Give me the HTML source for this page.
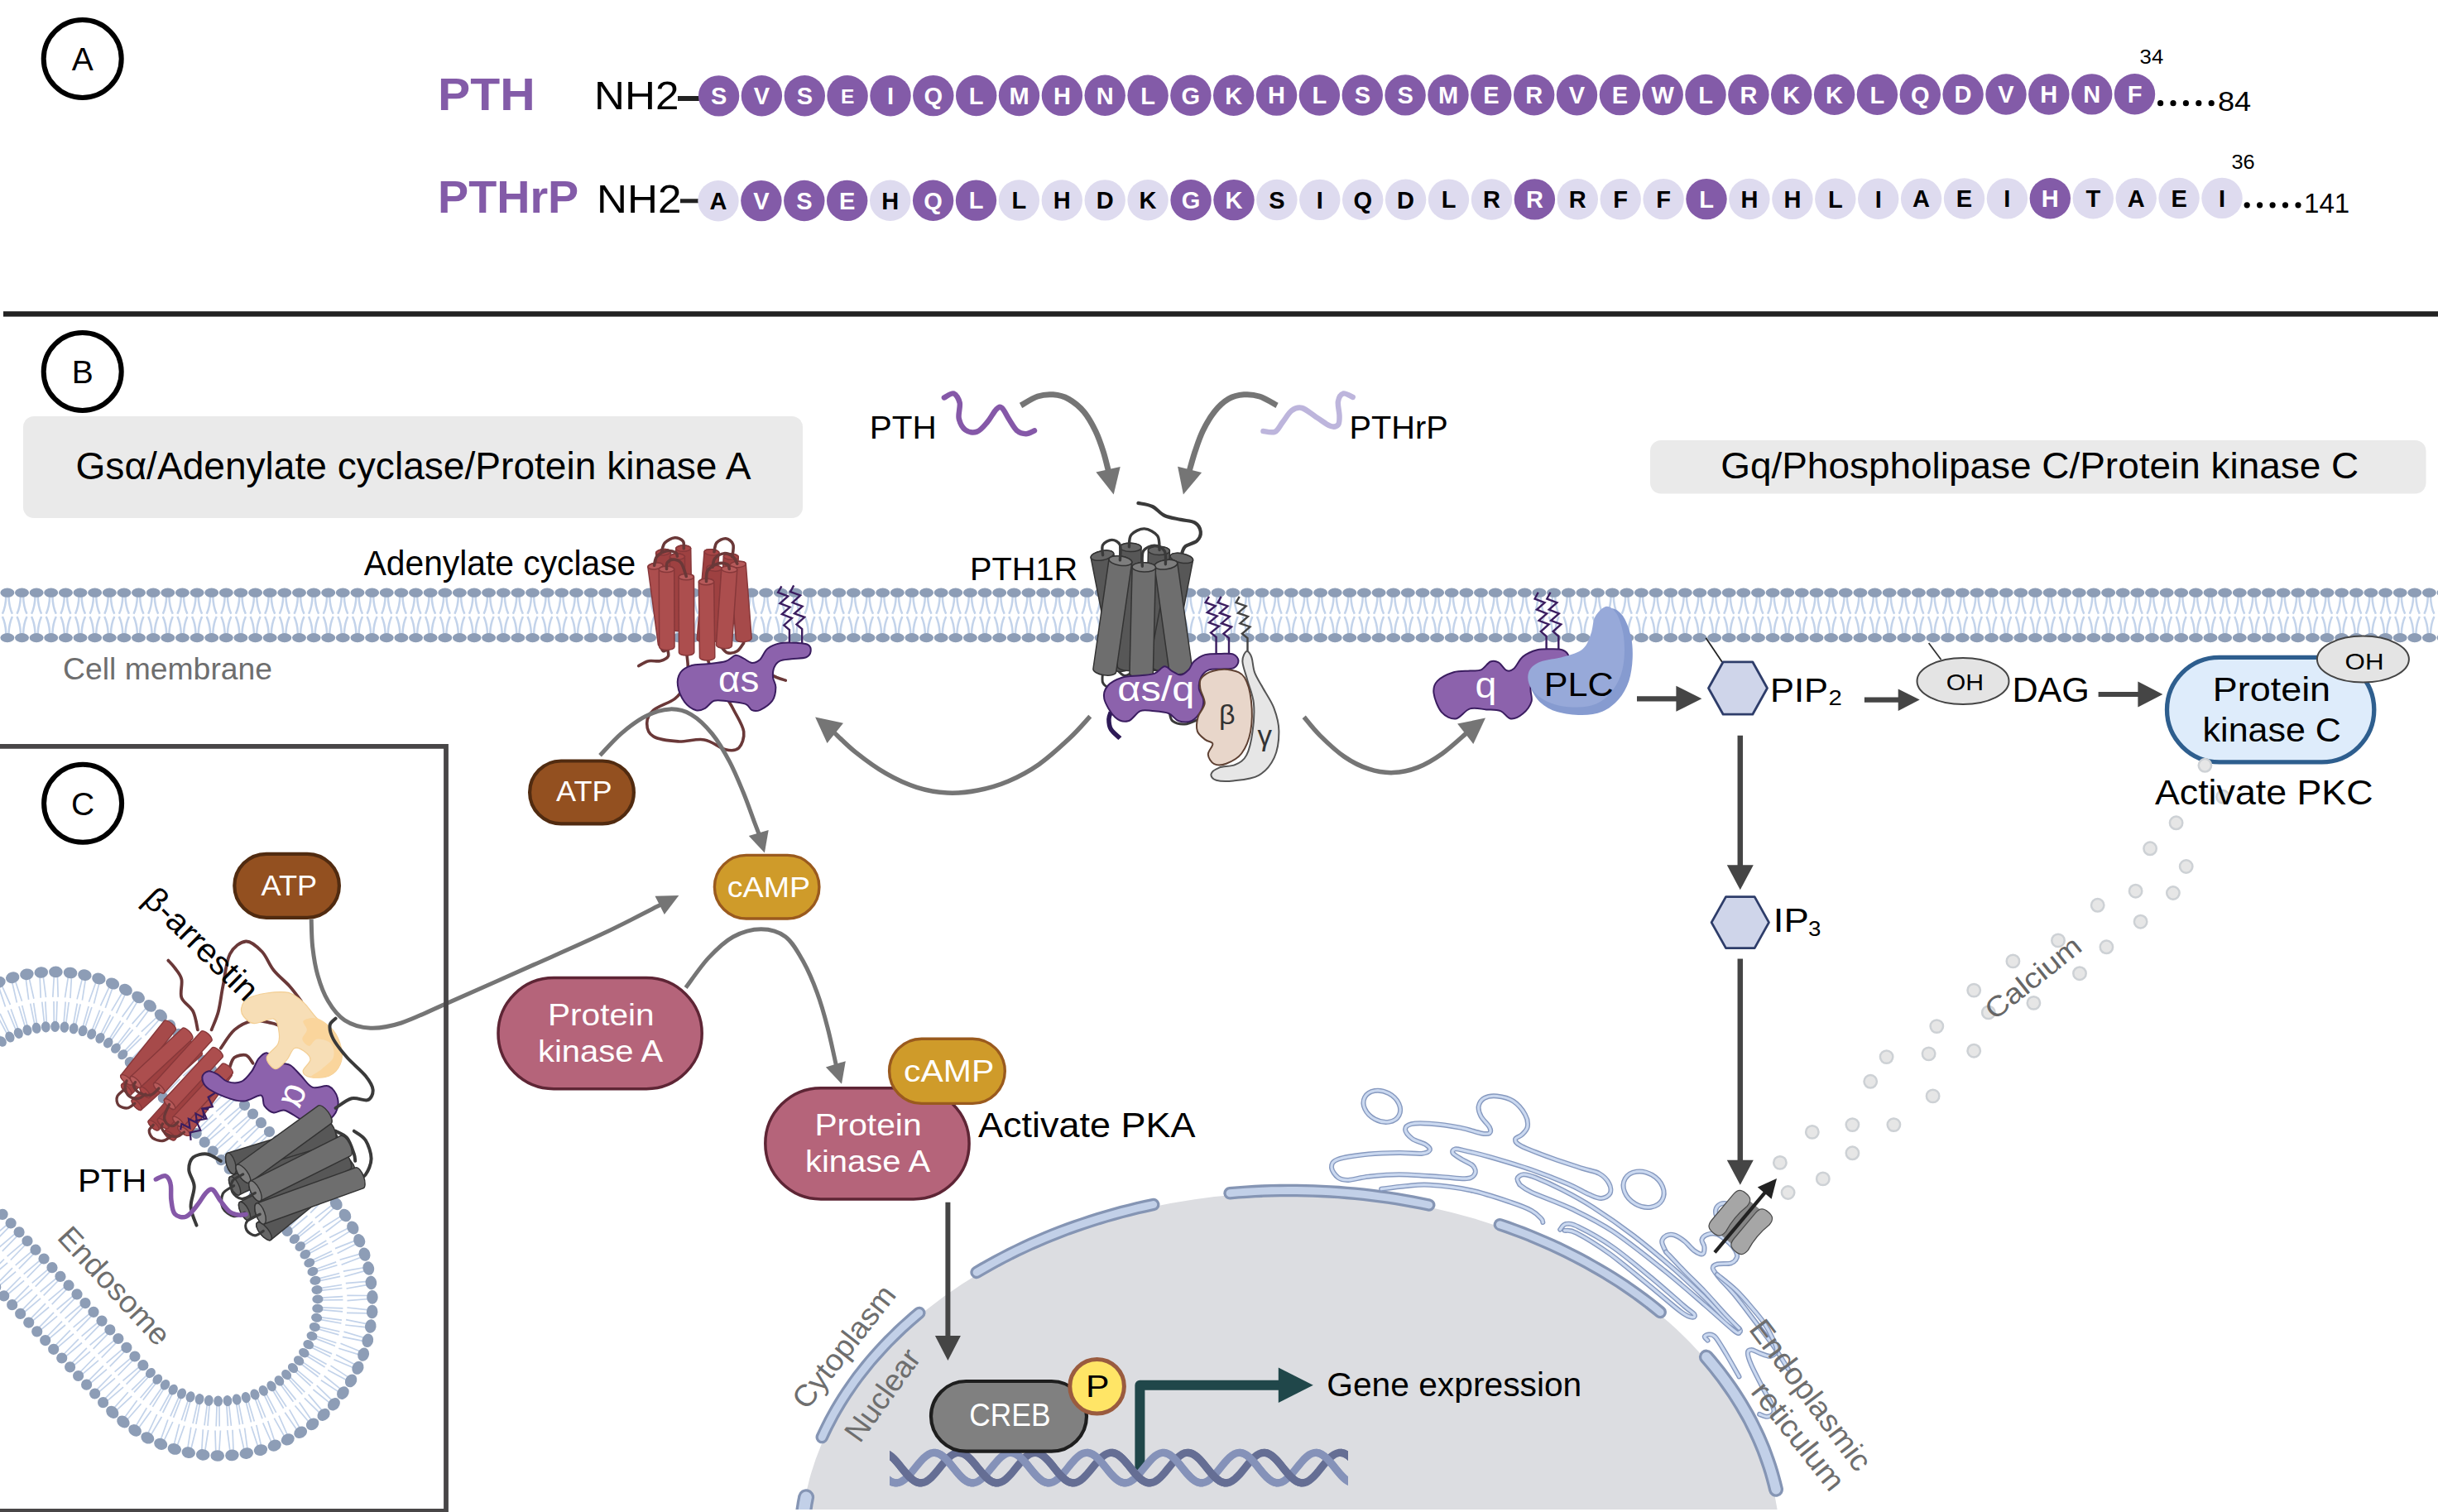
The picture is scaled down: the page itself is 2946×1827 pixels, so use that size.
<!DOCTYPE html>
<html><head><meta charset="utf-8"><title>PTH and PTHrP signalling</title>
<style>
html,body{margin:0;padding:0;background:#fff;}
body{width:2946px;height:1827px;overflow:hidden;}
svg{display:block;font-family:"Liberation Sans",sans-serif;}
</style></head><body>
<svg width="2946" height="1827" viewBox="0 0 2946 1827">
<defs>
<clipPath id="clipb"><rect x="0" y="0" width="2946" height="1823.9"/></clipPath>
<clipPath id="dnac"><rect x="1075" y="1700" width="554" height="120"/></clipPath>
<clipPath id="clipc"><rect x="0" y="902" width="539" height="923"/></clipPath>
</defs>
<circle cx="99.7" cy="71" r="47" fill="#fff" stroke="#000" stroke-width="6"/>
<text x="99.7" y="85" font-size="39" text-anchor="middle">A</text>
<text x="529" y="133.3" font-size="55.6" textLength="117.6" lengthAdjust="spacingAndGlyphs" fill="#835BA8" font-weight="bold">PTH</text>
<text x="529" y="257" font-size="55.6" textLength="170.2" lengthAdjust="spacingAndGlyphs" fill="#835BA8" font-weight="bold">PTHrP</text>
<text x="718" y="132" font-size="48" textLength="102.4" lengthAdjust="spacingAndGlyphs">NH2</text>
<text x="721" y="257" font-size="48" textLength="102.4" lengthAdjust="spacingAndGlyphs">NH2</text>
<rect x="819" y="116" width="27" height="6" fill="#222"/>
<rect x="822" y="240.3" width="22" height="5" fill="#222"/>
<g font-weight="bold" text-anchor="middle" font-size="29"><circle cx="868.6" cy="115.9" r="24.7" fill="#835BA8"/><circle cx="920.4" cy="115.8" r="24.7" fill="#835BA8"/><circle cx="972.3" cy="115.8" r="24.7" fill="#835BA8"/><circle cx="1024.1" cy="115.7" r="24.7" fill="#835BA8"/><circle cx="1076" cy="115.7" r="24.7" fill="#835BA8"/><circle cx="1127.8" cy="115.6" r="24.7" fill="#835BA8"/><circle cx="1179.7" cy="115.5" r="24.7" fill="#835BA8"/><circle cx="1231.5" cy="115.5" r="24.7" fill="#835BA8"/><circle cx="1283.4" cy="115.4" r="24.7" fill="#835BA8"/><circle cx="1335.2" cy="115.3" r="24.7" fill="#835BA8"/><circle cx="1387.1" cy="115.3" r="24.7" fill="#835BA8"/><circle cx="1438.9" cy="115.2" r="24.7" fill="#835BA8"/><circle cx="1490.7" cy="115.2" r="24.7" fill="#835BA8"/><circle cx="1542.6" cy="115.1" r="24.7" fill="#835BA8"/><circle cx="1594.4" cy="115" r="24.7" fill="#835BA8"/><circle cx="1646.3" cy="115" r="24.7" fill="#835BA8"/><circle cx="1698.1" cy="114.9" r="24.7" fill="#835BA8"/><circle cx="1750" cy="114.8" r="24.7" fill="#835BA8"/><circle cx="1801.8" cy="114.8" r="24.7" fill="#835BA8"/><circle cx="1853.7" cy="114.7" r="24.7" fill="#835BA8"/><circle cx="1905.5" cy="114.7" r="24.7" fill="#835BA8"/><circle cx="1957.4" cy="114.6" r="24.7" fill="#835BA8"/><circle cx="2009.2" cy="114.5" r="24.7" fill="#835BA8"/><circle cx="2061" cy="114.5" r="24.7" fill="#835BA8"/><circle cx="2112.9" cy="114.4" r="24.7" fill="#835BA8"/><circle cx="2164.7" cy="114.3" r="24.7" fill="#835BA8"/><circle cx="2216.6" cy="114.3" r="24.7" fill="#835BA8"/><circle cx="2268.4" cy="114.2" r="24.7" fill="#835BA8"/><circle cx="2320.3" cy="114.2" r="24.7" fill="#835BA8"/><circle cx="2372.1" cy="114.1" r="24.7" fill="#835BA8"/><circle cx="2424" cy="114" r="24.7" fill="#835BA8"/><circle cx="2475.8" cy="114" r="24.7" fill="#835BA8"/><circle cx="2527.7" cy="113.9" r="24.7" fill="#835BA8"/><circle cx="2579.5" cy="113.8" r="24.7" fill="#835BA8"/><text x="868.6" y="126.2" fill="#fff">S</text><text x="920.4" y="126.1" fill="#fff">V</text><text x="972.3" y="126.1" fill="#fff">S</text><text x="1024.1" y="125.1" fill="#fff" font-size="24.5">E</text><text x="1076" y="126" fill="#fff">I</text><text x="1127.8" y="125.9" fill="#fff">Q</text><text x="1179.7" y="125.8" fill="#fff">L</text><text x="1231.5" y="125.8" fill="#fff">M</text><text x="1283.4" y="125.7" fill="#fff">H</text><text x="1335.2" y="125.6" fill="#fff">N</text><text x="1387.1" y="125.6" fill="#fff">L</text><text x="1438.9" y="125.5" fill="#fff">G</text><text x="1490.7" y="125.5" fill="#fff">K</text><text x="1542.6" y="125.4" fill="#fff">H</text><text x="1594.4" y="125.3" fill="#fff">L</text><text x="1646.3" y="125.3" fill="#fff">S</text><text x="1698.1" y="125.2" fill="#fff">S</text><text x="1750" y="125.1" fill="#fff">M</text><text x="1801.8" y="125.1" fill="#fff">E</text><text x="1853.7" y="125" fill="#fff">R</text><text x="1905.5" y="125" fill="#fff">V</text><text x="1957.4" y="124.9" fill="#fff">E</text><text x="2009.2" y="124.8" fill="#fff">W</text><text x="2061" y="124.8" fill="#fff">L</text><text x="2112.9" y="124.7" fill="#fff">R</text><text x="2164.7" y="124.6" fill="#fff">K</text><text x="2216.6" y="124.6" fill="#fff">K</text><text x="2268.4" y="124.5" fill="#fff">L</text><text x="2320.3" y="124.5" fill="#fff">Q</text><text x="2372.1" y="124.4" fill="#fff">D</text><text x="2424" y="124.3" fill="#fff">V</text><text x="2475.8" y="124.3" fill="#fff">H</text><text x="2527.7" y="124.2" fill="#fff">N</text><text x="2579.5" y="124.1" fill="#fff">F</text><circle cx="868" cy="242.7" r="24.7" fill="#DEDBEF"/><circle cx="1075.7" cy="242.3" r="24.7" fill="#DEDBEF"/><circle cx="1231.4" cy="242" r="24.7" fill="#DEDBEF"/><circle cx="1283.3" cy="242" r="24.7" fill="#DEDBEF"/><circle cx="1335.2" cy="241.9" r="24.7" fill="#DEDBEF"/><circle cx="1387.1" cy="241.8" r="24.7" fill="#DEDBEF"/><circle cx="1542.9" cy="241.5" r="24.7" fill="#DEDBEF"/><circle cx="1594.8" cy="241.4" r="24.7" fill="#DEDBEF"/><circle cx="1646.7" cy="241.3" r="24.7" fill="#DEDBEF"/><circle cx="1698.6" cy="241.2" r="24.7" fill="#DEDBEF"/><circle cx="1750.5" cy="241.1" r="24.7" fill="#DEDBEF"/><circle cx="1802.5" cy="241" r="24.7" fill="#DEDBEF"/><circle cx="1906.3" cy="240.8" r="24.7" fill="#DEDBEF"/><circle cx="1958.2" cy="240.7" r="24.7" fill="#DEDBEF"/><circle cx="2010.1" cy="240.6" r="24.7" fill="#DEDBEF"/><circle cx="2113.9" cy="240.5" r="24.7" fill="#DEDBEF"/><circle cx="2165.9" cy="240.4" r="24.7" fill="#DEDBEF"/><circle cx="2217.8" cy="240.3" r="24.7" fill="#DEDBEF"/><circle cx="2269.7" cy="240.2" r="24.7" fill="#DEDBEF"/><circle cx="2321.6" cy="240.1" r="24.7" fill="#DEDBEF"/><circle cx="2373.5" cy="240" r="24.7" fill="#DEDBEF"/><circle cx="2425.4" cy="239.9" r="24.7" fill="#DEDBEF"/><circle cx="2529.3" cy="239.7" r="24.7" fill="#DEDBEF"/><circle cx="2581.2" cy="239.6" r="24.7" fill="#DEDBEF"/><circle cx="2633.1" cy="239.5" r="24.7" fill="#DEDBEF"/><circle cx="2685" cy="239.4" r="24.7" fill="#DEDBEF"/><circle cx="919.9" cy="242.6" r="24.7" fill="#835BA8"/><circle cx="971.8" cy="242.5" r="24.7" fill="#835BA8"/><circle cx="1023.7" cy="242.4" r="24.7" fill="#835BA8"/><circle cx="1127.6" cy="242.2" r="24.7" fill="#835BA8"/><circle cx="1179.5" cy="242.1" r="24.7" fill="#835BA8"/><circle cx="1439.1" cy="241.7" r="24.7" fill="#835BA8"/><circle cx="1491" cy="241.6" r="24.7" fill="#835BA8"/><circle cx="1854.4" cy="240.9" r="24.7" fill="#835BA8"/><circle cx="2062" cy="240.6" r="24.7" fill="#835BA8"/><circle cx="2477.3" cy="239.8" r="24.7" fill="#835BA8"/><text x="868" y="253" fill="#000">A</text><text x="919.9" y="252.9" fill="#fff">V</text><text x="971.8" y="252.8" fill="#fff">S</text><text x="1023.7" y="252.7" fill="#fff">E</text><text x="1075.7" y="252.6" fill="#000">H</text><text x="1127.6" y="252.5" fill="#fff">Q</text><text x="1179.5" y="252.4" fill="#fff">L</text><text x="1231.4" y="252.3" fill="#000">L</text><text x="1283.3" y="252.3" fill="#000">H</text><text x="1335.2" y="252.2" fill="#000">D</text><text x="1387.1" y="252.1" fill="#000">K</text><text x="1439.1" y="252" fill="#fff">G</text><text x="1491" y="251.9" fill="#fff">K</text><text x="1542.9" y="251.8" fill="#000">S</text><text x="1594.8" y="251.7" fill="#000">I</text><text x="1646.7" y="251.6" fill="#000">Q</text><text x="1698.6" y="251.5" fill="#000">D</text><text x="1750.5" y="251.4" fill="#000">L</text><text x="1802.5" y="251.3" fill="#000">R</text><text x="1854.4" y="251.2" fill="#fff">R</text><text x="1906.3" y="251.1" fill="#000">R</text><text x="1958.2" y="251" fill="#000">F</text><text x="2010.1" y="250.9" fill="#000">F</text><text x="2062" y="250.9" fill="#fff">L</text><text x="2113.9" y="250.8" fill="#000">H</text><text x="2165.9" y="250.7" fill="#000">H</text><text x="2217.8" y="250.6" fill="#000">L</text><text x="2269.7" y="250.5" fill="#000">I</text><text x="2321.6" y="250.4" fill="#000">A</text><text x="2373.5" y="250.3" fill="#000">E</text><text x="2425.4" y="250.2" fill="#000">I</text><text x="2477.3" y="250.1" fill="#fff">H</text><text x="2529.3" y="250" fill="#000">T</text><text x="2581.2" y="249.9" fill="#000">A</text><text x="2633.1" y="249.8" fill="#000">E</text><text x="2685" y="249.7" fill="#000">I</text></g>
<text x="2585.6" y="76.8" font-size="24" textLength="28.6" lengthAdjust="spacingAndGlyphs">34</text>
<text x="2696.4" y="203.9" font-size="24" textLength="28.2" lengthAdjust="spacingAndGlyphs">36</text>
<circle cx="2610.6" cy="124.7" r="3.6"/>
<circle cx="2715.2" cy="247.8" r="3.6"/>
<circle cx="2626" cy="124.7" r="3.6"/>
<circle cx="2730.6" cy="247.8" r="3.6"/>
<circle cx="2641.4" cy="124.7" r="3.6"/>
<circle cx="2746.1" cy="247.8" r="3.6"/>
<circle cx="2656.8" cy="124.7" r="3.6"/>
<circle cx="2761.5" cy="247.8" r="3.6"/>
<circle cx="2672.2" cy="124.7" r="3.6"/>
<circle cx="2777" cy="247.8" r="3.6"/>
<text x="2680" y="134.2" font-size="33" textLength="40.2" lengthAdjust="spacingAndGlyphs">84</text>
<text x="2784" y="257.2" font-size="33" textLength="55.3" lengthAdjust="spacingAndGlyphs">141</text>
<rect x="4" y="376.2" width="2942" height="6.4" fill="#222"/>
<circle cx="99.7" cy="449" r="47" fill="#fff" stroke="#000" stroke-width="6"/>
<text x="99.7" y="463" font-size="39" text-anchor="middle">B</text>
<rect x="28" y="503" width="942" height="123" rx="13" fill="#EAEAEA"/>
<text x="91.5" y="579" font-size="46" textLength="816" lengthAdjust="spacingAndGlyphs">Gsα/Adenylate cyclase/Protein kinase A</text>
<rect x="1994" y="532" width="937.5" height="64.5" rx="13" fill="#EAEAEA"/>
<text x="2079.2" y="577.7" font-size="44" textLength="771" lengthAdjust="spacingAndGlyphs">Gq/Phospholipase C/Protein kinase C</text>
<path d="M7.3,720.7c-0.2,7.5 -1.4,14.5 -4.4,21.1M10.5,720.7c0.2,7.5 1.4,14.5 4.4,21.1M7.3,766.1c-0.2,-7.5 -1.4,-14.5 -4.4,-21.1M10.5,766.1c0.2,-7.5 1.4,-14.5 4.4,-21.1M24.9,720.7c-0.2,7.5 -1.4,14.5 -4.4,21.1M28.1,720.7c0.2,7.5 1.4,14.5 4.4,21.1M24.9,766.1c-0.2,-7.5 -1.4,-14.5 -4.4,-21.1M28.1,766.1c0.2,-7.5 1.4,-14.5 4.4,-21.1M42.5,720.7c-0.2,7.5 -1.4,14.5 -4.4,21.1M45.7,720.7c0.2,7.5 1.4,14.5 4.4,21.1M42.5,766.1c-0.2,-7.5 -1.4,-14.5 -4.4,-21.1M45.7,766.1c0.2,-7.5 1.4,-14.5 4.4,-21.1M60.1,720.7c-0.2,7.5 -1.4,14.5 -4.4,21.1M63.4,720.7c0.2,7.5 1.4,14.5 4.4,21.1M60.1,766.1c-0.2,-7.5 -1.4,-14.5 -4.4,-21.1M63.4,766.1c0.2,-7.5 1.4,-14.5 4.4,-21.1M77.8,720.7c-0.2,7.5 -1.4,14.5 -4.4,21.1M81,720.7c0.2,7.5 1.4,14.5 4.4,21.1M77.8,766.1c-0.2,-7.5 -1.4,-14.5 -4.4,-21.1M81,766.1c0.2,-7.5 1.4,-14.5 4.4,-21.1M95.4,720.7c-0.2,7.5 -1.4,14.5 -4.4,21.1M98.6,720.7c0.2,7.5 1.4,14.5 4.4,21.1M95.4,766.1c-0.2,-7.5 -1.4,-14.5 -4.4,-21.1M98.6,766.1c0.2,-7.5 1.4,-14.5 4.4,-21.1M113,720.7c-0.2,7.5 -1.4,14.5 -4.4,21.1M116.2,720.7c0.2,7.5 1.4,14.5 4.4,21.1M113,766.1c-0.2,-7.5 -1.4,-14.5 -4.4,-21.1M116.2,766.1c0.2,-7.5 1.4,-14.5 4.4,-21.1M130.7,720.7c-0.2,7.5 -1.4,14.5 -4.4,21.1M133.9,720.7c0.2,7.5 1.4,14.5 4.4,21.1M130.7,766.1c-0.2,-7.5 -1.4,-14.5 -4.4,-21.1M133.9,766.1c0.2,-7.5 1.4,-14.5 4.4,-21.1M148.3,720.7c-0.2,7.5 -1.4,14.5 -4.4,21.1M151.5,720.7c0.2,7.5 1.4,14.5 4.4,21.1M148.3,766.1c-0.2,-7.5 -1.4,-14.5 -4.4,-21.1M151.5,766.1c0.2,-7.5 1.4,-14.5 4.4,-21.1M165.9,720.7c-0.2,7.5 -1.4,14.5 -4.4,21.1M169.1,720.7c0.2,7.5 1.4,14.5 4.4,21.1M165.9,766.1c-0.2,-7.5 -1.4,-14.5 -4.4,-21.1M169.1,766.1c0.2,-7.5 1.4,-14.5 4.4,-21.1M183.6,720.7c-0.2,7.5 -1.4,14.5 -4.4,21.1M186.8,720.7c0.2,7.5 1.4,14.5 4.4,21.1M183.6,766.1c-0.2,-7.5 -1.4,-14.5 -4.4,-21.1M186.8,766.1c0.2,-7.5 1.4,-14.5 4.4,-21.1M201.2,720.7c-0.2,7.5 -1.4,14.5 -4.4,21.1M204.4,720.7c0.2,7.5 1.4,14.5 4.4,21.1M201.2,766.1c-0.2,-7.5 -1.4,-14.5 -4.4,-21.1M204.4,766.1c0.2,-7.5 1.4,-14.5 4.4,-21.1M218.8,720.7c-0.2,7.5 -1.4,14.5 -4.4,21.1M222,720.7c0.2,7.5 1.4,14.5 4.4,21.1M218.8,766.1c-0.2,-7.5 -1.4,-14.5 -4.4,-21.1M222,766.1c0.2,-7.5 1.4,-14.5 4.4,-21.1M236.5,720.7c-0.2,7.5 -1.4,14.5 -4.4,21.1M239.7,720.7c0.2,7.5 1.4,14.5 4.4,21.1M236.5,766.1c-0.2,-7.5 -1.4,-14.5 -4.4,-21.1M239.7,766.1c0.2,-7.5 1.4,-14.5 4.4,-21.1M254.1,720.7c-0.2,7.5 -1.4,14.5 -4.4,21.1M257.3,720.7c0.2,7.5 1.4,14.5 4.4,21.1M254.1,766.1c-0.2,-7.5 -1.4,-14.5 -4.4,-21.1M257.3,766.1c0.2,-7.5 1.4,-14.5 4.4,-21.1M271.7,720.7c-0.2,7.5 -1.4,14.5 -4.4,21.1M274.9,720.7c0.2,7.5 1.4,14.5 4.4,21.1M271.7,766.1c-0.2,-7.5 -1.4,-14.5 -4.4,-21.1M274.9,766.1c0.2,-7.5 1.4,-14.5 4.4,-21.1M289.3,720.7c-0.2,7.5 -1.4,14.5 -4.4,21.1M292.5,720.7c0.2,7.5 1.4,14.5 4.4,21.1M289.3,766.1c-0.2,-7.5 -1.4,-14.5 -4.4,-21.1M292.5,766.1c0.2,-7.5 1.4,-14.5 4.4,-21.1M307,720.7c-0.2,7.5 -1.4,14.5 -4.4,21.1M310.2,720.7c0.2,7.5 1.4,14.5 4.4,21.1M307,766.1c-0.2,-7.5 -1.4,-14.5 -4.4,-21.1M310.2,766.1c0.2,-7.5 1.4,-14.5 4.4,-21.1M324.6,720.7c-0.2,7.5 -1.4,14.5 -4.4,21.1M327.8,720.7c0.2,7.5 1.4,14.5 4.4,21.1M324.6,766.1c-0.2,-7.5 -1.4,-14.5 -4.4,-21.1M327.8,766.1c0.2,-7.5 1.4,-14.5 4.4,-21.1M342.2,720.7c-0.2,7.5 -1.4,14.5 -4.4,21.1M345.4,720.7c0.2,7.5 1.4,14.5 4.4,21.1M342.2,766.1c-0.2,-7.5 -1.4,-14.5 -4.4,-21.1M345.4,766.1c0.2,-7.5 1.4,-14.5 4.4,-21.1M359.9,720.7c-0.2,7.5 -1.4,14.5 -4.4,21.1M363.1,720.7c0.2,7.5 1.4,14.5 4.4,21.1M359.9,766.1c-0.2,-7.5 -1.4,-14.5 -4.4,-21.1M363.1,766.1c0.2,-7.5 1.4,-14.5 4.4,-21.1M377.5,720.7c-0.2,7.5 -1.4,14.5 -4.4,21.1M380.7,720.7c0.2,7.5 1.4,14.5 4.4,21.1M377.5,766.1c-0.2,-7.5 -1.4,-14.5 -4.4,-21.1M380.7,766.1c0.2,-7.5 1.4,-14.5 4.4,-21.1M395.1,720.7c-0.2,7.5 -1.4,14.5 -4.4,21.1M398.3,720.7c0.2,7.5 1.4,14.5 4.4,21.1M395.1,766.1c-0.2,-7.5 -1.4,-14.5 -4.4,-21.1M398.3,766.1c0.2,-7.5 1.4,-14.5 4.4,-21.1M412.7,720.7c-0.2,7.5 -1.4,14.5 -4.4,21.1M415.9,720.7c0.2,7.5 1.4,14.5 4.4,21.1M412.7,766.1c-0.2,-7.5 -1.4,-14.5 -4.4,-21.1M415.9,766.1c0.2,-7.5 1.4,-14.5 4.4,-21.1M430.4,720.7c-0.2,7.5 -1.4,14.5 -4.4,21.1M433.6,720.7c0.2,7.5 1.4,14.5 4.4,21.1M430.4,766.1c-0.2,-7.5 -1.4,-14.5 -4.4,-21.1M433.6,766.1c0.2,-7.5 1.4,-14.5 4.4,-21.1M448,720.7c-0.2,7.5 -1.4,14.5 -4.4,21.1M451.2,720.7c0.2,7.5 1.4,14.5 4.4,21.1M448,766.1c-0.2,-7.5 -1.4,-14.5 -4.4,-21.1M451.2,766.1c0.2,-7.5 1.4,-14.5 4.4,-21.1M465.6,720.7c-0.2,7.5 -1.4,14.5 -4.4,21.1M468.8,720.7c0.2,7.5 1.4,14.5 4.4,21.1M465.6,766.1c-0.2,-7.5 -1.4,-14.5 -4.4,-21.1M468.8,766.1c0.2,-7.5 1.4,-14.5 4.4,-21.1M483.3,720.7c-0.2,7.5 -1.4,14.5 -4.4,21.1M486.5,720.7c0.2,7.5 1.4,14.5 4.4,21.1M483.3,766.1c-0.2,-7.5 -1.4,-14.5 -4.4,-21.1M486.5,766.1c0.2,-7.5 1.4,-14.5 4.4,-21.1M500.9,720.7c-0.2,7.5 -1.4,14.5 -4.4,21.1M504.1,720.7c0.2,7.5 1.4,14.5 4.4,21.1M500.9,766.1c-0.2,-7.5 -1.4,-14.5 -4.4,-21.1M504.1,766.1c0.2,-7.5 1.4,-14.5 4.4,-21.1M518.5,720.7c-0.2,7.5 -1.4,14.5 -4.4,21.1M521.7,720.7c0.2,7.5 1.4,14.5 4.4,21.1M518.5,766.1c-0.2,-7.5 -1.4,-14.5 -4.4,-21.1M521.7,766.1c0.2,-7.5 1.4,-14.5 4.4,-21.1M536.2,720.7c-0.2,7.5 -1.4,14.5 -4.4,21.1M539.4,720.7c0.2,7.5 1.4,14.5 4.4,21.1M536.2,766.1c-0.2,-7.5 -1.4,-14.5 -4.4,-21.1M539.4,766.1c0.2,-7.5 1.4,-14.5 4.4,-21.1M553.8,720.7c-0.2,7.5 -1.4,14.5 -4.4,21.1M557,720.7c0.2,7.5 1.4,14.5 4.4,21.1M553.8,766.1c-0.2,-7.5 -1.4,-14.5 -4.4,-21.1M557,766.1c0.2,-7.5 1.4,-14.5 4.4,-21.1M571.4,720.7c-0.2,7.5 -1.4,14.5 -4.4,21.1M574.6,720.7c0.2,7.5 1.4,14.5 4.4,21.1M571.4,766.1c-0.2,-7.5 -1.4,-14.5 -4.4,-21.1M574.6,766.1c0.2,-7.5 1.4,-14.5 4.4,-21.1M589,720.7c-0.2,7.5 -1.4,14.5 -4.4,21.1M592.2,720.7c0.2,7.5 1.4,14.5 4.4,21.1M589,766.1c-0.2,-7.5 -1.4,-14.5 -4.4,-21.1M592.2,766.1c0.2,-7.5 1.4,-14.5 4.4,-21.1M606.7,720.7c-0.2,7.5 -1.4,14.5 -4.4,21.1M609.9,720.7c0.2,7.5 1.4,14.5 4.4,21.1M606.7,766.1c-0.2,-7.5 -1.4,-14.5 -4.4,-21.1M609.9,766.1c0.2,-7.5 1.4,-14.5 4.4,-21.1M624.3,720.7c-0.2,7.5 -1.4,14.5 -4.4,21.1M627.5,720.7c0.2,7.5 1.4,14.5 4.4,21.1M624.3,766.1c-0.2,-7.5 -1.4,-14.5 -4.4,-21.1M627.5,766.1c0.2,-7.5 1.4,-14.5 4.4,-21.1M641.9,720.7c-0.2,7.5 -1.4,14.5 -4.4,21.1M645.1,720.7c0.2,7.5 1.4,14.5 4.4,21.1M641.9,766.1c-0.2,-7.5 -1.4,-14.5 -4.4,-21.1M645.1,766.1c0.2,-7.5 1.4,-14.5 4.4,-21.1M659.6,720.7c-0.2,7.5 -1.4,14.5 -4.4,21.1M662.8,720.7c0.2,7.5 1.4,14.5 4.4,21.1M659.6,766.1c-0.2,-7.5 -1.4,-14.5 -4.4,-21.1M662.8,766.1c0.2,-7.5 1.4,-14.5 4.4,-21.1M677.2,720.7c-0.2,7.5 -1.4,14.5 -4.4,21.1M680.4,720.7c0.2,7.5 1.4,14.5 4.4,21.1M677.2,766.1c-0.2,-7.5 -1.4,-14.5 -4.4,-21.1M680.4,766.1c0.2,-7.5 1.4,-14.5 4.4,-21.1M694.8,720.7c-0.2,7.5 -1.4,14.5 -4.4,21.1M698,720.7c0.2,7.5 1.4,14.5 4.4,21.1M694.8,766.1c-0.2,-7.5 -1.4,-14.5 -4.4,-21.1M698,766.1c0.2,-7.5 1.4,-14.5 4.4,-21.1M712.5,720.7c-0.2,7.5 -1.4,14.5 -4.4,21.1M715.7,720.7c0.2,7.5 1.4,14.5 4.4,21.1M712.5,766.1c-0.2,-7.5 -1.4,-14.5 -4.4,-21.1M715.7,766.1c0.2,-7.5 1.4,-14.5 4.4,-21.1M730.1,720.7c-0.2,7.5 -1.4,14.5 -4.4,21.1M733.3,720.7c0.2,7.5 1.4,14.5 4.4,21.1M730.1,766.1c-0.2,-7.5 -1.4,-14.5 -4.4,-21.1M733.3,766.1c0.2,-7.5 1.4,-14.5 4.4,-21.1M747.7,720.7c-0.2,7.5 -1.4,14.5 -4.4,21.1M750.9,720.7c0.2,7.5 1.4,14.5 4.4,21.1M747.7,766.1c-0.2,-7.5 -1.4,-14.5 -4.4,-21.1M750.9,766.1c0.2,-7.5 1.4,-14.5 4.4,-21.1M765.3,720.7c-0.2,7.5 -1.4,14.5 -4.4,21.1M768.5,720.7c0.2,7.5 1.4,14.5 4.4,21.1M765.3,766.1c-0.2,-7.5 -1.4,-14.5 -4.4,-21.1M768.5,766.1c0.2,-7.5 1.4,-14.5 4.4,-21.1M783,720.7c-0.2,7.5 -1.4,14.5 -4.4,21.1M786.2,720.7c0.2,7.5 1.4,14.5 4.4,21.1M783,766.1c-0.2,-7.5 -1.4,-14.5 -4.4,-21.1M786.2,766.1c0.2,-7.5 1.4,-14.5 4.4,-21.1M800.6,720.7c-0.2,7.5 -1.4,14.5 -4.4,21.1M803.8,720.7c0.2,7.5 1.4,14.5 4.4,21.1M800.6,766.1c-0.2,-7.5 -1.4,-14.5 -4.4,-21.1M803.8,766.1c0.2,-7.5 1.4,-14.5 4.4,-21.1M818.2,720.7c-0.2,7.5 -1.4,14.5 -4.4,21.1M821.4,720.7c0.2,7.5 1.4,14.5 4.4,21.1M818.2,766.1c-0.2,-7.5 -1.4,-14.5 -4.4,-21.1M821.4,766.1c0.2,-7.5 1.4,-14.5 4.4,-21.1M835.9,720.7c-0.2,7.5 -1.4,14.5 -4.4,21.1M839.1,720.7c0.2,7.5 1.4,14.5 4.4,21.1M835.9,766.1c-0.2,-7.5 -1.4,-14.5 -4.4,-21.1M839.1,766.1c0.2,-7.5 1.4,-14.5 4.4,-21.1M853.5,720.7c-0.2,7.5 -1.4,14.5 -4.4,21.1M856.7,720.7c0.2,7.5 1.4,14.5 4.4,21.1M853.5,766.1c-0.2,-7.5 -1.4,-14.5 -4.4,-21.1M856.7,766.1c0.2,-7.5 1.4,-14.5 4.4,-21.1M871.1,720.7c-0.2,7.5 -1.4,14.5 -4.4,21.1M874.3,720.7c0.2,7.5 1.4,14.5 4.4,21.1M871.1,766.1c-0.2,-7.5 -1.4,-14.5 -4.4,-21.1M874.3,766.1c0.2,-7.5 1.4,-14.5 4.4,-21.1M888.8,720.7c-0.2,7.5 -1.4,14.5 -4.4,21.1M892,720.7c0.2,7.5 1.4,14.5 4.4,21.1M888.8,766.1c-0.2,-7.5 -1.4,-14.5 -4.4,-21.1M892,766.1c0.2,-7.5 1.4,-14.5 4.4,-21.1M906.4,720.7c-0.2,7.5 -1.4,14.5 -4.4,21.1M909.6,720.7c0.2,7.5 1.4,14.5 4.4,21.1M906.4,766.1c-0.2,-7.5 -1.4,-14.5 -4.4,-21.1M909.6,766.1c0.2,-7.5 1.4,-14.5 4.4,-21.1M924,720.7c-0.2,7.5 -1.4,14.5 -4.4,21.1M927.2,720.7c0.2,7.5 1.4,14.5 4.4,21.1M924,766.1c-0.2,-7.5 -1.4,-14.5 -4.4,-21.1M927.2,766.1c0.2,-7.5 1.4,-14.5 4.4,-21.1M941.6,720.7c-0.2,7.5 -1.4,14.5 -4.4,21.1M944.9,720.7c0.2,7.5 1.4,14.5 4.4,21.1M941.6,766.1c-0.2,-7.5 -1.4,-14.5 -4.4,-21.1M944.9,766.1c0.2,-7.5 1.4,-14.5 4.4,-21.1M959.3,720.7c-0.2,7.5 -1.4,14.5 -4.4,21.1M962.5,720.7c0.2,7.5 1.4,14.5 4.4,21.1M959.3,766.1c-0.2,-7.5 -1.4,-14.5 -4.4,-21.1M962.5,766.1c0.2,-7.5 1.4,-14.5 4.4,-21.1M976.9,720.7c-0.2,7.5 -1.4,14.5 -4.4,21.1M980.1,720.7c0.2,7.5 1.4,14.5 4.4,21.1M976.9,766.1c-0.2,-7.5 -1.4,-14.5 -4.4,-21.1M980.1,766.1c0.2,-7.5 1.4,-14.5 4.4,-21.1M994.5,720.7c-0.2,7.5 -1.4,14.5 -4.4,21.1M997.7,720.7c0.2,7.5 1.4,14.5 4.4,21.1M994.5,766.1c-0.2,-7.5 -1.4,-14.5 -4.4,-21.1M997.7,766.1c0.2,-7.5 1.4,-14.5 4.4,-21.1M1012.2,720.7c-0.2,7.5 -1.4,14.5 -4.4,21.1M1015.4,720.7c0.2,7.5 1.4,14.5 4.4,21.1M1012.2,766.1c-0.2,-7.5 -1.4,-14.5 -4.4,-21.1M1015.4,766.1c0.2,-7.5 1.4,-14.5 4.4,-21.1M1029.8,720.7c-0.2,7.5 -1.4,14.5 -4.4,21.1M1033,720.7c0.2,7.5 1.4,14.5 4.4,21.1M1029.8,766.1c-0.2,-7.5 -1.4,-14.5 -4.4,-21.1M1033,766.1c0.2,-7.5 1.4,-14.5 4.4,-21.1M1047.4,720.7c-0.2,7.5 -1.4,14.5 -4.4,21.1M1050.6,720.7c0.2,7.5 1.4,14.5 4.4,21.1M1047.4,766.1c-0.2,-7.5 -1.4,-14.5 -4.4,-21.1M1050.6,766.1c0.2,-7.5 1.4,-14.5 4.4,-21.1M1065.1,720.7c-0.2,7.5 -1.4,14.5 -4.4,21.1M1068.3,720.7c0.2,7.5 1.4,14.5 4.4,21.1M1065.1,766.1c-0.2,-7.5 -1.4,-14.5 -4.4,-21.1M1068.3,766.1c0.2,-7.5 1.4,-14.5 4.4,-21.1M1082.7,720.7c-0.2,7.5 -1.4,14.5 -4.4,21.1M1085.9,720.7c0.2,7.5 1.4,14.5 4.4,21.1M1082.7,766.1c-0.2,-7.5 -1.4,-14.5 -4.4,-21.1M1085.9,766.1c0.2,-7.5 1.4,-14.5 4.4,-21.1M1100.3,720.7c-0.2,7.5 -1.4,14.5 -4.4,21.1M1103.5,720.7c0.2,7.5 1.4,14.5 4.4,21.1M1100.3,766.1c-0.2,-7.5 -1.4,-14.5 -4.4,-21.1M1103.5,766.1c0.2,-7.5 1.4,-14.5 4.4,-21.1M1117.9,720.7c-0.2,7.5 -1.4,14.5 -4.4,21.1M1121.1,720.7c0.2,7.5 1.4,14.5 4.4,21.1M1117.9,766.1c-0.2,-7.5 -1.4,-14.5 -4.4,-21.1M1121.1,766.1c0.2,-7.5 1.4,-14.5 4.4,-21.1M1135.6,720.7c-0.2,7.5 -1.4,14.5 -4.4,21.1M1138.8,720.7c0.2,7.5 1.4,14.5 4.4,21.1M1135.6,766.1c-0.2,-7.5 -1.4,-14.5 -4.4,-21.1M1138.8,766.1c0.2,-7.5 1.4,-14.5 4.4,-21.1M1153.2,720.7c-0.2,7.5 -1.4,14.5 -4.4,21.1M1156.4,720.7c0.2,7.5 1.4,14.5 4.4,21.1M1153.2,766.1c-0.2,-7.5 -1.4,-14.5 -4.4,-21.1M1156.4,766.1c0.2,-7.5 1.4,-14.5 4.4,-21.1M1170.8,720.7c-0.2,7.5 -1.4,14.5 -4.4,21.1M1174,720.7c0.2,7.5 1.4,14.5 4.4,21.1M1170.8,766.1c-0.2,-7.5 -1.4,-14.5 -4.4,-21.1M1174,766.1c0.2,-7.5 1.4,-14.5 4.4,-21.1M1188.5,720.7c-0.2,7.5 -1.4,14.5 -4.4,21.1M1191.7,720.7c0.2,7.5 1.4,14.5 4.4,21.1M1188.5,766.1c-0.2,-7.5 -1.4,-14.5 -4.4,-21.1M1191.7,766.1c0.2,-7.5 1.4,-14.5 4.4,-21.1M1206.1,720.7c-0.2,7.5 -1.4,14.5 -4.4,21.1M1209.3,720.7c0.2,7.5 1.4,14.5 4.4,21.1M1206.1,766.1c-0.2,-7.5 -1.4,-14.5 -4.4,-21.1M1209.3,766.1c0.2,-7.5 1.4,-14.5 4.4,-21.1M1223.7,720.7c-0.2,7.5 -1.4,14.5 -4.4,21.1M1226.9,720.7c0.2,7.5 1.4,14.5 4.4,21.1M1223.7,766.1c-0.2,-7.5 -1.4,-14.5 -4.4,-21.1M1226.9,766.1c0.2,-7.5 1.4,-14.5 4.4,-21.1M1241.4,720.7c-0.2,7.5 -1.4,14.5 -4.4,21.1M1244.6,720.7c0.2,7.5 1.4,14.5 4.4,21.1M1241.4,766.1c-0.2,-7.5 -1.4,-14.5 -4.4,-21.1M1244.6,766.1c0.2,-7.5 1.4,-14.5 4.4,-21.1M1259,720.7c-0.2,7.5 -1.4,14.5 -4.4,21.1M1262.2,720.7c0.2,7.5 1.4,14.5 4.4,21.1M1259,766.1c-0.2,-7.5 -1.4,-14.5 -4.4,-21.1M1262.2,766.1c0.2,-7.5 1.4,-14.5 4.4,-21.1M1276.6,720.7c-0.2,7.5 -1.4,14.5 -4.4,21.1M1279.8,720.7c0.2,7.5 1.4,14.5 4.4,21.1M1276.6,766.1c-0.2,-7.5 -1.4,-14.5 -4.4,-21.1M1279.8,766.1c0.2,-7.5 1.4,-14.5 4.4,-21.1M1294.2,720.7c-0.2,7.5 -1.4,14.5 -4.4,21.1M1297.4,720.7c0.2,7.5 1.4,14.5 4.4,21.1M1294.2,766.1c-0.2,-7.5 -1.4,-14.5 -4.4,-21.1M1297.4,766.1c0.2,-7.5 1.4,-14.5 4.4,-21.1M1311.9,720.7c-0.2,7.5 -1.4,14.5 -4.4,21.1M1315.1,720.7c0.2,7.5 1.4,14.5 4.4,21.1M1311.9,766.1c-0.2,-7.5 -1.4,-14.5 -4.4,-21.1M1315.1,766.1c0.2,-7.5 1.4,-14.5 4.4,-21.1M1329.5,720.7c-0.2,7.5 -1.4,14.5 -4.4,21.1M1332.7,720.7c0.2,7.5 1.4,14.5 4.4,21.1M1329.5,766.1c-0.2,-7.5 -1.4,-14.5 -4.4,-21.1M1332.7,766.1c0.2,-7.5 1.4,-14.5 4.4,-21.1M1347.1,720.7c-0.2,7.5 -1.4,14.5 -4.4,21.1M1350.3,720.7c0.2,7.5 1.4,14.5 4.4,21.1M1347.1,766.1c-0.2,-7.5 -1.4,-14.5 -4.4,-21.1M1350.3,766.1c0.2,-7.5 1.4,-14.5 4.4,-21.1M1364.8,720.7c-0.2,7.5 -1.4,14.5 -4.4,21.1M1368,720.7c0.2,7.5 1.4,14.5 4.4,21.1M1364.8,766.1c-0.2,-7.5 -1.4,-14.5 -4.4,-21.1M1368,766.1c0.2,-7.5 1.4,-14.5 4.4,-21.1M1382.4,720.7c-0.2,7.5 -1.4,14.5 -4.4,21.1M1385.6,720.7c0.2,7.5 1.4,14.5 4.4,21.1M1382.4,766.1c-0.2,-7.5 -1.4,-14.5 -4.4,-21.1M1385.6,766.1c0.2,-7.5 1.4,-14.5 4.4,-21.1M1400,720.7c-0.2,7.5 -1.4,14.5 -4.4,21.1M1403.2,720.7c0.2,7.5 1.4,14.5 4.4,21.1M1400,766.1c-0.2,-7.5 -1.4,-14.5 -4.4,-21.1M1403.2,766.1c0.2,-7.5 1.4,-14.5 4.4,-21.1M1417.7,720.7c-0.2,7.5 -1.4,14.5 -4.4,21.1M1420.9,720.7c0.2,7.5 1.4,14.5 4.4,21.1M1417.7,766.1c-0.2,-7.5 -1.4,-14.5 -4.4,-21.1M1420.9,766.1c0.2,-7.5 1.4,-14.5 4.4,-21.1M1435.3,720.7c-0.2,7.5 -1.4,14.5 -4.4,21.1M1438.5,720.7c0.2,7.5 1.4,14.5 4.4,21.1M1435.3,766.1c-0.2,-7.5 -1.4,-14.5 -4.4,-21.1M1438.5,766.1c0.2,-7.5 1.4,-14.5 4.4,-21.1M1452.9,720.7c-0.2,7.5 -1.4,14.5 -4.4,21.1M1456.1,720.7c0.2,7.5 1.4,14.5 4.4,21.1M1452.9,766.1c-0.2,-7.5 -1.4,-14.5 -4.4,-21.1M1456.1,766.1c0.2,-7.5 1.4,-14.5 4.4,-21.1M1470.5,720.7c-0.2,7.5 -1.4,14.5 -4.4,21.1M1473.7,720.7c0.2,7.5 1.4,14.5 4.4,21.1M1470.5,766.1c-0.2,-7.5 -1.4,-14.5 -4.4,-21.1M1473.7,766.1c0.2,-7.5 1.4,-14.5 4.4,-21.1M1488.2,720.7c-0.2,7.5 -1.4,14.5 -4.4,21.1M1491.4,720.7c0.2,7.5 1.4,14.5 4.4,21.1M1488.2,766.1c-0.2,-7.5 -1.4,-14.5 -4.4,-21.1M1491.4,766.1c0.2,-7.5 1.4,-14.5 4.4,-21.1M1505.8,720.7c-0.2,7.5 -1.4,14.5 -4.4,21.1M1509,720.7c0.2,7.5 1.4,14.5 4.4,21.1M1505.8,766.1c-0.2,-7.5 -1.4,-14.5 -4.4,-21.1M1509,766.1c0.2,-7.5 1.4,-14.5 4.4,-21.1M1523.4,720.7c-0.2,7.5 -1.4,14.5 -4.4,21.1M1526.6,720.7c0.2,7.5 1.4,14.5 4.4,21.1M1523.4,766.1c-0.2,-7.5 -1.4,-14.5 -4.4,-21.1M1526.6,766.1c0.2,-7.5 1.4,-14.5 4.4,-21.1M1541.1,720.7c-0.2,7.5 -1.4,14.5 -4.4,21.1M1544.3,720.7c0.2,7.5 1.4,14.5 4.4,21.1M1541.1,766.1c-0.2,-7.5 -1.4,-14.5 -4.4,-21.1M1544.3,766.1c0.2,-7.5 1.4,-14.5 4.4,-21.1M1558.7,720.7c-0.2,7.5 -1.4,14.5 -4.4,21.1M1561.9,720.7c0.2,7.5 1.4,14.5 4.4,21.1M1558.7,766.1c-0.2,-7.5 -1.4,-14.5 -4.4,-21.1M1561.9,766.1c0.2,-7.5 1.4,-14.5 4.4,-21.1M1576.3,720.7c-0.2,7.5 -1.4,14.5 -4.4,21.1M1579.5,720.7c0.2,7.5 1.4,14.5 4.4,21.1M1576.3,766.1c-0.2,-7.5 -1.4,-14.5 -4.4,-21.1M1579.5,766.1c0.2,-7.5 1.4,-14.5 4.4,-21.1M1594,720.7c-0.2,7.5 -1.4,14.5 -4.4,21.1M1597.2,720.7c0.2,7.5 1.4,14.5 4.4,21.1M1594,766.1c-0.2,-7.5 -1.4,-14.5 -4.4,-21.1M1597.2,766.1c0.2,-7.5 1.4,-14.5 4.4,-21.1M1611.6,720.7c-0.2,7.5 -1.4,14.5 -4.4,21.1M1614.8,720.7c0.2,7.5 1.4,14.5 4.4,21.1M1611.6,766.1c-0.2,-7.5 -1.4,-14.5 -4.4,-21.1M1614.8,766.1c0.2,-7.5 1.4,-14.5 4.4,-21.1M1629.2,720.7c-0.2,7.5 -1.4,14.5 -4.4,21.1M1632.4,720.7c0.2,7.5 1.4,14.5 4.4,21.1M1629.2,766.1c-0.2,-7.5 -1.4,-14.5 -4.4,-21.1M1632.4,766.1c0.2,-7.5 1.4,-14.5 4.4,-21.1M1646.8,720.7c-0.2,7.5 -1.4,14.5 -4.4,21.1M1650,720.7c0.2,7.5 1.4,14.5 4.4,21.1M1646.8,766.1c-0.2,-7.5 -1.4,-14.5 -4.4,-21.1M1650,766.1c0.2,-7.5 1.4,-14.5 4.4,-21.1M1664.5,720.7c-0.2,7.5 -1.4,14.5 -4.4,21.1M1667.7,720.7c0.2,7.5 1.4,14.5 4.4,21.1M1664.5,766.1c-0.2,-7.5 -1.4,-14.5 -4.4,-21.1M1667.7,766.1c0.2,-7.5 1.4,-14.5 4.4,-21.1M1682.1,720.7c-0.2,7.5 -1.4,14.5 -4.4,21.1M1685.3,720.7c0.2,7.5 1.4,14.5 4.4,21.1M1682.1,766.1c-0.2,-7.5 -1.4,-14.5 -4.4,-21.1M1685.3,766.1c0.2,-7.5 1.4,-14.5 4.4,-21.1M1699.7,720.7c-0.2,7.5 -1.4,14.5 -4.4,21.1M1702.9,720.7c0.2,7.5 1.4,14.5 4.4,21.1M1699.7,766.1c-0.2,-7.5 -1.4,-14.5 -4.4,-21.1M1702.9,766.1c0.2,-7.5 1.4,-14.5 4.4,-21.1M1717.4,720.7c-0.2,7.5 -1.4,14.5 -4.4,21.1M1720.6,720.7c0.2,7.5 1.4,14.5 4.4,21.1M1717.4,766.1c-0.2,-7.5 -1.4,-14.5 -4.4,-21.1M1720.6,766.1c0.2,-7.5 1.4,-14.5 4.4,-21.1M1735,720.7c-0.2,7.5 -1.4,14.5 -4.4,21.1M1738.2,720.7c0.2,7.5 1.4,14.5 4.4,21.1M1735,766.1c-0.2,-7.5 -1.4,-14.5 -4.4,-21.1M1738.2,766.1c0.2,-7.5 1.4,-14.5 4.4,-21.1M1752.6,720.7c-0.2,7.5 -1.4,14.5 -4.4,21.1M1755.8,720.7c0.2,7.5 1.4,14.5 4.4,21.1M1752.6,766.1c-0.2,-7.5 -1.4,-14.5 -4.4,-21.1M1755.8,766.1c0.2,-7.5 1.4,-14.5 4.4,-21.1M1770.3,720.7c-0.2,7.5 -1.4,14.5 -4.4,21.1M1773.5,720.7c0.2,7.5 1.4,14.5 4.4,21.1M1770.3,766.1c-0.2,-7.5 -1.4,-14.5 -4.4,-21.1M1773.5,766.1c0.2,-7.5 1.4,-14.5 4.4,-21.1M1787.9,720.7c-0.2,7.5 -1.4,14.5 -4.4,21.1M1791.1,720.7c0.2,7.5 1.4,14.5 4.4,21.1M1787.9,766.1c-0.2,-7.5 -1.4,-14.5 -4.4,-21.1M1791.1,766.1c0.2,-7.5 1.4,-14.5 4.4,-21.1M1805.5,720.7c-0.2,7.5 -1.4,14.5 -4.4,21.1M1808.7,720.7c0.2,7.5 1.4,14.5 4.4,21.1M1805.5,766.1c-0.2,-7.5 -1.4,-14.5 -4.4,-21.1M1808.7,766.1c0.2,-7.5 1.4,-14.5 4.4,-21.1M1823.1,720.7c-0.2,7.5 -1.4,14.5 -4.4,21.1M1826.3,720.7c0.2,7.5 1.4,14.5 4.4,21.1M1823.1,766.1c-0.2,-7.5 -1.4,-14.5 -4.4,-21.1M1826.3,766.1c0.2,-7.5 1.4,-14.5 4.4,-21.1M1840.8,720.7c-0.2,7.5 -1.4,14.5 -4.4,21.1M1844,720.7c0.2,7.5 1.4,14.5 4.4,21.1M1840.8,766.1c-0.2,-7.5 -1.4,-14.5 -4.4,-21.1M1844,766.1c0.2,-7.5 1.4,-14.5 4.4,-21.1M1858.4,720.7c-0.2,7.5 -1.4,14.5 -4.4,21.1M1861.6,720.7c0.2,7.5 1.4,14.5 4.4,21.1M1858.4,766.1c-0.2,-7.5 -1.4,-14.5 -4.4,-21.1M1861.6,766.1c0.2,-7.5 1.4,-14.5 4.4,-21.1M1876,720.7c-0.2,7.5 -1.4,14.5 -4.4,21.1M1879.2,720.7c0.2,7.5 1.4,14.5 4.4,21.1M1876,766.1c-0.2,-7.5 -1.4,-14.5 -4.4,-21.1M1879.2,766.1c0.2,-7.5 1.4,-14.5 4.4,-21.1M1893.7,720.7c-0.2,7.5 -1.4,14.5 -4.4,21.1M1896.9,720.7c0.2,7.5 1.4,14.5 4.4,21.1M1893.7,766.1c-0.2,-7.5 -1.4,-14.5 -4.4,-21.1M1896.9,766.1c0.2,-7.5 1.4,-14.5 4.4,-21.1M1911.3,720.7c-0.2,7.5 -1.4,14.5 -4.4,21.1M1914.5,720.7c0.2,7.5 1.4,14.5 4.4,21.1M1911.3,766.1c-0.2,-7.5 -1.4,-14.5 -4.4,-21.1M1914.5,766.1c0.2,-7.5 1.4,-14.5 4.4,-21.1M1928.9,720.7c-0.2,7.5 -1.4,14.5 -4.4,21.1M1932.1,720.7c0.2,7.5 1.4,14.5 4.4,21.1M1928.9,766.1c-0.2,-7.5 -1.4,-14.5 -4.4,-21.1M1932.1,766.1c0.2,-7.5 1.4,-14.5 4.4,-21.1M1946.6,720.7c-0.2,7.5 -1.4,14.5 -4.4,21.1M1949.8,720.7c0.2,7.5 1.4,14.5 4.4,21.1M1946.6,766.1c-0.2,-7.5 -1.4,-14.5 -4.4,-21.1M1949.8,766.1c0.2,-7.5 1.4,-14.5 4.4,-21.1M1964.2,720.7c-0.2,7.5 -1.4,14.5 -4.4,21.1M1967.4,720.7c0.2,7.5 1.4,14.5 4.4,21.1M1964.2,766.1c-0.2,-7.5 -1.4,-14.5 -4.4,-21.1M1967.4,766.1c0.2,-7.5 1.4,-14.5 4.4,-21.1M1981.8,720.7c-0.2,7.5 -1.4,14.5 -4.4,21.1M1985,720.7c0.2,7.5 1.4,14.5 4.4,21.1M1981.8,766.1c-0.2,-7.5 -1.4,-14.5 -4.4,-21.1M1985,766.1c0.2,-7.5 1.4,-14.5 4.4,-21.1M1999.4,720.7c-0.2,7.5 -1.4,14.5 -4.4,21.1M2002.6,720.7c0.2,7.5 1.4,14.5 4.4,21.1M1999.4,766.1c-0.2,-7.5 -1.4,-14.5 -4.4,-21.1M2002.6,766.1c0.2,-7.5 1.4,-14.5 4.4,-21.1M2017.1,720.7c-0.2,7.5 -1.4,14.5 -4.4,21.1M2020.3,720.7c0.2,7.5 1.4,14.5 4.4,21.1M2017.1,766.1c-0.2,-7.5 -1.4,-14.5 -4.4,-21.1M2020.3,766.1c0.2,-7.5 1.4,-14.5 4.4,-21.1M2034.7,720.7c-0.2,7.5 -1.4,14.5 -4.4,21.1M2037.9,720.7c0.2,7.5 1.4,14.5 4.4,21.1M2034.7,766.1c-0.2,-7.5 -1.4,-14.5 -4.4,-21.1M2037.9,766.1c0.2,-7.5 1.4,-14.5 4.4,-21.1M2052.3,720.7c-0.2,7.5 -1.4,14.5 -4.4,21.1M2055.5,720.7c0.2,7.5 1.4,14.5 4.4,21.1M2052.3,766.1c-0.2,-7.5 -1.4,-14.5 -4.4,-21.1M2055.5,766.1c0.2,-7.5 1.4,-14.5 4.4,-21.1M2070,720.7c-0.2,7.5 -1.4,14.5 -4.4,21.1M2073.2,720.7c0.2,7.5 1.4,14.5 4.4,21.1M2070,766.1c-0.2,-7.5 -1.4,-14.5 -4.4,-21.1M2073.2,766.1c0.2,-7.5 1.4,-14.5 4.4,-21.1M2087.6,720.7c-0.2,7.5 -1.4,14.5 -4.4,21.1M2090.8,720.7c0.2,7.5 1.4,14.5 4.4,21.1M2087.6,766.1c-0.2,-7.5 -1.4,-14.5 -4.4,-21.1M2090.8,766.1c0.2,-7.5 1.4,-14.5 4.4,-21.1M2105.2,720.7c-0.2,7.5 -1.4,14.5 -4.4,21.1M2108.4,720.7c0.2,7.5 1.4,14.5 4.4,21.1M2105.2,766.1c-0.2,-7.5 -1.4,-14.5 -4.4,-21.1M2108.4,766.1c0.2,-7.5 1.4,-14.5 4.4,-21.1M2122.9,720.7c-0.2,7.5 -1.4,14.5 -4.4,21.1M2126.1,720.7c0.2,7.5 1.4,14.5 4.4,21.1M2122.9,766.1c-0.2,-7.5 -1.4,-14.5 -4.4,-21.1M2126.1,766.1c0.2,-7.5 1.4,-14.5 4.4,-21.1M2140.5,720.7c-0.2,7.5 -1.4,14.5 -4.4,21.1M2143.7,720.7c0.2,7.5 1.4,14.5 4.4,21.1M2140.5,766.1c-0.2,-7.5 -1.4,-14.5 -4.4,-21.1M2143.7,766.1c0.2,-7.5 1.4,-14.5 4.4,-21.1M2158.1,720.7c-0.2,7.5 -1.4,14.5 -4.4,21.1M2161.3,720.7c0.2,7.5 1.4,14.5 4.4,21.1M2158.1,766.1c-0.2,-7.5 -1.4,-14.5 -4.4,-21.1M2161.3,766.1c0.2,-7.5 1.4,-14.5 4.4,-21.1M2175.8,720.7c-0.2,7.5 -1.4,14.5 -4.4,21.1M2178.9,720.7c0.2,7.5 1.4,14.5 4.4,21.1M2175.8,766.1c-0.2,-7.5 -1.4,-14.5 -4.4,-21.1M2178.9,766.1c0.2,-7.5 1.4,-14.5 4.4,-21.1M2193.4,720.7c-0.2,7.5 -1.4,14.5 -4.4,21.1M2196.6,720.7c0.2,7.5 1.4,14.5 4.4,21.1M2193.4,766.1c-0.2,-7.5 -1.4,-14.5 -4.4,-21.1M2196.6,766.1c0.2,-7.5 1.4,-14.5 4.4,-21.1M2211,720.7c-0.2,7.5 -1.4,14.5 -4.4,21.1M2214.2,720.7c0.2,7.5 1.4,14.5 4.4,21.1M2211,766.1c-0.2,-7.5 -1.4,-14.5 -4.4,-21.1M2214.2,766.1c0.2,-7.5 1.4,-14.5 4.4,-21.1M2228.6,720.7c-0.2,7.5 -1.4,14.5 -4.4,21.1M2231.8,720.7c0.2,7.5 1.4,14.5 4.4,21.1M2228.6,766.1c-0.2,-7.5 -1.4,-14.5 -4.4,-21.1M2231.8,766.1c0.2,-7.5 1.4,-14.5 4.4,-21.1M2246.3,720.7c-0.2,7.5 -1.4,14.5 -4.4,21.1M2249.5,720.7c0.2,7.5 1.4,14.5 4.4,21.1M2246.3,766.1c-0.2,-7.5 -1.4,-14.5 -4.4,-21.1M2249.5,766.1c0.2,-7.5 1.4,-14.5 4.4,-21.1M2263.9,720.7c-0.2,7.5 -1.4,14.5 -4.4,21.1M2267.1,720.7c0.2,7.5 1.4,14.5 4.4,21.1M2263.9,766.1c-0.2,-7.5 -1.4,-14.5 -4.4,-21.1M2267.1,766.1c0.2,-7.5 1.4,-14.5 4.4,-21.1M2281.5,720.7c-0.2,7.5 -1.4,14.5 -4.4,21.1M2284.7,720.7c0.2,7.5 1.4,14.5 4.4,21.1M2281.5,766.1c-0.2,-7.5 -1.4,-14.5 -4.4,-21.1M2284.7,766.1c0.2,-7.5 1.4,-14.5 4.4,-21.1M2299.2,720.7c-0.2,7.5 -1.4,14.5 -4.4,21.1M2302.4,720.7c0.2,7.5 1.4,14.5 4.4,21.1M2299.2,766.1c-0.2,-7.5 -1.4,-14.5 -4.4,-21.1M2302.4,766.1c0.2,-7.5 1.4,-14.5 4.4,-21.1M2316.8,720.7c-0.2,7.5 -1.4,14.5 -4.4,21.1M2320,720.7c0.2,7.5 1.4,14.5 4.4,21.1M2316.8,766.1c-0.2,-7.5 -1.4,-14.5 -4.4,-21.1M2320,766.1c0.2,-7.5 1.4,-14.5 4.4,-21.1M2334.4,720.7c-0.2,7.5 -1.4,14.5 -4.4,21.1M2337.6,720.7c0.2,7.5 1.4,14.5 4.4,21.1M2334.4,766.1c-0.2,-7.5 -1.4,-14.5 -4.4,-21.1M2337.6,766.1c0.2,-7.5 1.4,-14.5 4.4,-21.1M2352.1,720.7c-0.2,7.5 -1.4,14.5 -4.4,21.1M2355.2,720.7c0.2,7.5 1.4,14.5 4.4,21.1M2352.1,766.1c-0.2,-7.5 -1.4,-14.5 -4.4,-21.1M2355.2,766.1c0.2,-7.5 1.4,-14.5 4.4,-21.1M2369.7,720.7c-0.2,7.5 -1.4,14.5 -4.4,21.1M2372.9,720.7c0.2,7.5 1.4,14.5 4.4,21.1M2369.7,766.1c-0.2,-7.5 -1.4,-14.5 -4.4,-21.1M2372.9,766.1c0.2,-7.5 1.4,-14.5 4.4,-21.1M2387.3,720.7c-0.2,7.5 -1.4,14.5 -4.4,21.1M2390.5,720.7c0.2,7.5 1.4,14.5 4.4,21.1M2387.3,766.1c-0.2,-7.5 -1.4,-14.5 -4.4,-21.1M2390.5,766.1c0.2,-7.5 1.4,-14.5 4.4,-21.1M2404.9,720.7c-0.2,7.5 -1.4,14.5 -4.4,21.1M2408.1,720.7c0.2,7.5 1.4,14.5 4.4,21.1M2404.9,766.1c-0.2,-7.5 -1.4,-14.5 -4.4,-21.1M2408.1,766.1c0.2,-7.5 1.4,-14.5 4.4,-21.1M2422.6,720.7c-0.2,7.5 -1.4,14.5 -4.4,21.1M2425.8,720.7c0.2,7.5 1.4,14.5 4.4,21.1M2422.6,766.1c-0.2,-7.5 -1.4,-14.5 -4.4,-21.1M2425.8,766.1c0.2,-7.5 1.4,-14.5 4.4,-21.1M2440.2,720.7c-0.2,7.5 -1.4,14.5 -4.4,21.1M2443.4,720.7c0.2,7.5 1.4,14.5 4.4,21.1M2440.2,766.1c-0.2,-7.5 -1.4,-14.5 -4.4,-21.1M2443.4,766.1c0.2,-7.5 1.4,-14.5 4.4,-21.1M2457.8,720.7c-0.2,7.5 -1.4,14.5 -4.4,21.1M2461,720.7c0.2,7.5 1.4,14.5 4.4,21.1M2457.8,766.1c-0.2,-7.5 -1.4,-14.5 -4.4,-21.1M2461,766.1c0.2,-7.5 1.4,-14.5 4.4,-21.1M2475.5,720.7c-0.2,7.5 -1.4,14.5 -4.4,21.1M2478.7,720.7c0.2,7.5 1.4,14.5 4.4,21.1M2475.5,766.1c-0.2,-7.5 -1.4,-14.5 -4.4,-21.1M2478.7,766.1c0.2,-7.5 1.4,-14.5 4.4,-21.1M2493.1,720.7c-0.2,7.5 -1.4,14.5 -4.4,21.1M2496.3,720.7c0.2,7.5 1.4,14.5 4.4,21.1M2493.1,766.1c-0.2,-7.5 -1.4,-14.5 -4.4,-21.1M2496.3,766.1c0.2,-7.5 1.4,-14.5 4.4,-21.1M2510.7,720.7c-0.2,7.5 -1.4,14.5 -4.4,21.1M2513.9,720.7c0.2,7.5 1.4,14.5 4.4,21.1M2510.7,766.1c-0.2,-7.5 -1.4,-14.5 -4.4,-21.1M2513.9,766.1c0.2,-7.5 1.4,-14.5 4.4,-21.1M2528.3,720.7c-0.2,7.5 -1.4,14.5 -4.4,21.1M2531.5,720.7c0.2,7.5 1.4,14.5 4.4,21.1M2528.3,766.1c-0.2,-7.5 -1.4,-14.5 -4.4,-21.1M2531.5,766.1c0.2,-7.5 1.4,-14.5 4.4,-21.1M2546,720.7c-0.2,7.5 -1.4,14.5 -4.4,21.1M2549.2,720.7c0.2,7.5 1.4,14.5 4.4,21.1M2546,766.1c-0.2,-7.5 -1.4,-14.5 -4.4,-21.1M2549.2,766.1c0.2,-7.5 1.4,-14.5 4.4,-21.1M2563.6,720.7c-0.2,7.5 -1.4,14.5 -4.4,21.1M2566.8,720.7c0.2,7.5 1.4,14.5 4.4,21.1M2563.6,766.1c-0.2,-7.5 -1.4,-14.5 -4.4,-21.1M2566.8,766.1c0.2,-7.5 1.4,-14.5 4.4,-21.1M2581.2,720.7c-0.2,7.5 -1.4,14.5 -4.4,21.1M2584.4,720.7c0.2,7.5 1.4,14.5 4.4,21.1M2581.2,766.1c-0.2,-7.5 -1.4,-14.5 -4.4,-21.1M2584.4,766.1c0.2,-7.5 1.4,-14.5 4.4,-21.1M2598.9,720.7c-0.2,7.5 -1.4,14.5 -4.4,21.1M2602.1,720.7c0.2,7.5 1.4,14.5 4.4,21.1M2598.9,766.1c-0.2,-7.5 -1.4,-14.5 -4.4,-21.1M2602.1,766.1c0.2,-7.5 1.4,-14.5 4.4,-21.1M2616.5,720.7c-0.2,7.5 -1.4,14.5 -4.4,21.1M2619.7,720.7c0.2,7.5 1.4,14.5 4.4,21.1M2616.5,766.1c-0.2,-7.5 -1.4,-14.5 -4.4,-21.1M2619.7,766.1c0.2,-7.5 1.4,-14.5 4.4,-21.1M2634.1,720.7c-0.2,7.5 -1.4,14.5 -4.4,21.1M2637.3,720.7c0.2,7.5 1.4,14.5 4.4,21.1M2634.1,766.1c-0.2,-7.5 -1.4,-14.5 -4.4,-21.1M2637.3,766.1c0.2,-7.5 1.4,-14.5 4.4,-21.1M2651.8,720.7c-0.2,7.5 -1.4,14.5 -4.4,21.1M2655,720.7c0.2,7.5 1.4,14.5 4.4,21.1M2651.8,766.1c-0.2,-7.5 -1.4,-14.5 -4.4,-21.1M2655,766.1c0.2,-7.5 1.4,-14.5 4.4,-21.1M2669.4,720.7c-0.2,7.5 -1.4,14.5 -4.4,21.1M2672.6,720.7c0.2,7.5 1.4,14.5 4.4,21.1M2669.4,766.1c-0.2,-7.5 -1.4,-14.5 -4.4,-21.1M2672.6,766.1c0.2,-7.5 1.4,-14.5 4.4,-21.1M2687,720.7c-0.2,7.5 -1.4,14.5 -4.4,21.1M2690.2,720.7c0.2,7.5 1.4,14.5 4.4,21.1M2687,766.1c-0.2,-7.5 -1.4,-14.5 -4.4,-21.1M2690.2,766.1c0.2,-7.5 1.4,-14.5 4.4,-21.1M2704.7,720.7c-0.2,7.5 -1.4,14.5 -4.4,21.1M2707.8,720.7c0.2,7.5 1.4,14.5 4.4,21.1M2704.7,766.1c-0.2,-7.5 -1.4,-14.5 -4.4,-21.1M2707.8,766.1c0.2,-7.5 1.4,-14.5 4.4,-21.1M2722.3,720.7c-0.2,7.5 -1.4,14.5 -4.4,21.1M2725.5,720.7c0.2,7.5 1.4,14.5 4.4,21.1M2722.3,766.1c-0.2,-7.5 -1.4,-14.5 -4.4,-21.1M2725.5,766.1c0.2,-7.5 1.4,-14.5 4.4,-21.1M2739.9,720.7c-0.2,7.5 -1.4,14.5 -4.4,21.1M2743.1,720.7c0.2,7.5 1.4,14.5 4.4,21.1M2739.9,766.1c-0.2,-7.5 -1.4,-14.5 -4.4,-21.1M2743.1,766.1c0.2,-7.5 1.4,-14.5 4.4,-21.1M2757.5,720.7c-0.2,7.5 -1.4,14.5 -4.4,21.1M2760.7,720.7c0.2,7.5 1.4,14.5 4.4,21.1M2757.5,766.1c-0.2,-7.5 -1.4,-14.5 -4.4,-21.1M2760.7,766.1c0.2,-7.5 1.4,-14.5 4.4,-21.1M2775.2,720.7c-0.2,7.5 -1.4,14.5 -4.4,21.1M2778.4,720.7c0.2,7.5 1.4,14.5 4.4,21.1M2775.2,766.1c-0.2,-7.5 -1.4,-14.5 -4.4,-21.1M2778.4,766.1c0.2,-7.5 1.4,-14.5 4.4,-21.1M2792.8,720.7c-0.2,7.5 -1.4,14.5 -4.4,21.1M2796,720.7c0.2,7.5 1.4,14.5 4.4,21.1M2792.8,766.1c-0.2,-7.5 -1.4,-14.5 -4.4,-21.1M2796,766.1c0.2,-7.5 1.4,-14.5 4.4,-21.1M2810.4,720.7c-0.2,7.5 -1.4,14.5 -4.4,21.1M2813.6,720.7c0.2,7.5 1.4,14.5 4.4,21.1M2810.4,766.1c-0.2,-7.5 -1.4,-14.5 -4.4,-21.1M2813.6,766.1c0.2,-7.5 1.4,-14.5 4.4,-21.1M2828.1,720.7c-0.2,7.5 -1.4,14.5 -4.4,21.1M2831.3,720.7c0.2,7.5 1.4,14.5 4.4,21.1M2828.1,766.1c-0.2,-7.5 -1.4,-14.5 -4.4,-21.1M2831.3,766.1c0.2,-7.5 1.4,-14.5 4.4,-21.1M2845.7,720.7c-0.2,7.5 -1.4,14.5 -4.4,21.1M2848.9,720.7c0.2,7.5 1.4,14.5 4.4,21.1M2845.7,766.1c-0.2,-7.5 -1.4,-14.5 -4.4,-21.1M2848.9,766.1c0.2,-7.5 1.4,-14.5 4.4,-21.1M2863.3,720.7c-0.2,7.5 -1.4,14.5 -4.4,21.1M2866.5,720.7c0.2,7.5 1.4,14.5 4.4,21.1M2863.3,766.1c-0.2,-7.5 -1.4,-14.5 -4.4,-21.1M2866.5,766.1c0.2,-7.5 1.4,-14.5 4.4,-21.1M2881,720.7c-0.2,7.5 -1.4,14.5 -4.4,21.1M2884.2,720.7c0.2,7.5 1.4,14.5 4.4,21.1M2881,766.1c-0.2,-7.5 -1.4,-14.5 -4.4,-21.1M2884.2,766.1c0.2,-7.5 1.4,-14.5 4.4,-21.1M2898.6,720.7c-0.2,7.5 -1.4,14.5 -4.4,21.1M2901.8,720.7c0.2,7.5 1.4,14.5 4.4,21.1M2898.6,766.1c-0.2,-7.5 -1.4,-14.5 -4.4,-21.1M2901.8,766.1c0.2,-7.5 1.4,-14.5 4.4,-21.1M2916.2,720.7c-0.2,7.5 -1.4,14.5 -4.4,21.1M2919.4,720.7c0.2,7.5 1.4,14.5 4.4,21.1M2916.2,766.1c-0.2,-7.5 -1.4,-14.5 -4.4,-21.1M2919.4,766.1c0.2,-7.5 1.4,-14.5 4.4,-21.1M2933.8,720.7c-0.2,7.5 -1.4,14.5 -4.4,21.1M2937,720.7c0.2,7.5 1.4,14.5 4.4,21.1M2933.8,766.1c-0.2,-7.5 -1.4,-14.5 -4.4,-21.1M2937,766.1c0.2,-7.5 1.4,-14.5 4.4,-21.1M2951.5,720.7c-0.2,7.5 -1.4,14.5 -4.4,21.1M2954.7,720.7c0.2,7.5 1.4,14.5 4.4,21.1M2951.5,766.1c-0.2,-7.5 -1.4,-14.5 -4.4,-21.1M2954.7,766.1c0.2,-7.5 1.4,-14.5 4.4,-21.1M2969.1,720.7c-0.2,7.5 -1.4,14.5 -4.4,21.1M2972.3,720.7c0.2,7.5 1.4,14.5 4.4,21.1M2969.1,766.1c-0.2,-7.5 -1.4,-14.5 -4.4,-21.1M2972.3,766.1c0.2,-7.5 1.4,-14.5 4.4,-21.1" fill="none" stroke="#C3D3EA" stroke-width="2.5"/>
<path d="M0.4,716.2a8.5,5.6 0 1 0 17,0a8.5,5.6 0 1 0 -17,0M0.4,770.6a8.5,5.6 0 1 0 17,0a8.5,5.6 0 1 0 -17,0M18,716.2a8.5,5.6 0 1 0 17,0a8.5,5.6 0 1 0 -17,0M18,770.6a8.5,5.6 0 1 0 17,0a8.5,5.6 0 1 0 -17,0M35.6,716.2a8.5,5.6 0 1 0 17,0a8.5,5.6 0 1 0 -17,0M35.6,770.6a8.5,5.6 0 1 0 17,0a8.5,5.6 0 1 0 -17,0M53.2,716.2a8.5,5.6 0 1 0 17,0a8.5,5.6 0 1 0 -17,0M53.2,770.6a8.5,5.6 0 1 0 17,0a8.5,5.6 0 1 0 -17,0M70.9,716.2a8.5,5.6 0 1 0 17,0a8.5,5.6 0 1 0 -17,0M70.9,770.6a8.5,5.6 0 1 0 17,0a8.5,5.6 0 1 0 -17,0M88.5,716.2a8.5,5.6 0 1 0 17,0a8.5,5.6 0 1 0 -17,0M88.5,770.6a8.5,5.6 0 1 0 17,0a8.5,5.6 0 1 0 -17,0M106.1,716.2a8.5,5.6 0 1 0 17,0a8.5,5.6 0 1 0 -17,0M106.1,770.6a8.5,5.6 0 1 0 17,0a8.5,5.6 0 1 0 -17,0M123.8,716.2a8.5,5.6 0 1 0 17,0a8.5,5.6 0 1 0 -17,0M123.8,770.6a8.5,5.6 0 1 0 17,0a8.5,5.6 0 1 0 -17,0M141.4,716.2a8.5,5.6 0 1 0 17,0a8.5,5.6 0 1 0 -17,0M141.4,770.6a8.5,5.6 0 1 0 17,0a8.5,5.6 0 1 0 -17,0M159,716.2a8.5,5.6 0 1 0 17,0a8.5,5.6 0 1 0 -17,0M159,770.6a8.5,5.6 0 1 0 17,0a8.5,5.6 0 1 0 -17,0M176.7,716.2a8.5,5.6 0 1 0 17,0a8.5,5.6 0 1 0 -17,0M176.7,770.6a8.5,5.6 0 1 0 17,0a8.5,5.6 0 1 0 -17,0M194.3,716.2a8.5,5.6 0 1 0 17,0a8.5,5.6 0 1 0 -17,0M194.3,770.6a8.5,5.6 0 1 0 17,0a8.5,5.6 0 1 0 -17,0M211.9,716.2a8.5,5.6 0 1 0 17,0a8.5,5.6 0 1 0 -17,0M211.9,770.6a8.5,5.6 0 1 0 17,0a8.5,5.6 0 1 0 -17,0M229.6,716.2a8.5,5.6 0 1 0 17,0a8.5,5.6 0 1 0 -17,0M229.6,770.6a8.5,5.6 0 1 0 17,0a8.5,5.6 0 1 0 -17,0M247.2,716.2a8.5,5.6 0 1 0 17,0a8.5,5.6 0 1 0 -17,0M247.2,770.6a8.5,5.6 0 1 0 17,0a8.5,5.6 0 1 0 -17,0M264.8,716.2a8.5,5.6 0 1 0 17,0a8.5,5.6 0 1 0 -17,0M264.8,770.6a8.5,5.6 0 1 0 17,0a8.5,5.6 0 1 0 -17,0M282.4,716.2a8.5,5.6 0 1 0 17,0a8.5,5.6 0 1 0 -17,0M282.4,770.6a8.5,5.6 0 1 0 17,0a8.5,5.6 0 1 0 -17,0M300.1,716.2a8.5,5.6 0 1 0 17,0a8.5,5.6 0 1 0 -17,0M300.1,770.6a8.5,5.6 0 1 0 17,0a8.5,5.6 0 1 0 -17,0M317.7,716.2a8.5,5.6 0 1 0 17,0a8.5,5.6 0 1 0 -17,0M317.7,770.6a8.5,5.6 0 1 0 17,0a8.5,5.6 0 1 0 -17,0M335.3,716.2a8.5,5.6 0 1 0 17,0a8.5,5.6 0 1 0 -17,0M335.3,770.6a8.5,5.6 0 1 0 17,0a8.5,5.6 0 1 0 -17,0M353,716.2a8.5,5.6 0 1 0 17,0a8.5,5.6 0 1 0 -17,0M353,770.6a8.5,5.6 0 1 0 17,0a8.5,5.6 0 1 0 -17,0M370.6,716.2a8.5,5.6 0 1 0 17,0a8.5,5.6 0 1 0 -17,0M370.6,770.6a8.5,5.6 0 1 0 17,0a8.5,5.6 0 1 0 -17,0M388.2,716.2a8.5,5.6 0 1 0 17,0a8.5,5.6 0 1 0 -17,0M388.2,770.6a8.5,5.6 0 1 0 17,0a8.5,5.6 0 1 0 -17,0M405.8,716.2a8.5,5.6 0 1 0 17,0a8.5,5.6 0 1 0 -17,0M405.8,770.6a8.5,5.6 0 1 0 17,0a8.5,5.6 0 1 0 -17,0M423.5,716.2a8.5,5.6 0 1 0 17,0a8.5,5.6 0 1 0 -17,0M423.5,770.6a8.5,5.6 0 1 0 17,0a8.5,5.6 0 1 0 -17,0M441.1,716.2a8.5,5.6 0 1 0 17,0a8.5,5.6 0 1 0 -17,0M441.1,770.6a8.5,5.6 0 1 0 17,0a8.5,5.6 0 1 0 -17,0M458.7,716.2a8.5,5.6 0 1 0 17,0a8.5,5.6 0 1 0 -17,0M458.7,770.6a8.5,5.6 0 1 0 17,0a8.5,5.6 0 1 0 -17,0M476.4,716.2a8.5,5.6 0 1 0 17,0a8.5,5.6 0 1 0 -17,0M476.4,770.6a8.5,5.6 0 1 0 17,0a8.5,5.6 0 1 0 -17,0M494,716.2a8.5,5.6 0 1 0 17,0a8.5,5.6 0 1 0 -17,0M494,770.6a8.5,5.6 0 1 0 17,0a8.5,5.6 0 1 0 -17,0M511.6,716.2a8.5,5.6 0 1 0 17,0a8.5,5.6 0 1 0 -17,0M511.6,770.6a8.5,5.6 0 1 0 17,0a8.5,5.6 0 1 0 -17,0M529.3,716.2a8.5,5.6 0 1 0 17,0a8.5,5.6 0 1 0 -17,0M529.3,770.6a8.5,5.6 0 1 0 17,0a8.5,5.6 0 1 0 -17,0M546.9,716.2a8.5,5.6 0 1 0 17,0a8.5,5.6 0 1 0 -17,0M546.9,770.6a8.5,5.6 0 1 0 17,0a8.5,5.6 0 1 0 -17,0M564.5,716.2a8.5,5.6 0 1 0 17,0a8.5,5.6 0 1 0 -17,0M564.5,770.6a8.5,5.6 0 1 0 17,0a8.5,5.6 0 1 0 -17,0M582.1,716.2a8.5,5.6 0 1 0 17,0a8.5,5.6 0 1 0 -17,0M582.1,770.6a8.5,5.6 0 1 0 17,0a8.5,5.6 0 1 0 -17,0M599.8,716.2a8.5,5.6 0 1 0 17,0a8.5,5.6 0 1 0 -17,0M599.8,770.6a8.5,5.6 0 1 0 17,0a8.5,5.6 0 1 0 -17,0M617.4,716.2a8.5,5.6 0 1 0 17,0a8.5,5.6 0 1 0 -17,0M617.4,770.6a8.5,5.6 0 1 0 17,0a8.5,5.6 0 1 0 -17,0M635,716.2a8.5,5.6 0 1 0 17,0a8.5,5.6 0 1 0 -17,0M635,770.6a8.5,5.6 0 1 0 17,0a8.5,5.6 0 1 0 -17,0M652.7,716.2a8.5,5.6 0 1 0 17,0a8.5,5.6 0 1 0 -17,0M652.7,770.6a8.5,5.6 0 1 0 17,0a8.5,5.6 0 1 0 -17,0M670.3,716.2a8.5,5.6 0 1 0 17,0a8.5,5.6 0 1 0 -17,0M670.3,770.6a8.5,5.6 0 1 0 17,0a8.5,5.6 0 1 0 -17,0M687.9,716.2a8.5,5.6 0 1 0 17,0a8.5,5.6 0 1 0 -17,0M687.9,770.6a8.5,5.6 0 1 0 17,0a8.5,5.6 0 1 0 -17,0M705.6,716.2a8.5,5.6 0 1 0 17,0a8.5,5.6 0 1 0 -17,0M705.6,770.6a8.5,5.6 0 1 0 17,0a8.5,5.6 0 1 0 -17,0M723.2,716.2a8.5,5.6 0 1 0 17,0a8.5,5.6 0 1 0 -17,0M723.2,770.6a8.5,5.6 0 1 0 17,0a8.5,5.6 0 1 0 -17,0M740.8,716.2a8.5,5.6 0 1 0 17,0a8.5,5.6 0 1 0 -17,0M740.8,770.6a8.5,5.6 0 1 0 17,0a8.5,5.6 0 1 0 -17,0M758.4,716.2a8.5,5.6 0 1 0 17,0a8.5,5.6 0 1 0 -17,0M758.4,770.6a8.5,5.6 0 1 0 17,0a8.5,5.6 0 1 0 -17,0M776.1,716.2a8.5,5.6 0 1 0 17,0a8.5,5.6 0 1 0 -17,0M776.1,770.6a8.5,5.6 0 1 0 17,0a8.5,5.6 0 1 0 -17,0M793.7,716.2a8.5,5.6 0 1 0 17,0a8.5,5.6 0 1 0 -17,0M793.7,770.6a8.5,5.6 0 1 0 17,0a8.5,5.6 0 1 0 -17,0M811.3,716.2a8.5,5.6 0 1 0 17,0a8.5,5.6 0 1 0 -17,0M811.3,770.6a8.5,5.6 0 1 0 17,0a8.5,5.6 0 1 0 -17,0M829,716.2a8.5,5.6 0 1 0 17,0a8.5,5.6 0 1 0 -17,0M829,770.6a8.5,5.6 0 1 0 17,0a8.5,5.6 0 1 0 -17,0M846.6,716.2a8.5,5.6 0 1 0 17,0a8.5,5.6 0 1 0 -17,0M846.6,770.6a8.5,5.6 0 1 0 17,0a8.5,5.6 0 1 0 -17,0M864.2,716.2a8.5,5.6 0 1 0 17,0a8.5,5.6 0 1 0 -17,0M864.2,770.6a8.5,5.6 0 1 0 17,0a8.5,5.6 0 1 0 -17,0M881.9,716.2a8.5,5.6 0 1 0 17,0a8.5,5.6 0 1 0 -17,0M881.9,770.6a8.5,5.6 0 1 0 17,0a8.5,5.6 0 1 0 -17,0M899.5,716.2a8.5,5.6 0 1 0 17,0a8.5,5.6 0 1 0 -17,0M899.5,770.6a8.5,5.6 0 1 0 17,0a8.5,5.6 0 1 0 -17,0M917.1,716.2a8.5,5.6 0 1 0 17,0a8.5,5.6 0 1 0 -17,0M917.1,770.6a8.5,5.6 0 1 0 17,0a8.5,5.6 0 1 0 -17,0M934.8,716.2a8.5,5.6 0 1 0 17,0a8.5,5.6 0 1 0 -17,0M934.8,770.6a8.5,5.6 0 1 0 17,0a8.5,5.6 0 1 0 -17,0M952.4,716.2a8.5,5.6 0 1 0 17,0a8.5,5.6 0 1 0 -17,0M952.4,770.6a8.5,5.6 0 1 0 17,0a8.5,5.6 0 1 0 -17,0M970,716.2a8.5,5.6 0 1 0 17,0a8.5,5.6 0 1 0 -17,0M970,770.6a8.5,5.6 0 1 0 17,0a8.5,5.6 0 1 0 -17,0M987.6,716.2a8.5,5.6 0 1 0 17,0a8.5,5.6 0 1 0 -17,0M987.6,770.6a8.5,5.6 0 1 0 17,0a8.5,5.6 0 1 0 -17,0M1005.3,716.2a8.5,5.6 0 1 0 17,0a8.5,5.6 0 1 0 -17,0M1005.3,770.6a8.5,5.6 0 1 0 17,0a8.5,5.6 0 1 0 -17,0M1022.9,716.2a8.5,5.6 0 1 0 17,0a8.5,5.6 0 1 0 -17,0M1022.9,770.6a8.5,5.6 0 1 0 17,0a8.5,5.6 0 1 0 -17,0M1040.5,716.2a8.5,5.6 0 1 0 17,0a8.5,5.6 0 1 0 -17,0M1040.5,770.6a8.5,5.6 0 1 0 17,0a8.5,5.6 0 1 0 -17,0M1058.2,716.2a8.5,5.6 0 1 0 17,0a8.5,5.6 0 1 0 -17,0M1058.2,770.6a8.5,5.6 0 1 0 17,0a8.5,5.6 0 1 0 -17,0M1075.8,716.2a8.5,5.6 0 1 0 17,0a8.5,5.6 0 1 0 -17,0M1075.8,770.6a8.5,5.6 0 1 0 17,0a8.5,5.6 0 1 0 -17,0M1093.4,716.2a8.5,5.6 0 1 0 17,0a8.5,5.6 0 1 0 -17,0M1093.4,770.6a8.5,5.6 0 1 0 17,0a8.5,5.6 0 1 0 -17,0M1111,716.2a8.5,5.6 0 1 0 17,0a8.5,5.6 0 1 0 -17,0M1111,770.6a8.5,5.6 0 1 0 17,0a8.5,5.6 0 1 0 -17,0M1128.7,716.2a8.5,5.6 0 1 0 17,0a8.5,5.6 0 1 0 -17,0M1128.7,770.6a8.5,5.6 0 1 0 17,0a8.5,5.6 0 1 0 -17,0M1146.3,716.2a8.5,5.6 0 1 0 17,0a8.5,5.6 0 1 0 -17,0M1146.3,770.6a8.5,5.6 0 1 0 17,0a8.5,5.6 0 1 0 -17,0M1163.9,716.2a8.5,5.6 0 1 0 17,0a8.5,5.6 0 1 0 -17,0M1163.9,770.6a8.5,5.6 0 1 0 17,0a8.5,5.6 0 1 0 -17,0M1181.6,716.2a8.5,5.6 0 1 0 17,0a8.5,5.6 0 1 0 -17,0M1181.6,770.6a8.5,5.6 0 1 0 17,0a8.5,5.6 0 1 0 -17,0M1199.2,716.2a8.5,5.6 0 1 0 17,0a8.5,5.6 0 1 0 -17,0M1199.2,770.6a8.5,5.6 0 1 0 17,0a8.5,5.6 0 1 0 -17,0M1216.8,716.2a8.5,5.6 0 1 0 17,0a8.5,5.6 0 1 0 -17,0M1216.8,770.6a8.5,5.6 0 1 0 17,0a8.5,5.6 0 1 0 -17,0M1234.5,716.2a8.5,5.6 0 1 0 17,0a8.5,5.6 0 1 0 -17,0M1234.5,770.6a8.5,5.6 0 1 0 17,0a8.5,5.6 0 1 0 -17,0M1252.1,716.2a8.5,5.6 0 1 0 17,0a8.5,5.6 0 1 0 -17,0M1252.1,770.6a8.5,5.6 0 1 0 17,0a8.5,5.6 0 1 0 -17,0M1269.7,716.2a8.5,5.6 0 1 0 17,0a8.5,5.6 0 1 0 -17,0M1269.7,770.6a8.5,5.6 0 1 0 17,0a8.5,5.6 0 1 0 -17,0M1287.3,716.2a8.5,5.6 0 1 0 17,0a8.5,5.6 0 1 0 -17,0M1287.3,770.6a8.5,5.6 0 1 0 17,0a8.5,5.6 0 1 0 -17,0M1305,716.2a8.5,5.6 0 1 0 17,0a8.5,5.6 0 1 0 -17,0M1305,770.6a8.5,5.6 0 1 0 17,0a8.5,5.6 0 1 0 -17,0M1322.6,716.2a8.5,5.6 0 1 0 17,0a8.5,5.6 0 1 0 -17,0M1322.6,770.6a8.5,5.6 0 1 0 17,0a8.5,5.6 0 1 0 -17,0M1340.2,716.2a8.5,5.6 0 1 0 17,0a8.5,5.6 0 1 0 -17,0M1340.2,770.6a8.5,5.6 0 1 0 17,0a8.5,5.6 0 1 0 -17,0M1357.9,716.2a8.5,5.6 0 1 0 17,0a8.5,5.6 0 1 0 -17,0M1357.9,770.6a8.5,5.6 0 1 0 17,0a8.5,5.6 0 1 0 -17,0M1375.5,716.2a8.5,5.6 0 1 0 17,0a8.5,5.6 0 1 0 -17,0M1375.5,770.6a8.5,5.6 0 1 0 17,0a8.5,5.6 0 1 0 -17,0M1393.1,716.2a8.5,5.6 0 1 0 17,0a8.5,5.6 0 1 0 -17,0M1393.1,770.6a8.5,5.6 0 1 0 17,0a8.5,5.6 0 1 0 -17,0M1410.8,716.2a8.5,5.6 0 1 0 17,0a8.5,5.6 0 1 0 -17,0M1410.8,770.6a8.5,5.6 0 1 0 17,0a8.5,5.6 0 1 0 -17,0M1428.4,716.2a8.5,5.6 0 1 0 17,0a8.5,5.6 0 1 0 -17,0M1428.4,770.6a8.5,5.6 0 1 0 17,0a8.5,5.6 0 1 0 -17,0M1446,716.2a8.5,5.6 0 1 0 17,0a8.5,5.6 0 1 0 -17,0M1446,770.6a8.5,5.6 0 1 0 17,0a8.5,5.6 0 1 0 -17,0M1463.6,716.2a8.5,5.6 0 1 0 17,0a8.5,5.6 0 1 0 -17,0M1463.6,770.6a8.5,5.6 0 1 0 17,0a8.5,5.6 0 1 0 -17,0M1481.3,716.2a8.5,5.6 0 1 0 17,0a8.5,5.6 0 1 0 -17,0M1481.3,770.6a8.5,5.6 0 1 0 17,0a8.5,5.6 0 1 0 -17,0M1498.9,716.2a8.5,5.6 0 1 0 17,0a8.5,5.6 0 1 0 -17,0M1498.9,770.6a8.5,5.6 0 1 0 17,0a8.5,5.6 0 1 0 -17,0M1516.5,716.2a8.5,5.6 0 1 0 17,0a8.5,5.6 0 1 0 -17,0M1516.5,770.6a8.5,5.6 0 1 0 17,0a8.5,5.6 0 1 0 -17,0M1534.2,716.2a8.5,5.6 0 1 0 17,0a8.5,5.6 0 1 0 -17,0M1534.2,770.6a8.5,5.6 0 1 0 17,0a8.5,5.6 0 1 0 -17,0M1551.8,716.2a8.5,5.6 0 1 0 17,0a8.5,5.6 0 1 0 -17,0M1551.8,770.6a8.5,5.6 0 1 0 17,0a8.5,5.6 0 1 0 -17,0M1569.4,716.2a8.5,5.6 0 1 0 17,0a8.5,5.6 0 1 0 -17,0M1569.4,770.6a8.5,5.6 0 1 0 17,0a8.5,5.6 0 1 0 -17,0M1587.1,716.2a8.5,5.6 0 1 0 17,0a8.5,5.6 0 1 0 -17,0M1587.1,770.6a8.5,5.6 0 1 0 17,0a8.5,5.6 0 1 0 -17,0M1604.7,716.2a8.5,5.6 0 1 0 17,0a8.5,5.6 0 1 0 -17,0M1604.7,770.6a8.5,5.6 0 1 0 17,0a8.5,5.6 0 1 0 -17,0M1622.3,716.2a8.5,5.6 0 1 0 17,0a8.5,5.6 0 1 0 -17,0M1622.3,770.6a8.5,5.6 0 1 0 17,0a8.5,5.6 0 1 0 -17,0M1639.9,716.2a8.5,5.6 0 1 0 17,0a8.5,5.6 0 1 0 -17,0M1639.9,770.6a8.5,5.6 0 1 0 17,0a8.5,5.6 0 1 0 -17,0M1657.6,716.2a8.5,5.6 0 1 0 17,0a8.5,5.6 0 1 0 -17,0M1657.6,770.6a8.5,5.6 0 1 0 17,0a8.5,5.6 0 1 0 -17,0M1675.2,716.2a8.5,5.6 0 1 0 17,0a8.5,5.6 0 1 0 -17,0M1675.2,770.6a8.5,5.6 0 1 0 17,0a8.5,5.6 0 1 0 -17,0M1692.8,716.2a8.5,5.6 0 1 0 17,0a8.5,5.6 0 1 0 -17,0M1692.8,770.6a8.5,5.6 0 1 0 17,0a8.5,5.6 0 1 0 -17,0M1710.5,716.2a8.5,5.6 0 1 0 17,0a8.5,5.6 0 1 0 -17,0M1710.5,770.6a8.5,5.6 0 1 0 17,0a8.5,5.6 0 1 0 -17,0M1728.1,716.2a8.5,5.6 0 1 0 17,0a8.5,5.6 0 1 0 -17,0M1728.1,770.6a8.5,5.6 0 1 0 17,0a8.5,5.6 0 1 0 -17,0M1745.7,716.2a8.5,5.6 0 1 0 17,0a8.5,5.6 0 1 0 -17,0M1745.7,770.6a8.5,5.6 0 1 0 17,0a8.5,5.6 0 1 0 -17,0M1763.4,716.2a8.5,5.6 0 1 0 17,0a8.5,5.6 0 1 0 -17,0M1763.4,770.6a8.5,5.6 0 1 0 17,0a8.5,5.6 0 1 0 -17,0M1781,716.2a8.5,5.6 0 1 0 17,0a8.5,5.6 0 1 0 -17,0M1781,770.6a8.5,5.6 0 1 0 17,0a8.5,5.6 0 1 0 -17,0M1798.6,716.2a8.5,5.6 0 1 0 17,0a8.5,5.6 0 1 0 -17,0M1798.6,770.6a8.5,5.6 0 1 0 17,0a8.5,5.6 0 1 0 -17,0M1816.2,716.2a8.5,5.6 0 1 0 17,0a8.5,5.6 0 1 0 -17,0M1816.2,770.6a8.5,5.6 0 1 0 17,0a8.5,5.6 0 1 0 -17,0M1833.9,716.2a8.5,5.6 0 1 0 17,0a8.5,5.6 0 1 0 -17,0M1833.9,770.6a8.5,5.6 0 1 0 17,0a8.5,5.6 0 1 0 -17,0M1851.5,716.2a8.5,5.6 0 1 0 17,0a8.5,5.6 0 1 0 -17,0M1851.5,770.6a8.5,5.6 0 1 0 17,0a8.5,5.6 0 1 0 -17,0M1869.1,716.2a8.5,5.6 0 1 0 17,0a8.5,5.6 0 1 0 -17,0M1869.1,770.6a8.5,5.6 0 1 0 17,0a8.5,5.6 0 1 0 -17,0M1886.8,716.2a8.5,5.6 0 1 0 17,0a8.5,5.6 0 1 0 -17,0M1886.8,770.6a8.5,5.6 0 1 0 17,0a8.5,5.6 0 1 0 -17,0M1904.4,716.2a8.5,5.6 0 1 0 17,0a8.5,5.6 0 1 0 -17,0M1904.4,770.6a8.5,5.6 0 1 0 17,0a8.5,5.6 0 1 0 -17,0M1922,716.2a8.5,5.6 0 1 0 17,0a8.5,5.6 0 1 0 -17,0M1922,770.6a8.5,5.6 0 1 0 17,0a8.5,5.6 0 1 0 -17,0M1939.7,716.2a8.5,5.6 0 1 0 17,0a8.5,5.6 0 1 0 -17,0M1939.7,770.6a8.5,5.6 0 1 0 17,0a8.5,5.6 0 1 0 -17,0M1957.3,716.2a8.5,5.6 0 1 0 17,0a8.5,5.6 0 1 0 -17,0M1957.3,770.6a8.5,5.6 0 1 0 17,0a8.5,5.6 0 1 0 -17,0M1974.9,716.2a8.5,5.6 0 1 0 17,0a8.5,5.6 0 1 0 -17,0M1974.9,770.6a8.5,5.6 0 1 0 17,0a8.5,5.6 0 1 0 -17,0M1992.5,716.2a8.5,5.6 0 1 0 17,0a8.5,5.6 0 1 0 -17,0M1992.5,770.6a8.5,5.6 0 1 0 17,0a8.5,5.6 0 1 0 -17,0M2010.2,716.2a8.5,5.6 0 1 0 17,0a8.5,5.6 0 1 0 -17,0M2010.2,770.6a8.5,5.6 0 1 0 17,0a8.5,5.6 0 1 0 -17,0M2027.8,716.2a8.5,5.6 0 1 0 17,0a8.5,5.6 0 1 0 -17,0M2027.8,770.6a8.5,5.6 0 1 0 17,0a8.5,5.6 0 1 0 -17,0M2045.4,716.2a8.5,5.6 0 1 0 17,0a8.5,5.6 0 1 0 -17,0M2045.4,770.6a8.5,5.6 0 1 0 17,0a8.5,5.6 0 1 0 -17,0M2063.1,716.2a8.5,5.6 0 1 0 17,0a8.5,5.6 0 1 0 -17,0M2063.1,770.6a8.5,5.6 0 1 0 17,0a8.5,5.6 0 1 0 -17,0M2080.7,716.2a8.5,5.6 0 1 0 17,0a8.5,5.6 0 1 0 -17,0M2080.7,770.6a8.5,5.6 0 1 0 17,0a8.5,5.6 0 1 0 -17,0M2098.3,716.2a8.5,5.6 0 1 0 17,0a8.5,5.6 0 1 0 -17,0M2098.3,770.6a8.5,5.6 0 1 0 17,0a8.5,5.6 0 1 0 -17,0M2116,716.2a8.5,5.6 0 1 0 17,0a8.5,5.6 0 1 0 -17,0M2116,770.6a8.5,5.6 0 1 0 17,0a8.5,5.6 0 1 0 -17,0M2133.6,716.2a8.5,5.6 0 1 0 17,0a8.5,5.6 0 1 0 -17,0M2133.6,770.6a8.5,5.6 0 1 0 17,0a8.5,5.6 0 1 0 -17,0M2151.2,716.2a8.5,5.6 0 1 0 17,0a8.5,5.6 0 1 0 -17,0M2151.2,770.6a8.5,5.6 0 1 0 17,0a8.5,5.6 0 1 0 -17,0M2168.8,716.2a8.5,5.6 0 1 0 17,0a8.5,5.6 0 1 0 -17,0M2168.8,770.6a8.5,5.6 0 1 0 17,0a8.5,5.6 0 1 0 -17,0M2186.5,716.2a8.5,5.6 0 1 0 17,0a8.5,5.6 0 1 0 -17,0M2186.5,770.6a8.5,5.6 0 1 0 17,0a8.5,5.6 0 1 0 -17,0M2204.1,716.2a8.5,5.6 0 1 0 17,0a8.5,5.6 0 1 0 -17,0M2204.1,770.6a8.5,5.6 0 1 0 17,0a8.5,5.6 0 1 0 -17,0M2221.7,716.2a8.5,5.6 0 1 0 17,0a8.5,5.6 0 1 0 -17,0M2221.7,770.6a8.5,5.6 0 1 0 17,0a8.5,5.6 0 1 0 -17,0M2239.4,716.2a8.5,5.6 0 1 0 17,0a8.5,5.6 0 1 0 -17,0M2239.4,770.6a8.5,5.6 0 1 0 17,0a8.5,5.6 0 1 0 -17,0M2257,716.2a8.5,5.6 0 1 0 17,0a8.5,5.6 0 1 0 -17,0M2257,770.6a8.5,5.6 0 1 0 17,0a8.5,5.6 0 1 0 -17,0M2274.6,716.2a8.5,5.6 0 1 0 17,0a8.5,5.6 0 1 0 -17,0M2274.6,770.6a8.5,5.6 0 1 0 17,0a8.5,5.6 0 1 0 -17,0M2292.3,716.2a8.5,5.6 0 1 0 17,0a8.5,5.6 0 1 0 -17,0M2292.3,770.6a8.5,5.6 0 1 0 17,0a8.5,5.6 0 1 0 -17,0M2309.9,716.2a8.5,5.6 0 1 0 17,0a8.5,5.6 0 1 0 -17,0M2309.9,770.6a8.5,5.6 0 1 0 17,0a8.5,5.6 0 1 0 -17,0M2327.5,716.2a8.5,5.6 0 1 0 17,0a8.5,5.6 0 1 0 -17,0M2327.5,770.6a8.5,5.6 0 1 0 17,0a8.5,5.6 0 1 0 -17,0M2345.2,716.2a8.5,5.6 0 1 0 17,0a8.5,5.6 0 1 0 -17,0M2345.2,770.6a8.5,5.6 0 1 0 17,0a8.5,5.6 0 1 0 -17,0M2362.8,716.2a8.5,5.6 0 1 0 17,0a8.5,5.6 0 1 0 -17,0M2362.8,770.6a8.5,5.6 0 1 0 17,0a8.5,5.6 0 1 0 -17,0M2380.4,716.2a8.5,5.6 0 1 0 17,0a8.5,5.6 0 1 0 -17,0M2380.4,770.6a8.5,5.6 0 1 0 17,0a8.5,5.6 0 1 0 -17,0M2398,716.2a8.5,5.6 0 1 0 17,0a8.5,5.6 0 1 0 -17,0M2398,770.6a8.5,5.6 0 1 0 17,0a8.5,5.6 0 1 0 -17,0M2415.7,716.2a8.5,5.6 0 1 0 17,0a8.5,5.6 0 1 0 -17,0M2415.7,770.6a8.5,5.6 0 1 0 17,0a8.5,5.6 0 1 0 -17,0M2433.3,716.2a8.5,5.6 0 1 0 17,0a8.5,5.6 0 1 0 -17,0M2433.3,770.6a8.5,5.6 0 1 0 17,0a8.5,5.6 0 1 0 -17,0M2450.9,716.2a8.5,5.6 0 1 0 17,0a8.5,5.6 0 1 0 -17,0M2450.9,770.6a8.5,5.6 0 1 0 17,0a8.5,5.6 0 1 0 -17,0M2468.6,716.2a8.5,5.6 0 1 0 17,0a8.5,5.6 0 1 0 -17,0M2468.6,770.6a8.5,5.6 0 1 0 17,0a8.5,5.6 0 1 0 -17,0M2486.2,716.2a8.5,5.6 0 1 0 17,0a8.5,5.6 0 1 0 -17,0M2486.2,770.6a8.5,5.6 0 1 0 17,0a8.5,5.6 0 1 0 -17,0M2503.8,716.2a8.5,5.6 0 1 0 17,0a8.5,5.6 0 1 0 -17,0M2503.8,770.6a8.5,5.6 0 1 0 17,0a8.5,5.6 0 1 0 -17,0M2521.4,716.2a8.5,5.6 0 1 0 17,0a8.5,5.6 0 1 0 -17,0M2521.4,770.6a8.5,5.6 0 1 0 17,0a8.5,5.6 0 1 0 -17,0M2539.1,716.2a8.5,5.6 0 1 0 17,0a8.5,5.6 0 1 0 -17,0M2539.1,770.6a8.5,5.6 0 1 0 17,0a8.5,5.6 0 1 0 -17,0M2556.7,716.2a8.5,5.6 0 1 0 17,0a8.5,5.6 0 1 0 -17,0M2556.7,770.6a8.5,5.6 0 1 0 17,0a8.5,5.6 0 1 0 -17,0M2574.3,716.2a8.5,5.6 0 1 0 17,0a8.5,5.6 0 1 0 -17,0M2574.3,770.6a8.5,5.6 0 1 0 17,0a8.5,5.6 0 1 0 -17,0M2592,716.2a8.5,5.6 0 1 0 17,0a8.5,5.6 0 1 0 -17,0M2592,770.6a8.5,5.6 0 1 0 17,0a8.5,5.6 0 1 0 -17,0M2609.6,716.2a8.5,5.6 0 1 0 17,0a8.5,5.6 0 1 0 -17,0M2609.6,770.6a8.5,5.6 0 1 0 17,0a8.5,5.6 0 1 0 -17,0M2627.2,716.2a8.5,5.6 0 1 0 17,0a8.5,5.6 0 1 0 -17,0M2627.2,770.6a8.5,5.6 0 1 0 17,0a8.5,5.6 0 1 0 -17,0M2644.9,716.2a8.5,5.6 0 1 0 17,0a8.5,5.6 0 1 0 -17,0M2644.9,770.6a8.5,5.6 0 1 0 17,0a8.5,5.6 0 1 0 -17,0M2662.5,716.2a8.5,5.6 0 1 0 17,0a8.5,5.6 0 1 0 -17,0M2662.5,770.6a8.5,5.6 0 1 0 17,0a8.5,5.6 0 1 0 -17,0M2680.1,716.2a8.5,5.6 0 1 0 17,0a8.5,5.6 0 1 0 -17,0M2680.1,770.6a8.5,5.6 0 1 0 17,0a8.5,5.6 0 1 0 -17,0M2697.8,716.2a8.5,5.6 0 1 0 17,0a8.5,5.6 0 1 0 -17,0M2697.8,770.6a8.5,5.6 0 1 0 17,0a8.5,5.6 0 1 0 -17,0M2715.4,716.2a8.5,5.6 0 1 0 17,0a8.5,5.6 0 1 0 -17,0M2715.4,770.6a8.5,5.6 0 1 0 17,0a8.5,5.6 0 1 0 -17,0M2733,716.2a8.5,5.6 0 1 0 17,0a8.5,5.6 0 1 0 -17,0M2733,770.6a8.5,5.6 0 1 0 17,0a8.5,5.6 0 1 0 -17,0M2750.6,716.2a8.5,5.6 0 1 0 17,0a8.5,5.6 0 1 0 -17,0M2750.6,770.6a8.5,5.6 0 1 0 17,0a8.5,5.6 0 1 0 -17,0M2768.3,716.2a8.5,5.6 0 1 0 17,0a8.5,5.6 0 1 0 -17,0M2768.3,770.6a8.5,5.6 0 1 0 17,0a8.5,5.6 0 1 0 -17,0M2785.9,716.2a8.5,5.6 0 1 0 17,0a8.5,5.6 0 1 0 -17,0M2785.9,770.6a8.5,5.6 0 1 0 17,0a8.5,5.6 0 1 0 -17,0M2803.5,716.2a8.5,5.6 0 1 0 17,0a8.5,5.6 0 1 0 -17,0M2803.5,770.6a8.5,5.6 0 1 0 17,0a8.5,5.6 0 1 0 -17,0M2821.2,716.2a8.5,5.6 0 1 0 17,0a8.5,5.6 0 1 0 -17,0M2821.2,770.6a8.5,5.6 0 1 0 17,0a8.5,5.6 0 1 0 -17,0M2838.8,716.2a8.5,5.6 0 1 0 17,0a8.5,5.6 0 1 0 -17,0M2838.8,770.6a8.5,5.6 0 1 0 17,0a8.5,5.6 0 1 0 -17,0M2856.4,716.2a8.5,5.6 0 1 0 17,0a8.5,5.6 0 1 0 -17,0M2856.4,770.6a8.5,5.6 0 1 0 17,0a8.5,5.6 0 1 0 -17,0M2874.1,716.2a8.5,5.6 0 1 0 17,0a8.5,5.6 0 1 0 -17,0M2874.1,770.6a8.5,5.6 0 1 0 17,0a8.5,5.6 0 1 0 -17,0M2891.7,716.2a8.5,5.6 0 1 0 17,0a8.5,5.6 0 1 0 -17,0M2891.7,770.6a8.5,5.6 0 1 0 17,0a8.5,5.6 0 1 0 -17,0M2909.3,716.2a8.5,5.6 0 1 0 17,0a8.5,5.6 0 1 0 -17,0M2909.3,770.6a8.5,5.6 0 1 0 17,0a8.5,5.6 0 1 0 -17,0M2926.9,716.2a8.5,5.6 0 1 0 17,0a8.5,5.6 0 1 0 -17,0M2926.9,770.6a8.5,5.6 0 1 0 17,0a8.5,5.6 0 1 0 -17,0M2944.6,716.2a8.5,5.6 0 1 0 17,0a8.5,5.6 0 1 0 -17,0M2944.6,770.6a8.5,5.6 0 1 0 17,0a8.5,5.6 0 1 0 -17,0M2962.2,716.2a8.5,5.6 0 1 0 17,0a8.5,5.6 0 1 0 -17,0M2962.2,770.6a8.5,5.6 0 1 0 17,0a8.5,5.6 0 1 0 -17,0" fill="#8D9DB6"/>
<text x="76" y="821" font-size="37" textLength="253.1" lengthAdjust="spacingAndGlyphs" fill="#6E6E6E">Cell membrane</text>
<text x="1050.7" y="530.4" font-size="39.5" textLength="81.1" lengthAdjust="spacingAndGlyphs">PTH</text>
<text x="1630.5" y="530.4" font-size="39.5" textLength="119.2" lengthAdjust="spacingAndGlyphs">PTHrP</text>
<text x="1172" y="701.2" font-size="39.5" textLength="130.2" lengthAdjust="spacingAndGlyphs">PTH1R</text>
<path d="M1140.9,480.5C1142.9,479.7 1149.4,474.5 1152.5,475.5C1155.6,476.6 1158.6,481.8 1159.7,486.8C1160.7,491.7 1157.6,500 1158.7,505.5C1159.9,510.9 1162.9,516.8 1166.5,519.5C1170.1,522.2 1176.1,523.2 1180.5,521.7C1185,520.1 1189.1,514.7 1193,510.1C1196.9,505.6 1201,497.4 1203.9,494.6C1206.9,491.7 1208.2,490.9 1210.8,493C1213.4,495.1 1216.5,502.4 1219.5,507C1222.5,511.6 1225.5,517.6 1228.9,520.4C1232.2,523.3 1236.2,524.2 1239.8,524.2C1243.3,524.2 1248.3,521 1250,520.4" fill="none" stroke="#8558A8" stroke-width="6.5" stroke-linecap="round"/>
<path d="M1634.7,479.9C1632.8,479.2 1626.1,474.7 1623.2,475.5C1620.2,476.4 1617.7,480.7 1616.9,485.2C1616.2,489.7 1618.5,497.7 1618.5,502.3C1618.5,507 1618.8,511.2 1616.9,513.3C1615.1,515.3 1612,516.4 1607.6,514.8C1603.2,513.3 1596.2,507.5 1590.4,503.9C1584.7,500.3 1578.2,494.3 1573.3,493C1568.4,491.7 1564.7,493.3 1560.8,496.1C1556.9,499 1553.3,505.9 1549.9,510.1C1546.5,514.4 1544.5,519.9 1540.6,521.7C1536.7,523.5 1528.9,521.2 1526.5,521" fill="none" stroke="#BDB5DC" stroke-width="6.5" stroke-linecap="round"/>
<path d="M1233.5,489.9C1236.9,488.1 1247.3,481.1 1253.8,479C1260.3,476.8 1266.3,476.3 1272.5,476.8C1278.7,477.3 1285,478.6 1291.2,482.1C1297.4,485.6 1304.4,491.2 1309.9,497.7C1315.4,504.2 1320,513 1323.9,521C1327.8,529.1 1330.7,537.8 1333.3,546C1335.9,554.2 1338.6,566.2 1339.7,570.2" fill="none" stroke="#757575" stroke-width="7"/>
<polygon points="1345.7,597.4 1324.4,570.4 1353.7,563.9" fill="#757575"/>
<path d="M1543.1,489.9C1539.5,488.1 1528.5,481.1 1521.9,479C1515.2,476.8 1509.4,476.3 1503.2,476.8C1496.9,477.3 1490.4,478.6 1484.5,482.1C1478.5,485.6 1472.5,491.2 1467.3,497.7C1462.1,504.2 1457.2,513 1453.3,521C1449.4,529.1 1446.7,537.8 1443.9,546C1441.2,554.2 1438,566.3 1436.8,570.4" fill="none" stroke="#757575" stroke-width="7"/>
<polygon points="1429.9,597.4 1423.1,563.7 1452.1,571.1" fill="#757575"/>
<path d="M1317.3,865.7C1313.1,870.1 1302.6,882.6 1292.2,892.3C1281.9,901.9 1267.6,915 1255.3,923.7C1243,932.3 1230.7,938.7 1218.4,944C1206.1,949.2 1193.8,952.7 1181.5,955C1169.2,957.4 1156.9,958.6 1144.6,958C1132.3,957.4 1120,955.2 1107.7,951.3C1095.4,947.5 1083,941.8 1070.7,934.7C1058.4,927.7 1044.5,917.4 1033.8,908.9C1023.2,900.4 1011.3,888.1 1006.8,884" fill="none" stroke="#757575" stroke-width="5.5"/>
<polygon points="985.1,866.4 1019,873.8 999.5,898" fill="#757575"/>
<path d="M1575.7,866.4C1578.9,870.1 1586.8,880.6 1594.9,888.6C1603,896.6 1614.6,907.7 1624.5,914.4C1634.3,921.2 1644.1,926 1654,929.2C1663.8,932.4 1673.7,933.9 1683.5,933.6C1693.4,933.3 1703.2,931.2 1713,927.4C1722.9,923.5 1732.6,917.8 1742.6,910.7C1752.6,903.7 1768,889.2 1773.1,884.9" fill="none" stroke="#757575" stroke-width="5.5"/>
<polygon points="1795,867.6 1780.3,898.9 1761.1,874.6" fill="#757575"/>
<text x="439.7" y="695" font-size="42" textLength="328.5" lengthAdjust="spacingAndGlyphs">Adenylate cyclase</text>
<path d="M805.5,780.8C805.8,782.8 808.8,789.7 807.5,792.7C806.1,795.7 801.5,797.7 797.5,798.7C793.6,799.6 787.9,797.7 783.7,798.7C779.4,799.6 773.7,803.6 771.7,804.6" fill="none" stroke="#6A3838" stroke-width="3.6" stroke-linecap="round"/>
<path d="M829.7,788.7C829.9,792 831.7,802 831.3,808.6C830.9,815.2 829.9,822.5 827.3,828.4C824.7,834.4 821.7,839.3 815.4,844.3C809.1,849.2 795.2,853.2 789.6,858.2C784,863.1 781.7,868.8 781.7,874C781.7,879.3 783.3,886.3 789.6,889.9C795.9,893.6 809.1,895.2 819.4,895.9C829.6,896.5 841.5,892.2 851.1,893.9C860.7,895.5 870,904.1 876.9,905.8C883.8,907.4 889.1,907.4 892.8,903.8C896.4,900.2 899.7,891.6 898.7,884C897.7,876.4 890.1,864.8 886.8,858.2C883.5,851.6 880.2,846.6 878.9,844.3" fill="none" stroke="#6A3838" stroke-width="3.6" stroke-linecap="round"/>
<path d="M854.7,794.7C855.1,796 856.3,800.3 857.1,802.6C857.8,804.9 858.7,807.6 859,808.6" fill="none" stroke="#6A3838" stroke-width="3.6" stroke-linecap="round"/>
<path d="M871,780.8C872.3,782.1 875.6,787.7 878.9,788.7C882.2,789.7 887.5,788.7 890.8,786.7C894.1,784.8 897.4,778.5 898.7,776.8" fill="none" stroke="#6A3838" stroke-width="3.6" stroke-linecap="round"/>
<path d="M797.5,778.8C798.2,780.1 799.7,786.1 801.5,786.7C803.3,787.4 807.3,783.4 808.5,782.8" fill="none" stroke="#6A3838" stroke-width="3.6" stroke-linecap="round"/>
<path d="M930.5,814.5C931.8,815.2 935.3,817.2 938.4,818.5C941.6,819.7 947.5,821.5 949.3,822.1" fill="none" stroke="#6A3838" stroke-width="3.6" stroke-linecap="round"/>
<g transform="translate(801.5 667.3) rotate(-4.9)" stroke="#87383A" stroke-width="1.5"><path d="M-9,0L-9,92A9,3.6 0 0 0 9,92L9,0A9,3.6 0 0 0 -9,0Z" fill="#9E4141"/><ellipse rx="9" ry="3.6" fill="#A84646"/></g>
<g transform="translate(825.7 662.7) rotate(-0.9)" stroke="#87383A" stroke-width="1.5"><path d="M-9,0L-9,96.2A9,3.6 0 0 0 9,96.2L9,0A9,3.6 0 0 0 -9,0Z" fill="#9E4141"/><ellipse rx="9" ry="3.6" fill="#A84646"/></g>
<g transform="translate(818.4 672.7) rotate(-0.7)" stroke="#87383A" stroke-width="1.5"><path d="M-9,0L-9,86.3A9,3.6 0 0 0 9,86.3L9,0A9,3.6 0 0 0 -9,0Z" fill="#9E4141"/><ellipse rx="9" ry="3.6" fill="#A84646"/></g>
<g transform="translate(860 667.3) rotate(4.8)" stroke="#87383A" stroke-width="1.5"><path d="M-9,0L-9,105.9A9,3.6 0 0 0 9,105.9L9,0A9,3.6 0 0 0 -9,0Z" fill="#9E4141"/><ellipse rx="9" ry="3.6" fill="#A84646"/></g>
<g transform="translate(883.3 672.7) rotate(3.3)" stroke="#87383A" stroke-width="1.5"><path d="M-9,0L-9,76.5A9,3.6 0 0 0 9,76.5L9,0A9,3.6 0 0 0 -9,0Z" fill="#9E4141"/><ellipse rx="9" ry="3.6" fill="#A84646"/></g>
<g transform="translate(863 686.5) rotate(3.9)" stroke="#87383A" stroke-width="1.5"><path d="M-9,0L-9,86.5A9,3.6 0 0 0 9,86.5L9,0A9,3.6 0 0 0 -9,0Z" fill="#9E4141"/><ellipse rx="9" ry="3.6" fill="#A84646"/></g>
<g transform="translate(891.8 682) rotate(-4.4)" stroke="#87383A" stroke-width="1.5"><path d="M-9.5,0L-9.5,90.1A9.5,3.8 0 0 0 9.5,90.1L9.5,0A9.5,3.8 0 0 0 -9.5,0Z" fill="#A64A4A"/><ellipse rx="9.5" ry="3.8" fill="#B65A5A"/></g>
<g transform="translate(792 684) rotate(-7.6)" stroke="#87383A" stroke-width="1.5"><path d="M-9.2,0L-9.2,94.7A9.2,3.7 0 0 0 9.2,94.7L9.2,0A9.2,3.7 0 0 0 -9.2,0Z" fill="#AC4E4E"/><ellipse rx="9.2" ry="3.7" fill="#B65A5A"/></g>
<g transform="translate(881.3 687.9) rotate(4)" stroke="#87383A" stroke-width="1.5"><path d="M-9.5,0L-9.5,92.1A9.5,3.8 0 0 0 9.5,92.1L9.5,0A9.5,3.8 0 0 0 -9.5,0Z" fill="#AC4E4E"/><ellipse rx="9.5" ry="3.8" fill="#B65A5A"/></g>
<g transform="translate(805.5 687.9) rotate(-0.2)" stroke="#87383A" stroke-width="1.5"><path d="M-9.2,0L-9.2,93.9A9.2,3.7 0 0 0 9.2,93.9L9.2,0A9.2,3.7 0 0 0 -9.2,0Z" fill="#AC4E4E"/><ellipse rx="9.2" ry="3.7" fill="#B65A5A"/></g>
<g transform="translate(829.3 697.1) rotate(-0.2)" stroke="#87383A" stroke-width="1.5"><path d="M-9.2,0L-9.2,91.3A9.2,3.7 0 0 0 9.2,91.3L9.2,0A9.2,3.7 0 0 0 -9.2,0Z" fill="#AC4E4E"/><ellipse rx="9.2" ry="3.7" fill="#B65A5A"/></g>
<g transform="translate(853.5 703) rotate(-0.7)" stroke="#87383A" stroke-width="1.5"><path d="M-9.2,0L-9.2,91.3A9.2,3.7 0 0 0 9.2,91.3L9.2,0A9.2,3.7 0 0 0 -9.2,0Z" fill="#AC4E4E"/><ellipse rx="9.2" ry="3.7" fill="#B65A5A"/></g>
<path d="M799.5,666.7C800.2,664.9 800.8,658.6 803.5,655.8C806.1,653 811.8,650.2 815.4,649.8C819,649.5 823.5,651.7 825.3,653.8C827.1,656 826.1,661.2 826.3,662.7" fill="none" stroke="#6A3838" stroke-width="3.6" stroke-linecap="round"/>
<path d="M790.6,683.2C791.1,681.4 791.1,675.6 793.6,672.7C796.1,669.7 801.7,666.5 805.5,665.7C809.3,664.9 814.2,666.6 816.4,667.7C818.5,668.8 818,671.3 818.4,672.1" fill="none" stroke="#6A3838" stroke-width="3.6" stroke-linecap="round"/>
<path d="M805.5,687.5C805.6,686.2 805,681.5 806.5,679.6C808,677.7 811.6,675.9 814.4,676C817.2,676.2 820.9,677.2 823.3,680.6C825.8,684 828.3,693.8 829.3,696.5" fill="none" stroke="#6A3838" stroke-width="3.6" stroke-linecap="round"/>
<path d="M863,666.7C863.5,664.9 863.7,658.4 866,655.8C868.3,653.1 873.6,650.5 876.9,650.8C880.2,651.2 884.5,654.1 885.8,657.8C887.2,661.4 885,670.2 884.8,672.7" fill="none" stroke="#6A3838" stroke-width="3.6" stroke-linecap="round"/>
<path d="M861,685.2C861.5,683.4 861.7,677.4 864,674.6C866.3,671.9 871.3,669 874.9,668.7C878.6,668.4 883.2,670.6 885.8,672.7C888.5,674.7 890,679.8 890.8,681.2" fill="none" stroke="#6A3838" stroke-width="3.6" stroke-linecap="round"/>
<path d="M853.5,702.4C853.8,700.3 852.8,693.1 855.1,689.5C857.3,686 863,682.4 867,681.2C871,679.9 876.5,680.9 878.9,682C881.3,683 880.9,686.6 881.3,687.5" fill="none" stroke="#6A3838" stroke-width="3.6" stroke-linecap="round"/>
<polyline points="944.4,708.4 940.1,715.9 952.2,720.5 942.5,729.1 954.5,733.7 944.9,742.2 956.9,746.8 947.3,755.4 953.9,761 953.9,777.8" fill="none" stroke="#3B1D60" stroke-width="2.4" stroke-linejoin="miter"/>
<polyline points="959.2,707.4 955.1,715 967.1,719.5 957.6,728.1 969.6,732.7 960,741.3 972.1,745.8 962.5,754.4 969.2,760 969.2,777.8" fill="none" stroke="#3B1D60" stroke-width="2.4" stroke-linejoin="miter"/>
<path d="M819,828.4C818.1,822.5 819.6,816.6 822.3,812.5C825.1,808.5 829.8,805.9 835.2,804.2C840.7,802.5 848.1,803.1 855.1,802.2C862,801.4 871.3,800.8 876.9,799C882.5,797.3 885.2,792.3 888.8,791.7C892.4,791.1 895.4,794.1 898.7,795.7C902,797.2 905.3,800.9 908.7,801C912,801.2 915.4,799.5 918.6,796.7C921.7,793.8 923.5,787 927.5,783.8C931.5,780.5 936.6,778.4 942.4,777.2C948.2,776.1 956.6,776.6 962.2,776.8C967.8,777.1 973.2,777.2 976.1,778.8C979,780.5 980,784.2 979.7,786.7C979.4,789.3 978,792.7 974.1,794.3C970.2,795.9 961.6,795.5 956.3,796.3C951,797 945.9,796.9 942.4,798.7C938.9,800.4 936.8,803.3 935.4,806.6C934,809.9 933.7,814.5 934,818.5C934.4,822.5 937.5,825.8 937.4,830.4C937.3,835 936.6,841.7 933.5,846.3C930.3,850.8 922.7,855.8 918.6,857.8C914.4,859.8 911.6,859.4 908.7,858.2C905.7,857 905.7,852.5 900.7,850.6C895.8,848.8 885.2,847.9 878.9,847.3C872.6,846.6 867.5,845.2 863,846.7C858.6,848.1 855.7,853.9 852.1,855.8C848.5,857.7 845.3,859.4 841.2,858.2C837.1,856.9 831,853.2 827.3,848.3C823.6,843.3 819.8,834.4 819,828.4Z" fill="#8C62AC" stroke="#3B1D60" stroke-width="2"/>
<text x="868" y="835.6" font-size="44" textLength="49.3" lengthAdjust="spacingAndGlyphs" fill="#fff">αs</text>
<path d="M1332.6,811.4C1332.6,813.6 1331.2,821.6 1332.6,824.9C1334,828.1 1338.1,831 1341.2,831C1344.2,831 1349.3,825.9 1350.9,824.9" fill="none" stroke="#3A3A3A" stroke-width="3" stroke-linecap="round"/>
<path d="M1348.5,807.7C1350.1,809.2 1355,815.5 1358.3,816.3C1361.5,817.1 1366.4,813.2 1368.1,812.6" fill="none" stroke="#3A3A3A" stroke-width="3" stroke-linecap="round"/>
<path d="M1413.3,861.6C1413.9,863.2 1413.9,869.1 1417,871.3C1420.1,873.6 1426.4,875.4 1431.7,875C1437,874.6 1446,869.9 1448.8,868.9" fill="none" stroke="#3A3A3A" stroke-width="3" stroke-linecap="round"/>
<path d="M1426.8,674.4C1427.6,672.2 1428.4,664.4 1431.7,660.9C1434.9,657.5 1443.2,656.7 1446.4,653.6C1449.5,650.6 1451.2,646.3 1450.8,642.6C1450.4,638.9 1447.9,634 1443.9,631.6C1439.9,629.1 1432.9,629.3 1426.8,627.9C1420.7,626.5 1412.9,625.7 1407.2,623C1401.5,620.4 1397.8,614.5 1392.5,612C1387.2,609.5 1378.3,608.6 1375.4,607.9" fill="none" stroke="#3A3A3A" stroke-width="4.2" stroke-linecap="round"/>
<g transform="translate(1331.9 671.2) rotate(-11.1)" stroke="#333" stroke-width="1.5"><path d="M-14,0L-14,136.6A14,5.6 0 0 0 14,136.6L14,0A14,5.6 0 0 0 -14,0Z" fill="#575757"/><ellipse rx="14" ry="5.6" fill="#666"/></g>
<g transform="translate(1366.1 661.4) rotate(1.2)" stroke="#333" stroke-width="1.5"><path d="M-13,0L-13,143.9A13,5.2 0 0 0 13,143.9L13,0A13,5.2 0 0 0 -13,0Z" fill="#575757"/><ellipse rx="13" ry="5.2" fill="#666"/></g>
<g transform="translate(1400.4 665.4) rotate(1.2)" stroke="#333" stroke-width="1.5"><path d="M-13,0L-13,140A13,5.2 0 0 0 13,140L13,0A13,5.2 0 0 0 -13,0Z" fill="#575757"/><ellipse rx="13" ry="5.2" fill="#666"/></g>
<g transform="translate(1427.8 674.4) rotate(11)" stroke="#333" stroke-width="1.5"><path d="M-14,0L-14,133.3A14,5.6 0 0 0 14,133.3L14,0A14,5.6 0 0 0 -14,0Z" fill="#575757"/><ellipse rx="14" ry="5.6" fill="#666"/></g>
<g transform="translate(1353.9 677.6) rotate(8.2)" stroke="#333" stroke-width="1.5"><path d="M-14,0L-14,134A14,5.6 0 0 0 14,134L14,0A14,5.6 0 0 0 -14,0Z" fill="#6E6E6E"/><ellipse rx="14" ry="5.6" fill="#7E7E7E"/></g>
<g transform="translate(1408.9 682.2) rotate(-8)" stroke="#333" stroke-width="1.5"><path d="M-14,0L-14,128A14,5.6 0 0 0 14,128L14,0A14,5.6 0 0 0 -14,0Z" fill="#6E6E6E"/><ellipse rx="14" ry="5.6" fill="#7E7E7E"/></g>
<g transform="translate(1382.3 685.4) rotate(1.4)" stroke="#333" stroke-width="1.5"><path d="M-14.2,0L-14.2,128.5A14.2,5.7 0 0 0 14.2,128.5L14.2,0A14.2,5.7 0 0 0 -14.2,0Z" fill="#6E6E6E"/><ellipse rx="14.2" ry="5.7" fill="#7E7E7E"/></g>
<path d="M1332.6,670.7C1332.6,668.7 1330.8,661.6 1332.6,658.5C1334.4,655.4 1340.1,652.4 1343.6,652.4C1347.1,652.4 1351.8,654.4 1353.4,658.5C1355,662.6 1353.4,673.8 1353.4,676.9" fill="none" stroke="#3A3A3A" stroke-width="3.4" stroke-linecap="round"/>
<path d="M1364.4,660.9C1364.8,658.5 1363.8,649.9 1366.9,646.3C1369.9,642.6 1377.5,638.7 1382.8,638.9C1388.1,639.1 1395.6,643.2 1398.7,647.5C1401.7,651.8 1400.7,661.8 1401.1,664.6" fill="none" stroke="#3A3A3A" stroke-width="3.4" stroke-linecap="round"/>
<path d="M1380.3,684.2C1380.5,681.1 1379.1,670 1381.5,665.8C1384,661.7 1390.7,659.2 1395,659.2C1399.3,659.2 1405,662.1 1407.2,665.8C1409.5,669.6 1408.2,679.1 1408.4,681.7" fill="none" stroke="#3A3A3A" stroke-width="3.4" stroke-linecap="round"/>
<polyline points="1461,720.9 1456.7,728 1468.6,732.2 1458.8,740.2 1470.7,744.4 1461,752.4 1472.9,756.6 1463.1,764.6 1469.6,769.8 1469.6,790.1" fill="none" stroke="#3B1D60" stroke-width="2.4" stroke-linejoin="miter"/>
<polyline points="1475.7,720.9 1471.5,728.2 1483.5,732.4 1473.8,740.7 1485.8,745 1476.1,753.2 1488.1,757.5 1478.4,765.8 1485,771 1485,790.1" fill="none" stroke="#3B1D60" stroke-width="2.4" stroke-linejoin="miter"/>
<polyline points="1497.7,720.9 1493.6,728.2 1505.6,732.4 1496,740.7 1508,744.9 1498.5,753.3 1510.5,757.4 1500.9,765.8 1507.5,771 1507.5,786.9" fill="none" stroke="#444" stroke-width="2.4" stroke-linejoin="miter"/>
<path d="M1506.3,786.9C1508.1,786.1 1510.8,790 1512.4,794.3C1514,798.6 1513.8,806.5 1516.1,812.6C1518.3,818.7 1522,823.8 1525.9,831C1529.7,838.1 1536.1,846.7 1539.3,855.4C1542.6,864.2 1545.4,873.6 1545.4,883.6C1545.5,893.6 1543.9,906.5 1539.8,915.4C1535.7,924.3 1529.2,932.2 1521,936.9C1512.7,941.6 1499,942.5 1490.4,943.5C1481.8,944.5 1474.1,944.1 1469.6,942.8C1465.1,941.4 1462.9,938 1463.5,935.4C1464.1,932.9 1468.4,929.5 1473.3,927.6C1478.2,925.7 1487.3,926.5 1492.8,923.9C1498.3,921.4 1502.8,919.2 1506.3,912.4C1509.8,905.7 1512.2,894.1 1513.6,883.6C1515.1,873.1 1515.9,859.5 1514.9,849.3C1513.8,839.1 1509.8,830.8 1507.5,822.4C1505.3,814.1 1501.6,805.1 1501.4,799.2C1501.2,793.3 1504.5,787.8 1506.3,786.9Z" fill="#E6E6E6" stroke="#555" stroke-width="2"/>
<path d="M1342.4,860.3C1342,861.8 1339.9,865.4 1339.9,868.9C1339.9,872.4 1340.1,877.3 1342.4,881.1C1344.6,885 1351.6,890.3 1353.4,892.1" stroke="#2E1A57" stroke-width="5.5" fill="none"/>
<path d="M1334.3,844.4C1332.9,838.1 1335.1,832.8 1338.7,828.5C1342.3,824.3 1349.3,820.8 1355.8,818.7C1362.4,816.7 1371.3,817.1 1377.9,816.3C1384.4,815.5 1390.1,815.7 1395,813.9C1399.9,812 1403.5,805.7 1407.2,805.3C1410.9,804.9 1413.7,809.7 1417,811.4C1420.3,813.1 1423.5,816 1426.8,815.6C1430.1,815.2 1433.9,811.7 1436.6,809C1439.2,806.2 1439.4,802.2 1442.7,799.2C1446,796.2 1450.6,792.7 1456.1,791.1C1461.7,789.6 1470,790 1475.7,789.9C1481.4,789.8 1486.9,789.2 1490.4,790.6C1493.9,792 1496.4,795.7 1496.5,798.4C1496.6,801.2 1494.4,805.6 1490.9,807.2C1487.4,808.9 1480.7,808.1 1475.7,808.5C1470.7,808.8 1465,807.9 1461,809.4C1457,811 1453.8,813.7 1451.7,817.5C1449.7,821.3 1448.4,827.5 1448.8,832.2C1449.2,836.9 1453.8,841.2 1454.2,845.7C1454.6,850.1 1453.6,854.9 1451.3,859.1C1448.9,863.3 1444.7,868.8 1440.2,870.9C1435.8,872.9 1429,872.8 1424.3,871.3C1419.7,869.9 1417.4,864.1 1412.1,862C1406.8,860 1398.2,859.6 1392.5,859.1C1386.8,858.6 1382.8,857.1 1377.9,859.1C1373,861.2 1368.3,870.1 1363.2,871.3C1358.1,872.6 1352.1,870.9 1347.3,866.5C1342.5,862 1335.7,850.8 1334.3,844.4Z" fill="#8C62AC" stroke="#3B1D60" stroke-width="2"/>
<text x="1350.2" y="846.9" font-size="43" textLength="93.3" lengthAdjust="spacingAndGlyphs" fill="#fff">αs/q</text>
<path d="M1451.3,820C1453.8,816.3 1459.8,812.4 1465.9,810.7C1472,809 1481.6,808.3 1488,809.7C1494.3,811 1499.9,812.5 1503.9,818.7C1507.8,824.9 1510.7,836.1 1511.9,846.9C1513.1,857.7 1513.1,873 1511.2,883.6C1509.2,894.2 1505.1,904 1500.2,910.5C1495.3,917 1487.3,920.6 1481.8,922.7C1476.3,924.8 1470.8,925 1467.2,923.2C1463.5,921.4 1460.1,915.8 1459.8,911.7C1459.5,907.6 1466,901.7 1465.4,898.7C1464.9,895.8 1459.7,896.4 1456.6,893.9C1453.5,891.3 1448.4,888.1 1446.9,883.6C1445.3,879 1446.1,872.1 1447.6,866.5C1449.1,860.8 1455.2,855.4 1455.7,849.8C1456.1,844.2 1451.3,837.7 1450.5,832.7C1449.8,827.7 1448.7,823.6 1451.3,820Z" fill="#E8D6CA" stroke="#5E4032" stroke-width="2"/>
<text x="1473" y="875" font-size="34" fill="#333">β</text>
<text x="1519.5" y="900.5" font-size="35" fill="#333">γ</text>
<polyline points="1858.7,715.8 1854.6,723.5 1866.6,728.1 1857,736.7 1869.1,741.3 1859.5,749.9 1871.5,754.5 1861.9,763.1 1868.6,768.8 1868.6,786" fill="none" stroke="#3B1D60" stroke-width="2.4" stroke-linejoin="miter"/>
<polyline points="1873.5,715.8 1869.3,723.5 1881.4,728.1 1871.8,736.7 1883.8,741.3 1874.2,749.9 1886.3,754.5 1876.7,763.1 1883.3,768.8 1883.3,786" fill="none" stroke="#3B1D60" stroke-width="2.4" stroke-linejoin="miter"/>
<path d="M1732.5,837.7C1731.7,831.4 1732.9,827.1 1736.9,822.9C1740.9,818.7 1750,814.4 1756.6,812.3C1763.2,810.3 1770.8,811.1 1776.3,810.6C1781.8,810.1 1785.7,811.2 1789.8,809.4C1793.9,807.5 1797.4,801 1800.9,799.5C1804.4,798 1807.5,798.5 1810.7,800.3C1814,802 1817.5,808.8 1820.6,810.1C1823.7,811.4 1825.9,810.9 1829.2,808.1C1832.5,805.3 1835.6,797.2 1840.3,793.4C1845,789.5 1851.4,786.8 1857.5,785.2C1863.7,783.7 1872.1,784.2 1877.2,784.3C1882.3,784.3 1885.3,784.3 1888.3,785.5C1891.2,786.7 1893.9,788.9 1894.9,791.4C1895.9,793.9 1898.2,796.3 1894.4,800.7C1890.6,805.2 1879.6,813.5 1872.3,818C1865,822.5 1854.2,822.9 1850.6,827.8C1847,832.7 1852.3,841.8 1850.6,847.5C1848.9,853.2 1844.5,858.8 1840.3,862.3C1836.1,865.8 1830,869 1825.5,868.4C1821,867.9 1818.1,860.9 1813.2,859.1C1808.3,857.2 1802.1,857.8 1796,857.4C1789.8,856.9 1782.4,854.5 1776.3,856.4C1770.1,858.2 1764.8,867.8 1759.1,868.4C1753.3,869.1 1746.3,865.4 1741.8,860.3C1737.4,855.2 1733.3,843.9 1732.5,837.7Z" fill="#8C62AC" stroke="#3B1D60" stroke-width="2"/>
<text x="1782.5" y="843.3" font-size="44" textLength="25.9" lengthAdjust="spacingAndGlyphs" fill="#fff">q</text>
<path d="M1946.1,735C1951,734.4 1956.8,738.5 1960.9,744.1C1965,749.8 1968.7,760.1 1970.7,768.8C1972.7,777.4 1973.1,786.8 1972.7,795.8C1972.3,804.8 1971,814.7 1968.3,822.9C1965.5,831.1 1961.3,838.9 1955.9,845C1950.6,851.2 1943.6,856.7 1936.3,859.8C1928.9,863 1920.7,863.9 1911.7,864C1902.6,864.1 1890.5,862.8 1882.1,860.3C1873.7,857.8 1866.6,853.7 1861.2,848.7C1855.8,843.7 1851.4,836.2 1849.6,830.3C1847.9,824.3 1848.1,817.8 1850.6,813.1C1853.2,808.3 1857.6,804.8 1864.9,802C1872.2,799.1 1885.8,798.4 1894.4,795.8C1903,793.2 1911.2,791 1916.6,786.5C1921.9,782 1924,775.2 1926.4,768.8C1928.9,762.3 1928.1,753.5 1931.3,747.8C1934.6,742.2 1941.2,735.7 1946.1,735Z" fill="#869BD0"/>
<path d="M1946.1,736.8C1950.4,736.1 1955,740 1958.4,745.4C1961.8,750.7 1964.7,760.3 1966.3,768.8C1967.8,777.2 1968.3,787.2 1967.8,795.8C1967.3,804.4 1966.1,812.8 1963.3,820.4C1960.5,828 1955.9,835.7 1951,841.4C1946.1,847 1940.4,851.5 1933.8,854.4C1927.2,857.3 1919.9,858.4 1911.7,858.6C1903.4,858.7 1892.5,857.6 1884.6,855.4C1876.7,853.2 1869.7,849.7 1864.4,845.5C1859.1,841.4 1854.5,835.5 1852.6,830.3C1850.7,825.1 1850.8,818.7 1853.1,814.3C1855.3,809.9 1859.2,806.5 1866.1,803.7C1873,800.9 1885.8,800.2 1894.4,797.5C1903,794.9 1912.3,792.7 1917.8,787.9C1923.3,783.2 1925.2,775.7 1927.6,769.2C1930.1,762.8 1929.5,754.5 1932.6,749.1C1935.6,743.7 1941.8,737.4 1946.1,736.8Z" fill="#97A9D9" transform="translate(-5 -4)"/>
<text x="1865.8" y="841.4" font-size="41.5" textLength="83.9" lengthAdjust="spacingAndGlyphs">PLC</text>
<line x1="1978" y1="844.3" x2="2028.5" y2="844.3" stroke="#454545" stroke-width="6.2"/>
<polygon points="2056.4,844.3 2025.4,859.8 2025.4,828.8" fill="#454545"/>
<line x1="2081" y1="800" x2="2061.3" y2="770.7" stroke="#222" stroke-width="1.8"/>
<polygon points="2135.5,831.5 2117.8,863.2 2082.2,863.2 2064.5,831.5 2082.2,799.8 2117.8,799.8" fill="#CFD5EA" stroke="#2E3D6A" stroke-width="2.8" stroke-linejoin="round"/>
<text x="2139" y="847.5" font-size="41" textLength="70" lengthAdjust="spacingAndGlyphs">PIP</text>
<text x="2209.5" y="852" font-size="25" textLength="16.3" lengthAdjust="spacingAndGlyphs">2</text>
<line x1="2252.9" y1="845.6" x2="2296.3" y2="845.6" stroke="#454545" stroke-width="6.2"/>
<polygon points="2319.7,845.6 2293.7,858.9 2293.7,832.4" fill="#454545"/>
<line x1="2330.6" y1="777" x2="2345.5" y2="797" stroke="#333" stroke-width="1.8"/>
<ellipse cx="2372" cy="823" rx="55.5" ry="28" fill="#E4E4E4" stroke="#444" stroke-width="2"/>
<text x="2351.8" y="834" font-size="28" textLength="45.3" lengthAdjust="spacingAndGlyphs">OH</text>
<text x="2431.4" y="847.9" font-size="42" textLength="93.5" lengthAdjust="spacingAndGlyphs">DAG</text>
<line x1="2535.6" y1="839" x2="2586.4" y2="839" stroke="#454545" stroke-width="6.2"/>
<polygon points="2613.4,839 2583.4,854.5 2583.4,823.5" fill="#454545"/>
<rect x="2618.5" y="794.3" width="250.3" height="126.5" rx="63.2" fill="#DEECFB" stroke="#2E5E8E" stroke-width="5.3"/>
<text x="2673.8" y="847.2" font-size="41.5" textLength="142.3" lengthAdjust="spacingAndGlyphs">Protein</text>
<text x="2661.6" y="896.2" font-size="41.5" textLength="167.2" lengthAdjust="spacingAndGlyphs">kinase C</text>
<ellipse cx="2855.4" cy="796.6" rx="55.5" ry="28" fill="#E4E4E4" stroke="#444" stroke-width="2"/>
<text x="2833.6" y="809.2" font-size="28" textLength="46.9" lengthAdjust="spacingAndGlyphs">OH</text>
<line x1="2102.8" y1="888.7" x2="2102.8" y2="1048.3" stroke="#454545" stroke-width="6.5"/>
<polygon points="2102.8,1075.3 2086.8,1045.3 2118.8,1045.3" fill="#454545"/>
<polygon points="2137.5,1114.6 2120.2,1145.6 2085.5,1145.6 2068.1,1114.6 2085.5,1083.6 2120.2,1083.6" fill="#CFD5EA" stroke="#2E3D6A" stroke-width="2.8" stroke-linejoin="round"/>
<text x="2142.8" y="1126.2" font-size="41" textLength="43" lengthAdjust="spacingAndGlyphs">IP</text>
<text x="2185" y="1130.8" font-size="25" textLength="15.4" lengthAdjust="spacingAndGlyphs">3</text>
<line x1="2102.8" y1="1158.6" x2="2102.8" y2="1404.8" stroke="#454545" stroke-width="6.5"/>
<polygon points="2102.8,1431.8 2086.8,1401.8 2118.8,1401.8" fill="#454545"/>
<g fill="#E6E6E6" stroke="#CDD1D5" stroke-width="2.5"><circle cx="2664.4" cy="924.8" r="7.7"/><circle cx="2686.1" cy="962.8" r="7.7"/><circle cx="2629.6" cy="994.3" r="7.7"/><circle cx="2598.1" cy="1025.3" r="7.7"/><circle cx="2641.7" cy="1047" r="7.7"/><circle cx="2580.6" cy="1076.7" r="7.7"/><circle cx="2625.9" cy="1079" r="7.7"/><circle cx="2534.7" cy="1093.8" r="7.7"/><circle cx="2586.6" cy="1113.7" r="7.7"/><circle cx="2487" cy="1136.4" r="7.7"/><circle cx="2545.4" cy="1144.3" r="7.7"/><circle cx="2432.4" cy="1161.4" r="7.7"/><circle cx="2513" cy="1176.2" r="7.7"/><circle cx="2385.2" cy="1196.6" r="7.7"/><circle cx="2457.4" cy="1211.9" r="7.7"/><circle cx="2402.8" cy="1223.4" r="7.7"/><circle cx="2340.3" cy="1240.1" r="7.7"/><circle cx="2330.6" cy="1273.4" r="7.7"/><circle cx="2385.2" cy="1269.7" r="7.7"/><circle cx="2279.6" cy="1277.1" r="7.7"/><circle cx="2260.2" cy="1306.8" r="7.7"/><circle cx="2335.6" cy="1324.4" r="7.7"/><circle cx="2238.4" cy="1359.1" r="7.7"/><circle cx="2288.4" cy="1359.1" r="7.7"/><circle cx="2189.8" cy="1367.9" r="7.7"/><circle cx="2238.4" cy="1393.3" r="7.7"/><circle cx="2150.9" cy="1404.9" r="7.7"/><circle cx="2202.8" cy="1424.4" r="7.7"/><circle cx="2160.6" cy="1441" r="7.7"/></g>
<text x="2604" y="972.2" font-size="43" textLength="263.5" lengthAdjust="spacingAndGlyphs">Activate PKC</text>
<text x="2410" y="1233.4" font-size="34" textLength="138" lengthAdjust="spacingAndGlyphs" fill="#666" transform="rotate(-38.5 2410 1233.4)">Calcium</text>
<path d="M725,912.8C729.3,908.4 741.3,894.5 750.4,886.6C759.6,878.7 770.2,870.3 780.1,865.4C789.9,860.5 800.5,857.3 809.7,856.9C818.9,856.6 826.6,858.3 835.1,863.3C843.5,868.2 852.7,877 860.5,886.6C868.2,896.1 875.3,908.4 881.6,920.4C888,932.4 893.6,946.5 898.6,958.5C903.5,970.5 908.1,984 911.2,992.3C914.4,1000.7 916.4,1006.1 917.5,1008.9" fill="none" stroke="#757575" stroke-width="5"/>
<polygon points="923.9,1030.4 904.8,1010.1 928.7,1002.9" fill="#757575"/>
<path d="M828.7,1193.4C833.3,1187.4 846.7,1167.6 856.2,1157.4C865.8,1147.2 875.3,1137.8 885.9,1132C896.4,1126.2 909.1,1122.7 919.7,1122.7C930.3,1122.7 940.9,1125.5 949.3,1132C957.8,1138.5 964.1,1150.3 970.5,1161.6C976.8,1172.9 982.5,1186.3 987.4,1199.7C992.4,1213.1 996.3,1227.3 1000.1,1242C1004,1256.8 1008.8,1280.5 1010.6,1288.2" fill="none" stroke="#757575" stroke-width="5"/>
<polygon points="1017,1309.7 997.9,1289.4 1021.8,1282.2" fill="#757575"/>
<rect x="640.1" y="919.5" width="125.8" height="75.8" rx="37.9" fill="#935020" stroke="#512B10" stroke-width="4.2"/>
<text x="672" y="968.2" font-size="35.5" textLength="67.5" lengthAdjust="spacingAndGlyphs" fill="#fff">ATP</text>
<rect x="863.4" y="1033.4" width="126.5" height="76.6" rx="38.3" fill="#CF9B2A" stroke="#9A5A1E" stroke-width="3.4"/>
<text x="878.8" y="1084.2" font-size="35.5" textLength="100.2" lengthAdjust="spacingAndGlyphs" fill="#fff">cAMP</text>
<rect x="602" y="1181.5" width="246.2" height="134.2" rx="67.1" fill="#B5647A" stroke="#5E2535" stroke-width="3.5"/>
<text x="662" y="1238.6" font-size="36.6" textLength="128.7" lengthAdjust="spacingAndGlyphs" fill="#fff">Protein</text>
<text x="650" y="1283" font-size="36.6" textLength="151.1" lengthAdjust="spacingAndGlyphs" fill="#fff">kinase A</text>
<rect x="924.8" y="1314.7" width="246.3" height="134.2" rx="67.1" fill="#B5647A" stroke="#5E2535" stroke-width="3.5"/>
<text x="984.4" y="1372" font-size="36.6" textLength="129.2" lengthAdjust="spacingAndGlyphs" fill="#fff">Protein</text>
<text x="973" y="1416.4" font-size="36.6" textLength="151.1" lengthAdjust="spacingAndGlyphs" fill="#fff">kinase A</text>
<rect x="1074.6" y="1255.2" width="139.7" height="78.2" rx="39.1" fill="#CF9B2A" stroke="#9A5A1E" stroke-width="3.4"/>
<text x="1092" y="1306.8" font-size="37" textLength="109.2" lengthAdjust="spacingAndGlyphs" fill="#fff">cAMP</text>
<text x="1182" y="1374" font-size="42.5" textLength="262.5" lengthAdjust="spacingAndGlyphs">Activate PKA</text>
<g clip-path="url(#clipb)">
<ellipse cx="1559" cy="1870" rx="592" ry="429" fill="#DCDDE1"/>
<path d="M969.5,1840.5L969.6,1839.2L969.7,1837.9L969.9,1836.6L970,1835.3L970.2,1834L970.3,1832.7L970.5,1831.4L970.6,1830.1L970.8,1828.8L971,1827.5L971.2,1826.2L971.4,1824.9L971.6,1823.6L971.8,1822.3L972,1821L972.2,1819.7L972.4,1818.4L972.6,1817.1L972.8,1815.8L973.1,1814.5L973.3,1813.2L973.6,1811.9L973.8,1810.6L974.1,1809.3" fill="none" stroke="#8595B4" stroke-width="20" stroke-linecap="round"/>
<path d="M969.5,1840.5L969.6,1839.2L969.7,1837.9L969.9,1836.6L970,1835.3L970.2,1834L970.3,1832.7L970.5,1831.4L970.6,1830.1L970.8,1828.8L971,1827.5L971.2,1826.2L971.4,1824.9L971.6,1823.6L971.8,1822.3L972,1821L972.2,1819.7L972.4,1818.4L972.6,1817.1L972.8,1815.8L973.1,1814.5L973.3,1813.2L973.6,1811.9L973.8,1810.6L974.1,1809.3" fill="none" stroke="#C2D0E8" stroke-width="13.4" stroke-linecap="round"/>
<path d="M993.3,1736.6L996.5,1729.7L999.8,1722.9L1003.3,1716.1L1006.9,1709.4L1010.7,1702.7L1014.7,1696L1018.8,1689.4L1023.1,1682.8L1027.5,1676.4L1032,1669.9L1036.7,1663.5L1041.6,1657.2L1046.6,1650.9L1051.7,1644.7L1057,1638.6L1062.5,1632.5L1068,1626.5L1073.7,1620.5L1079.6,1614.7L1085.5,1608.9L1091.6,1603.1L1097.9,1597.5L1104.3,1591.9L1110.8,1586.4" fill="none" stroke="#8595B4" stroke-width="15.5" stroke-linecap="round"/>
<path d="M993.3,1736.6L996.5,1729.7L999.8,1722.9L1003.3,1716.1L1006.9,1709.4L1010.7,1702.7L1014.7,1696L1018.8,1689.4L1023.1,1682.8L1027.5,1676.4L1032,1669.9L1036.7,1663.5L1041.6,1657.2L1046.6,1650.9L1051.7,1644.7L1057,1638.6L1062.5,1632.5L1068,1626.5L1073.7,1620.5L1079.6,1614.7L1085.5,1608.9L1091.6,1603.1L1097.9,1597.5L1104.3,1591.9L1110.8,1586.4" fill="none" stroke="#C2D0E8" stroke-width="8.9" stroke-linecap="round"/>
<path d="M1180.1,1537.4L1187.9,1532.8L1195.9,1528.3L1204,1523.8L1212.2,1519.5L1220.5,1515.2L1228.9,1511.1L1237.4,1507.1L1245.9,1503.1L1254.6,1499.3L1263.3,1495.6L1272.2,1492L1281.1,1488.5L1290.1,1485.1L1299.2,1481.9L1308.4,1478.7L1317.6,1475.7L1326.9,1472.7L1336.3,1469.9L1345.7,1467.2L1355.2,1464.6L1364.7,1462.2L1374.3,1459.8L1384,1457.6L1393.7,1455.5" fill="none" stroke="#8595B4" stroke-width="15.5" stroke-linecap="round"/>
<path d="M1180.1,1537.4L1187.9,1532.8L1195.9,1528.3L1204,1523.8L1212.2,1519.5L1220.5,1515.2L1228.9,1511.1L1237.4,1507.1L1245.9,1503.1L1254.6,1499.3L1263.3,1495.6L1272.2,1492L1281.1,1488.5L1290.1,1485.1L1299.2,1481.9L1308.4,1478.7L1317.6,1475.7L1326.9,1472.7L1336.3,1469.9L1345.7,1467.2L1355.2,1464.6L1364.7,1462.2L1374.3,1459.8L1384,1457.6L1393.7,1455.5" fill="none" stroke="#C2D0E8" stroke-width="8.9" stroke-linecap="round"/>
<path d="M1486.1,1441.8L1496.2,1440.9L1506.2,1440.2L1516.3,1439.6L1526.4,1439.1L1536.6,1438.8L1546.7,1438.6L1556.8,1438.5L1566.9,1438.5L1577.1,1438.7L1587.2,1439L1597.3,1439.4L1607.4,1439.9L1617.5,1440.6L1627.5,1441.4L1637.6,1442.3L1647.6,1443.3L1657.6,1444.5L1667.6,1445.8L1677.5,1447.2L1687.4,1448.7L1697.3,1450.3L1707.1,1452.1L1716.9,1454L1726.7,1456" fill="none" stroke="#8595B4" stroke-width="15.5" stroke-linecap="round"/>
<path d="M1486.1,1441.8L1496.2,1440.9L1506.2,1440.2L1516.3,1439.6L1526.4,1439.1L1536.6,1438.8L1546.7,1438.6L1556.8,1438.5L1566.9,1438.5L1577.1,1438.7L1587.2,1439L1597.3,1439.4L1607.4,1439.9L1617.5,1440.6L1627.5,1441.4L1637.6,1442.3L1647.6,1443.3L1657.6,1444.5L1667.6,1445.8L1677.5,1447.2L1687.4,1448.7L1697.3,1450.3L1707.1,1452.1L1716.9,1454L1726.7,1456" fill="none" stroke="#C2D0E8" stroke-width="8.9" stroke-linecap="round"/>
<path d="M1812.4,1479.7L1821.6,1482.9L1830.7,1486.2L1839.7,1489.6L1848.7,1493.1L1857.5,1496.8L1866.3,1500.6L1874.9,1504.4L1883.5,1508.4L1892,1512.5L1900.4,1516.7L1908.7,1521L1916.9,1525.4L1924.9,1529.9L1932.9,1534.5L1940.8,1539.1L1948.5,1543.9L1956.2,1548.8L1963.7,1553.8L1971.1,1558.9L1978.4,1564L1985.5,1569.3L1992.6,1574.6L1999.5,1580.1L2006.2,1585.6" fill="none" stroke="#8595B4" stroke-width="15.5" stroke-linecap="round"/>
<path d="M1812.4,1479.7L1821.6,1482.9L1830.7,1486.2L1839.7,1489.6L1848.7,1493.1L1857.5,1496.8L1866.3,1500.6L1874.9,1504.4L1883.5,1508.4L1892,1512.5L1900.4,1516.7L1908.7,1521L1916.9,1525.4L1924.9,1529.9L1932.9,1534.5L1940.8,1539.1L1948.5,1543.9L1956.2,1548.8L1963.7,1553.8L1971.1,1558.9L1978.4,1564L1985.5,1569.3L1992.6,1574.6L1999.5,1580.1L2006.2,1585.6" fill="none" stroke="#C2D0E8" stroke-width="8.9" stroke-linecap="round"/>
<path d="M2061.9,1639.6L2067.1,1645.7L2072.2,1651.9L2077.1,1658.1L2081.9,1664.4L2086.6,1670.8L2091.1,1677.2L2095.4,1683.6L2099.6,1690.1L2103.7,1696.7L2107.6,1703.3L2111.4,1709.9L2115,1716.6L2118.4,1723.4L2121.7,1730.1L2124.9,1737L2127.8,1743.8L2130.7,1750.7L2133.3,1757.6L2135.8,1764.6L2138.2,1771.6L2140.4,1778.6L2142.4,1785.6L2144.3,1792.7L2146,1799.7" fill="none" stroke="#8595B4" stroke-width="18" stroke-linecap="round"/>
<path d="M2061.9,1639.6L2067.1,1645.7L2072.2,1651.9L2077.1,1658.1L2081.9,1664.4L2086.6,1670.8L2091.1,1677.2L2095.4,1683.6L2099.6,1690.1L2103.7,1696.7L2107.6,1703.3L2111.4,1709.9L2115,1716.6L2118.4,1723.4L2121.7,1730.1L2124.9,1737L2127.8,1743.8L2130.7,1750.7L2133.3,1757.6L2135.8,1764.6L2138.2,1771.6L2140.4,1778.6L2142.4,1785.6L2144.3,1792.7L2146,1799.7" fill="none" stroke="#C2D0E8" stroke-width="11.4" stroke-linecap="round"/>
<ellipse cx="1669.8" cy="1336.8" rx="23.4" ry="17.7" transform="rotate(28 1669.8 1336.8)" fill="none" stroke="#8699BF" stroke-width="6"/>
<ellipse cx="1669.8" cy="1336.8" rx="23.4" ry="17.7" transform="rotate(28 1669.8 1336.8)" fill="none" stroke="#CBD9F0" stroke-width="3.2"/>
<ellipse cx="1986.1" cy="1437.2" rx="25.8" ry="20.2" transform="rotate(30 1986.1 1437.2)" fill="none" stroke="#8699BF" stroke-width="6"/>
<ellipse cx="1986.1" cy="1437.2" rx="25.8" ry="20.2" transform="rotate(30 1986.1 1437.2)" fill="none" stroke="#CBD9F0" stroke-width="3.2"/>
<ellipse cx="2083.3" cy="1464.2" rx="10.3" ry="10.3" transform="rotate(0 2083.3 1464.2)" fill="none" stroke="#8699BF" stroke-width="6"/>
<ellipse cx="2083.3" cy="1464.2" rx="10.3" ry="10.3" transform="rotate(0 2083.3 1464.2)" fill="none" stroke="#CBD9F0" stroke-width="3.2"/>
<path d="M1609,1410.6C1609,1406.9 1609.5,1403.4 1616.9,1400.7C1624.4,1398.1 1641.5,1395.9 1653.8,1394.6C1666.1,1393.3 1680.1,1393 1690.7,1392.9C1701.4,1392.7 1711.7,1394.4 1717.8,1393.9C1724,1393.3 1726.8,1391.5 1727.7,1389.7C1728.5,1387.9 1726.2,1385.3 1722.7,1383C1719.3,1380.8 1710.8,1379.1 1706.7,1376.1C1702.6,1373.1 1698.3,1368.1 1698.1,1365.1C1697.9,1362.1 1700.6,1359.4 1705.5,1358.2C1710.4,1356.9 1717.8,1356.9 1727.7,1357.7C1737.5,1358.4 1754.3,1360.7 1764.6,1362.6C1774.8,1364.5 1783.3,1368.1 1789.2,1369.2C1795.1,1370.4 1798,1370.5 1799.8,1369.2C1801.5,1368 1801.5,1365.2 1799.8,1361.9C1798.1,1358.5 1791.9,1353.2 1789.7,1349.1C1787.5,1344.9 1786.1,1340.5 1786.7,1336.8C1787.4,1333.1 1789.9,1329 1793.6,1326.9C1797.3,1324.9 1803.1,1323.8 1808.9,1324.5C1814.7,1325.1 1822.9,1326.9 1828.6,1330.6C1834.2,1334.3 1840,1341.5 1842.8,1346.6C1845.7,1351.7 1846.5,1357.3 1845.8,1361.4C1845.1,1365.5 1841.4,1368.7 1838.9,1371.2C1836.4,1373.8 1831.1,1374.4 1831,1376.6C1830.9,1378.9 1831,1380.9 1838.4,1384.8C1845.8,1388.6 1863,1395 1875.3,1399.5C1887.6,1404 1902.7,1408.7 1912.2,1411.8C1921.8,1414.9 1927.1,1415 1932.4,1418C1937.8,1421 1942.1,1425.8 1944.2,1429.8C1946.4,1433.8 1947,1439.1 1945.5,1442.1C1943.9,1445.1 1939.2,1447.8 1934.9,1448C1930.6,1448.2 1926.3,1445.9 1919.6,1443.1C1913,1440.2 1906.5,1435.7 1895,1430.8C1883.5,1425.9 1866.3,1419 1850.7,1413.5C1835.1,1408.1 1814.6,1402.1 1801.5,1398.3C1788.4,1394.5 1779.1,1392.5 1772,1390.9C1764.8,1389.3 1761.1,1388 1758.4,1388.4C1755.7,1388.9 1754.3,1391.2 1755.7,1393.4C1757.2,1395.5 1763,1398.7 1767,1401.2C1771.1,1403.8 1777.3,1405.8 1779.8,1408.6C1782.4,1411.4 1783.5,1415.4 1782.3,1418C1781.1,1420.6 1779.5,1423.5 1772.5,1424.1C1765.4,1424.8 1753.6,1422.7 1740,1421.9C1726.4,1421.1 1705.1,1419.2 1690.7,1419.2C1676.4,1419.2 1664.1,1420.6 1653.8,1421.7C1643.6,1422.8 1635.4,1425.6 1629.2,1425.9C1623.1,1426.1 1620.3,1425.4 1616.9,1422.9C1613.6,1420.4 1609,1414.3 1609,1410.6Z" fill="none" stroke="#8699BF" stroke-width="6" stroke-linecap="round"/>
<path d="M1609,1410.6C1609,1406.9 1609.5,1403.4 1616.9,1400.7C1624.4,1398.1 1641.5,1395.9 1653.8,1394.6C1666.1,1393.3 1680.1,1393 1690.7,1392.9C1701.4,1392.7 1711.7,1394.4 1717.8,1393.9C1724,1393.3 1726.8,1391.5 1727.7,1389.7C1728.5,1387.9 1726.2,1385.3 1722.7,1383C1719.3,1380.8 1710.8,1379.1 1706.7,1376.1C1702.6,1373.1 1698.3,1368.1 1698.1,1365.1C1697.9,1362.1 1700.6,1359.4 1705.5,1358.2C1710.4,1356.9 1717.8,1356.9 1727.7,1357.7C1737.5,1358.4 1754.3,1360.7 1764.6,1362.6C1774.8,1364.5 1783.3,1368.1 1789.2,1369.2C1795.1,1370.4 1798,1370.5 1799.8,1369.2C1801.5,1368 1801.5,1365.2 1799.8,1361.9C1798.1,1358.5 1791.9,1353.2 1789.7,1349.1C1787.5,1344.9 1786.1,1340.5 1786.7,1336.8C1787.4,1333.1 1789.9,1329 1793.6,1326.9C1797.3,1324.9 1803.1,1323.8 1808.9,1324.5C1814.7,1325.1 1822.9,1326.9 1828.6,1330.6C1834.2,1334.3 1840,1341.5 1842.8,1346.6C1845.7,1351.7 1846.5,1357.3 1845.8,1361.4C1845.1,1365.5 1841.4,1368.7 1838.9,1371.2C1836.4,1373.8 1831.1,1374.4 1831,1376.6C1830.9,1378.9 1831,1380.9 1838.4,1384.8C1845.8,1388.6 1863,1395 1875.3,1399.5C1887.6,1404 1902.7,1408.7 1912.2,1411.8C1921.8,1414.9 1927.1,1415 1932.4,1418C1937.8,1421 1942.1,1425.8 1944.2,1429.8C1946.4,1433.8 1947,1439.1 1945.5,1442.1C1943.9,1445.1 1939.2,1447.8 1934.9,1448C1930.6,1448.2 1926.3,1445.9 1919.6,1443.1C1913,1440.2 1906.5,1435.7 1895,1430.8C1883.5,1425.9 1866.3,1419 1850.7,1413.5C1835.1,1408.1 1814.6,1402.1 1801.5,1398.3C1788.4,1394.5 1779.1,1392.5 1772,1390.9C1764.8,1389.3 1761.1,1388 1758.4,1388.4C1755.7,1388.9 1754.3,1391.2 1755.7,1393.4C1757.2,1395.5 1763,1398.7 1767,1401.2C1771.1,1403.8 1777.3,1405.8 1779.8,1408.6C1782.4,1411.4 1783.5,1415.4 1782.3,1418C1781.1,1420.6 1779.5,1423.5 1772.5,1424.1C1765.4,1424.8 1753.6,1422.7 1740,1421.9C1726.4,1421.1 1705.1,1419.2 1690.7,1419.2C1676.4,1419.2 1664.1,1420.6 1653.8,1421.7C1643.6,1422.8 1635.4,1425.6 1629.2,1425.9C1623.1,1426.1 1620.3,1425.4 1616.9,1422.9C1613.6,1420.4 1609,1414.3 1609,1410.6Z" fill="none" stroke="#CBD9F0" stroke-width="3.2" stroke-linecap="round"/>
<path d="M1836.4,1431.5C1835.9,1430.3 1832.8,1426.2 1833.5,1424.1C1834.2,1422.1 1837.2,1419.4 1840.9,1419.2C1844.6,1419 1847.8,1419.8 1855.6,1422.9C1863.4,1426 1876.1,1431.7 1887.6,1437.7C1899.1,1443.6 1910.2,1449.4 1924.5,1458.6C1938.9,1467.8 1957.4,1480.5 1973.8,1493C1990.2,1505.5 2008.6,1521.1 2023,1533.6C2037.3,1546.2 2049.2,1557.8 2059.9,1568.1C2070.6,1578.4 2080.1,1589 2087,1595.2C2093.9,1601.3 2098.7,1602.6 2101.3,1605C2103.8,1607.4 2103.2,1609 2102.2,1609.4C2101.3,1609.9 2102.6,1613.4 2095.6,1608C2088.5,1602.5 2074.1,1588.9 2059.9,1576.7C2045.8,1564.5 2029.1,1549.6 2010.7,1534.9C1992.2,1520.1 1967.6,1500.4 1949.2,1488.1C1930.7,1475.8 1916.3,1469 1899.9,1461C1883.5,1453.1 1861.3,1445.5 1850.7,1440.6C1840.1,1435.7 1838.8,1433 1836.4,1431.5" fill="none" stroke="#8699BF" stroke-width="6" stroke-linecap="round"/>
<path d="M1836.4,1431.5C1835.9,1430.3 1832.8,1426.2 1833.5,1424.1C1834.2,1422.1 1837.2,1419.4 1840.9,1419.2C1844.6,1419 1847.8,1419.8 1855.6,1422.9C1863.4,1426 1876.1,1431.7 1887.6,1437.7C1899.1,1443.6 1910.2,1449.4 1924.5,1458.6C1938.9,1467.8 1957.4,1480.5 1973.8,1493C1990.2,1505.5 2008.6,1521.1 2023,1533.6C2037.3,1546.2 2049.2,1557.8 2059.9,1568.1C2070.6,1578.4 2080.1,1589 2087,1595.2C2093.9,1601.3 2098.7,1602.6 2101.3,1605C2103.8,1607.4 2103.2,1609 2102.2,1609.4C2101.3,1609.9 2102.6,1613.4 2095.6,1608C2088.5,1602.5 2074.1,1588.9 2059.9,1576.7C2045.8,1564.5 2029.1,1549.6 2010.7,1534.9C1992.2,1520.1 1967.6,1500.4 1949.2,1488.1C1930.7,1475.8 1916.3,1469 1899.9,1461C1883.5,1453.1 1861.3,1445.5 1850.7,1440.6C1840.1,1435.7 1838.8,1433 1836.4,1431.5" fill="none" stroke="#CBD9F0" stroke-width="3.2" stroke-linecap="round"/>
<path d="M1885.2,1485.7C1886.3,1484.5 1888.4,1479.5 1892.1,1479C1895.8,1478.5 1897.8,1477.8 1907.3,1482.5C1916.8,1487.1 1934,1496.4 1949.2,1507.1C1964.3,1517.7 1984,1534.5 1998.4,1546.4C2012.7,1558.3 2027.2,1571.5 2035.3,1578.4C2043.4,1585.3 2045.5,1585.6 2047.1,1587.8C2048.7,1590 2047.7,1592.1 2045.1,1591.7C2042.6,1591.3 2040.2,1591.6 2031.6,1585.3C2023,1579 2008,1565.6 1993.5,1553.8C1978.9,1542 1959,1525.1 1944.2,1514.4C1929.5,1503.8 1913.8,1494.4 1904.9,1489.8C1895.9,1485.2 1893,1487.4 1890.6,1486.9" fill="none" stroke="#8699BF" stroke-width="6" stroke-linecap="round"/>
<path d="M1885.2,1485.7C1886.3,1484.5 1888.4,1479.5 1892.1,1479C1895.8,1478.5 1897.8,1477.8 1907.3,1482.5C1916.8,1487.1 1934,1496.4 1949.2,1507.1C1964.3,1517.7 1984,1534.5 1998.4,1546.4C2012.7,1558.3 2027.2,1571.5 2035.3,1578.4C2043.4,1585.3 2045.5,1585.6 2047.1,1587.8C2048.7,1590 2047.7,1592.1 2045.1,1591.7C2042.6,1591.3 2040.2,1591.6 2031.6,1585.3C2023,1579 2008,1565.6 1993.5,1553.8C1978.9,1542 1959,1525.1 1944.2,1514.4C1929.5,1503.8 1913.8,1494.4 1904.9,1489.8C1895.9,1485.2 1893,1487.4 1890.6,1486.9" fill="none" stroke="#CBD9F0" stroke-width="3.2" stroke-linecap="round"/>
<path d="M1669.1,1436.7C1673.9,1436.1 1688.4,1434.1 1698.1,1433.2C1707.9,1432.4 1714.5,1430.9 1727.7,1431.8C1740.8,1432.6 1760.5,1434.6 1776.9,1438.2C1793.3,1441.7 1813.8,1448.8 1826.1,1452.9C1838.4,1457 1844.6,1459.5 1850.7,1462.8C1856.8,1466 1860.3,1470.2 1862.5,1472.6C1864.8,1475 1864,1476.3 1864.3,1477" fill="none" stroke="#8699BF" stroke-width="6" stroke-linecap="round"/>
<path d="M1669.1,1436.7C1673.9,1436.1 1688.4,1434.1 1698.1,1433.2C1707.9,1432.4 1714.5,1430.9 1727.7,1431.8C1740.8,1432.6 1760.5,1434.6 1776.9,1438.2C1793.3,1441.7 1813.8,1448.8 1826.1,1452.9C1838.4,1457 1844.6,1459.5 1850.7,1462.8C1856.8,1466 1860.3,1470.2 1862.5,1472.6C1864.8,1475 1864,1476.3 1864.3,1477" fill="none" stroke="#CBD9F0" stroke-width="3.2" stroke-linecap="round"/>
<path d="M2013.1,1512.7C2012.3,1510.7 2008.1,1503.7 2008.2,1500.4C2008.3,1497.1 2011.2,1494.4 2013.6,1493C2016.1,1491.7 2019.4,1491.2 2023,1492.3C2026.6,1493.4 2031.2,1496.5 2035.3,1499.7C2039.4,1502.9 2043.9,1508.9 2047.6,1511.5C2051.3,1514.1 2055.5,1516 2057.4,1515.2C2059.4,1514.4 2059.6,1509.4 2059.4,1506.6C2059.2,1503.7 2055.9,1500.4 2056.5,1498C2057,1495.5 2059.8,1492.9 2062.9,1491.8C2065.9,1490.7 2070.2,1489.7 2074.7,1491.3C2079.1,1493 2085.7,1498.3 2089.4,1501.7C2093.2,1505 2095.8,1508.5 2097.3,1511.5C2098.9,1514.4 2099.7,1516.9 2098.8,1519.4C2097.9,1521.8 2095.8,1524.9 2091.9,1526.3C2088,1527.6 2078.9,1526.5 2075.2,1527.5C2071.5,1528.5 2069.4,1529.7 2069.7,1532.4C2070.1,1535.1 2072.6,1538 2077.1,1543.5C2081.6,1549 2089.4,1556.6 2096.8,1565.6C2104.2,1574.7 2113.6,1587.4 2121.4,1597.6C2129.2,1607.9 2137,1617.7 2143.6,1627.2C2150.1,1636.6 2157.9,1649.7 2160.8,1654.2" fill="none" stroke="#8699BF" stroke-width="6" stroke-linecap="round"/>
<path d="M2013.1,1512.7C2012.3,1510.7 2008.1,1503.7 2008.2,1500.4C2008.3,1497.1 2011.2,1494.4 2013.6,1493C2016.1,1491.7 2019.4,1491.2 2023,1492.3C2026.6,1493.4 2031.2,1496.5 2035.3,1499.7C2039.4,1502.9 2043.9,1508.9 2047.6,1511.5C2051.3,1514.1 2055.5,1516 2057.4,1515.2C2059.4,1514.4 2059.6,1509.4 2059.4,1506.6C2059.2,1503.7 2055.9,1500.4 2056.5,1498C2057,1495.5 2059.8,1492.9 2062.9,1491.8C2065.9,1490.7 2070.2,1489.7 2074.7,1491.3C2079.1,1493 2085.7,1498.3 2089.4,1501.7C2093.2,1505 2095.8,1508.5 2097.3,1511.5C2098.9,1514.4 2099.7,1516.9 2098.8,1519.4C2097.9,1521.8 2095.8,1524.9 2091.9,1526.3C2088,1527.6 2078.9,1526.5 2075.2,1527.5C2071.5,1528.5 2069.4,1529.7 2069.7,1532.4C2070.1,1535.1 2072.6,1538 2077.1,1543.5C2081.6,1549 2089.4,1556.6 2096.8,1565.6C2104.2,1574.7 2113.6,1587.4 2121.4,1597.6C2129.2,1607.9 2137,1617.7 2143.6,1627.2C2150.1,1636.6 2157.9,1649.7 2160.8,1654.2" fill="none" stroke="#CBD9F0" stroke-width="3.2" stroke-linecap="round"/>
<path d="M2013.1,1512.7C2016.8,1516.6 2027.5,1528.1 2035.3,1536.1C2043.1,1544.1 2051.7,1552.1 2059.9,1560.7C2068.1,1569.3 2077.6,1580.4 2084.5,1587.8C2091.4,1595.2 2098.5,1602.1 2101.3,1605" fill="none" stroke="#8699BF" stroke-width="6" stroke-linecap="round"/>
<path d="M2013.1,1512.7C2016.8,1516.6 2027.5,1528.1 2035.3,1536.1C2043.1,1544.1 2051.7,1552.1 2059.9,1560.7C2068.1,1569.3 2077.6,1580.4 2084.5,1587.8C2091.4,1595.2 2098.5,1602.1 2101.3,1605" fill="none" stroke="#CBD9F0" stroke-width="3.2" stroke-linecap="round"/>
<path d="M2074.9,1540C2078.7,1543.2 2090.7,1552.3 2097.7,1559C2104.6,1565.6 2111,1573.2 2116.6,1579.9C2122.3,1586.5 2127.7,1592.8 2131.8,1598.8C2135.9,1604.8 2138.8,1610.5 2141.3,1615.9C2143.9,1621.3 2147.3,1627.3 2147,1631.1C2146.7,1634.9 2142.9,1638.1 2139.4,1638.7C2135.9,1639.3 2129.9,1636.2 2126.1,1634.9C2122.3,1633.6 2119,1631.1 2116.6,1631.1C2114.3,1631.1 2111.9,1631.7 2111.9,1634.9C2111.9,1638.1 2113.6,1643.1 2116.6,1650.1C2119.7,1657 2125.8,1668.7 2129.9,1676.6C2134,1684.6 2139.1,1692.5 2141.3,1697.5C2143.5,1702.6 2144.2,1704.6 2143.2,1707C2142.3,1709.4 2138.5,1711.4 2135.6,1711.8C2132.8,1712.1 2127.7,1709.4 2126.1,1708.9" fill="none" stroke="#8699BF" stroke-width="6" stroke-linecap="round"/>
<path d="M2074.9,1540C2078.7,1543.2 2090.7,1552.3 2097.7,1559C2104.6,1565.6 2111,1573.2 2116.6,1579.9C2122.3,1586.5 2127.7,1592.8 2131.8,1598.8C2135.9,1604.8 2138.8,1610.5 2141.3,1615.9C2143.9,1621.3 2147.3,1627.3 2147,1631.1C2146.7,1634.9 2142.9,1638.1 2139.4,1638.7C2135.9,1639.3 2129.9,1636.2 2126.1,1634.9C2122.3,1633.6 2119,1631.1 2116.6,1631.1C2114.3,1631.1 2111.9,1631.7 2111.9,1634.9C2111.9,1638.1 2113.6,1643.1 2116.6,1650.1C2119.7,1657 2125.8,1668.7 2129.9,1676.6C2134,1684.6 2139.1,1692.5 2141.3,1697.5C2143.5,1702.6 2144.2,1704.6 2143.2,1707C2142.3,1709.4 2138.5,1711.4 2135.6,1711.8C2132.8,1712.1 2127.7,1709.4 2126.1,1708.9" fill="none" stroke="#CBD9F0" stroke-width="3.2" stroke-linecap="round"/>
<path d="M2063.5,1619.7C2062.9,1618.9 2059.4,1616.2 2059.7,1615C2060,1613.8 2063.2,1612.3 2065.4,1612.5C2067.6,1612.7 2069.5,1611.9 2073,1615.9C2076.5,1620 2081.5,1628.9 2086.3,1636.8C2091,1644.7 2098.9,1658.9 2101.5,1663.4" fill="none" stroke="#8699BF" stroke-width="6" stroke-linecap="round"/>
<path d="M2063.5,1619.7C2062.9,1618.9 2059.4,1616.2 2059.7,1615C2060,1613.8 2063.2,1612.3 2065.4,1612.5C2067.6,1612.7 2069.5,1611.9 2073,1615.9C2076.5,1620 2081.5,1628.9 2086.3,1636.8C2091,1644.7 2098.9,1658.9 2101.5,1663.4" fill="none" stroke="#CBD9F0" stroke-width="3.2" stroke-linecap="round"/>
<g transform="translate(2103.3 1477) rotate(-50)">
<rect x="-27" y="-10" width="54" height="20" fill="#868686"/>
<path d="M-31,-17.5 C-31,-24.5 -29,-28.5 -20,-28.5 L20,-28.5 C29,-28.5 31,-24.5 31,-17.5 C31,-10.5 29,-6.5 20,-6.5 C8,-9 -8,-9 -20,-6.5 C-29,-6.5 -31,-10.5 -31,-17.5Z" fill="#A6A6A6" stroke="#4A4A4A" stroke-width="1.2"/>
<path d="M-31,17.5 C-31,10.5 -29,6.5 -20,6.5 L20,6.5 C29,6.5 31,10.5 31,17.5 C31,24.5 29,28.5 20,28.5 C8,26 -8,26 -20,28.5 C-29,28.5 -31,24.5 -31,17.5Z" fill="#A6A6A6" stroke="#4A4A4A" stroke-width="1.2"/>
</g>
<line x1="2072" y1="1513.3" x2="2133.7" y2="1439.9" stroke="#222" stroke-width="4.3"/>
<polygon points="2147,1424 2140.6,1448.7 2123.8,1434.5" fill="#222"/>
<line x1="1145.4" y1="1452.8" x2="1145.4" y2="1617" stroke="#454545" stroke-width="6"/>
<polygon points="1145.4,1644 1129.9,1614 1160.9,1614" fill="#454545"/>
<path d="M1377.4,1776 V1673.7 H1548" fill="none" stroke="#20474A" stroke-width="12" stroke-linejoin="round"/>
<polygon points="1586.8,1673.7 1544.8,1695 1544.8,1652.4" fill="#20474A"/>
<g clip-path="url(#dnac)" fill="none" stroke-width="9.2">
<path d="M1065,1779.9L1068,1783.3L1071,1786.2L1074,1788.6L1077,1790.5L1080,1791.6L1083,1791.9L1086,1791.5L1089,1790.3L1092,1788.5L1095.1,1786L1098.1,1783L1101.1,1779.6L1104.1,1775.9L1107.1,1772.2L1110.1,1768.5L1113.1,1765L1116.1,1761.9L1119.1,1759.3L1122.1,1757.3L1125.1,1755.9L1128.1,1755.3L1131.1,1755.5L1134.1,1756.4L1137.1,1758L1140.1,1760.3L1143.1,1763.2L1146.1,1766.4L1149.1,1770L1152.2,1773.7L1155.2,1777.4L1158.2,1781L1161.2,1784.3L1164.2,1787.1L1167.2,1789.3L1170.2,1790.9L1173.2,1791.7L1176.2,1791.8L1179.2,1791.2L1182.2,1789.8L1185.2,1787.7L1188.2,1785.1L1191.2,1781.9L1194.2,1778.4L1197.2,1774.7L1200.2,1771L1203.2,1767.4L1206.2,1764L1209.3,1761L1212.3,1758.6L1215.3,1756.8L1218.3,1755.7L1221.3,1755.3L1224.3,1755.7L1227.3,1756.8L1230.3,1758.7L1233.3,1761.2L1236.3,1764.2L1239.3,1767.5L1242.3,1771.2L1245.3,1774.9L1248.3,1778.6L1251.3,1782.1L1254.3,1785.2L1257.3,1787.8L1260.3,1789.9L1263.3,1791.2L1266.4,1791.9L1269.4,1791.7L1272.4,1790.8L1275.4,1789.2L1278.4,1786.9L1281.4,1784.1L1284.4,1780.8L1287.4,1777.3L1290.4,1773.5L1293.4,1769.8L1296.4,1766.3L1299.4,1763L1302.4,1760.2L1305.4,1757.9L1308.4,1756.3L1311.4,1755.5L1314.4,1755.3L1317.4,1756L1320.4,1757.4L1323.5,1759.4L1326.5,1762.1L1329.5,1765.2L1332.5,1768.7L1335.5,1772.4L1338.5,1776.1L1341.5,1779.8L1344.5,1783.1L1347.5,1786.1L1350.5,1788.6L1353.5,1790.4L1356.5,1791.5L1359.5,1791.9L1362.5,1791.5L1365.5,1790.4L1368.5,1788.5L1371.5,1786.1L1374.5,1783.1L1377.5,1779.7L1380.5,1776.1L1383.6,1772.3L1386.6,1768.7L1389.6,1765.2L1392.6,1762.1L1395.6,1759.4L1398.6,1757.4L1401.6,1756L1404.6,1755.3L1407.6,1755.5L1410.6,1756.4L1413.6,1758L1416.6,1760.2L1419.6,1763L1422.6,1766.3L1425.6,1769.9L1428.6,1773.6L1431.6,1777.3L1434.6,1780.9L1437.6,1784.1L1440.7,1787L1443.7,1789.2L1446.7,1790.8L1449.7,1791.7L1452.7,1791.9L1455.7,1791.2L1458.7,1789.9L1461.7,1787.8L1464.7,1785.2L1467.7,1782.1L1470.7,1778.6L1473.7,1774.9L1476.7,1771.2L1479.7,1767.5L1482.7,1764.1L1485.7,1761.1L1488.7,1758.7L1491.7,1756.8L1494.7,1755.7L1497.8,1755.3L1500.8,1755.7L1503.8,1756.8L1506.8,1758.6L1509.8,1761.1L1512.8,1764L1515.8,1767.4L1518.8,1771L1521.8,1774.8L1524.8,1778.5L1527.8,1782L1530.8,1785.1L1533.8,1787.7L1536.8,1789.8L1539.8,1791.2L1542.8,1791.9L1545.8,1791.7L1548.8,1790.9L1551.8,1789.3L1554.9,1787L1557.9,1784.2L1560.9,1781L1563.9,1777.4L1566.9,1773.7L1569.9,1770L1572.9,1766.4L1575.9,1763.1L1578.9,1760.3L1581.9,1758L1584.9,1756.4L1587.9,1755.5L1590.9,1755.3L1593.9,1755.9L1596.9,1757.3L1599.9,1759.3L1602.9,1762L1605.9,1765.1L1608.9,1768.6L1612,1772.2L1615,1776L1618,1779.6L1621,1783L1624,1786L1627,1788.5L1630,1790.3L1633,1791.5L1636,1791.9L1639,1791.5" stroke="#8592B9"/>
<path d="M1065,1755.4L1068,1755.4L1071,1756.2L1074,1757.7L1077,1759.9L1080,1762.6L1083,1765.8L1086,1769.4L1089,1773.1L1092,1776.8L1095.1,1780.4L1098.1,1783.7L1101.1,1786.6L1104.1,1789L1107.1,1790.7L1110.1,1791.7L1113.1,1791.9L1116.1,1791.4L1119.1,1790.1L1122.1,1788.1L1125.1,1785.6L1128.1,1782.5L1131.1,1779L1134.1,1775.4L1137.1,1771.6L1140.1,1768L1143.1,1764.6L1146.1,1761.5L1149.1,1759L1152.2,1757L1155.2,1755.8L1158.2,1755.3L1161.2,1755.6L1164.2,1756.6L1167.2,1758.3L1170.2,1760.7L1173.2,1763.6L1176.2,1767L1179.2,1770.6L1182.2,1774.3L1185.2,1778L1188.2,1781.5L1191.2,1784.7L1194.2,1787.4L1197.2,1789.6L1200.2,1791.1L1203.2,1791.8L1206.2,1791.8L1209.3,1791L1212.3,1789.5L1215.3,1787.4L1218.3,1784.6L1221.3,1781.4L1224.3,1777.9L1227.3,1774.2L1230.3,1770.5L1233.3,1766.9L1236.3,1763.5L1239.3,1760.6L1242.3,1758.3L1245.3,1756.6L1248.3,1755.6L1251.3,1755.3L1254.3,1755.8L1257.3,1757.1L1260.3,1759L1263.3,1761.6L1266.4,1764.6L1269.4,1768.1L1272.4,1771.7L1275.4,1775.5L1278.4,1779.2L1281.4,1782.6L1284.4,1785.6L1287.4,1788.2L1290.4,1790.1L1293.4,1791.4L1296.4,1791.9L1299.4,1791.6L1302.4,1790.6L1305.4,1788.9L1308.4,1786.5L1311.4,1783.6L1314.4,1780.3L1317.4,1776.7L1320.4,1773L1323.5,1769.3L1326.5,1765.8L1329.5,1762.6L1332.5,1759.8L1335.5,1757.7L1338.5,1756.2L1341.5,1755.4L1344.5,1755.4L1347.5,1756.2L1350.5,1757.6L1353.5,1759.8L1356.5,1762.5L1359.5,1765.7L1362.5,1769.2L1365.5,1772.9L1368.5,1776.7L1371.5,1780.3L1374.5,1783.6L1377.5,1786.5L1380.5,1788.9L1383.6,1790.6L1386.6,1791.6L1389.6,1791.9L1392.6,1791.4L1395.6,1790.1L1398.6,1788.2L1401.6,1785.7L1404.6,1782.6L1407.6,1779.2L1410.6,1775.5L1413.6,1771.8L1416.6,1768.1L1419.6,1764.7L1422.6,1761.6L1425.6,1759.1L1428.6,1757.1L1431.6,1755.8L1434.6,1755.3L1437.6,1755.6L1440.7,1756.5L1443.7,1758.3L1446.7,1760.6L1449.7,1763.5L1452.7,1766.8L1455.7,1770.4L1458.7,1774.1L1461.7,1777.9L1464.7,1781.4L1467.7,1784.6L1470.7,1787.3L1473.7,1789.5L1476.7,1791L1479.7,1791.8L1482.7,1791.8L1485.7,1791.1L1488.7,1789.6L1491.7,1787.5L1494.7,1784.7L1497.8,1781.6L1500.8,1778L1503.8,1774.3L1506.8,1770.6L1509.8,1767L1512.8,1763.7L1515.8,1760.7L1518.8,1758.4L1521.8,1756.6L1524.8,1755.6L1527.8,1755.3L1530.8,1755.8L1533.8,1757L1536.8,1758.9L1539.8,1761.5L1542.8,1764.5L1545.8,1767.9L1548.8,1771.6L1551.8,1775.3L1554.9,1779L1557.9,1782.5L1560.9,1785.5L1563.9,1788.1L1566.9,1790.1L1569.9,1791.3L1572.9,1791.9L1575.9,1791.7L1578.9,1790.7L1581.9,1789L1584.9,1786.6L1587.9,1783.8L1590.9,1780.5L1593.9,1776.9L1596.9,1773.1L1599.9,1769.4L1602.9,1765.9L1605.9,1762.7L1608.9,1759.9L1612,1757.7L1615,1756.2L1618,1755.4L1621,1755.4L1624,1756.1L1627,1757.6L1630,1759.7L1633,1762.4L1636,1765.6L1639,1769.1" stroke="#656E94"/>
<path d="M942.6,1755.5L945.7,1755.4L948.9,1756.1L952,1757.6L955.1,1759.8L958.3,1762.7L961.4,1766L964.5,1769.7L967.7,1773.6L970.8,1777.5L973.9,1781.2L977,1784.5L980.2,1787.4L983.3,1789.6L986.4,1791.1L989.6,1791.8L992.7,1791.7" stroke="#8592B9"/>
<path d="M972.2,1755.5L975.3,1755.4L978.5,1756.1L981.6,1757.6L984.7,1759.8L987.9,1762.7L991,1766L994.1,1769.7L997.2,1773.6L1000.4,1777.5L1003.5,1781.2L1006.6,1784.5L1009.8,1787.4L1012.9,1789.6L1016,1791.1L1019.2,1791.8L1022.3,1791.7" stroke="#656E94"/>
<path d="M1034.8,1755.5L1037.9,1755.4L1041.1,1756.1L1044.2,1757.6L1047.3,1759.8L1050.5,1762.7L1053.6,1766L1056.7,1769.7L1059.8,1773.6L1063,1777.5L1066.1,1781.2L1069.2,1784.5L1072.4,1787.4L1075.5,1789.6L1078.6,1791.1L1081.8,1791.8L1084.9,1791.7" stroke="#8592B9"/>
<path d="M1064.4,1755.5L1067.5,1755.4L1070.7,1756.1L1073.8,1757.6L1076.9,1759.8L1080.1,1762.7L1083.2,1766L1086.3,1769.7L1089.4,1773.6L1092.6,1777.5L1095.7,1781.2L1098.8,1784.5L1102,1787.4L1105.1,1789.6L1108.2,1791.1L1111.4,1791.8L1114.5,1791.7" stroke="#656E94"/>
<path d="M1127,1755.5L1130.1,1755.4L1133.3,1756.1L1136.4,1757.6L1139.5,1759.8L1142.7,1762.7L1145.8,1766L1148.9,1769.7L1152,1773.6L1155.2,1777.5L1158.3,1781.2L1161.4,1784.5L1164.6,1787.4L1167.7,1789.6L1170.8,1791.1L1174,1791.8L1177.1,1791.7" stroke="#8592B9"/>
<path d="M1156.6,1755.5L1159.7,1755.4L1162.9,1756.1L1166,1757.6L1169.1,1759.8L1172.3,1762.7L1175.4,1766L1178.5,1769.7L1181.6,1773.6L1184.8,1777.5L1187.9,1781.2L1191,1784.5L1194.2,1787.4L1197.3,1789.6L1200.4,1791.1L1203.6,1791.8L1206.7,1791.7" stroke="#656E94"/>
<path d="M1219.2,1755.5L1222.3,1755.4L1225.5,1756.1L1228.6,1757.6L1231.7,1759.8L1234.9,1762.7L1238,1766L1241.1,1769.7L1244.2,1773.6L1247.4,1777.5L1250.5,1781.2L1253.6,1784.5L1256.8,1787.4L1259.9,1789.6L1263,1791.1L1266.2,1791.8L1269.3,1791.7" stroke="#8592B9"/>
<path d="M1248.8,1755.5L1251.9,1755.4L1255.1,1756.1L1258.2,1757.6L1261.3,1759.8L1264.5,1762.7L1267.6,1766L1270.7,1769.7L1273.8,1773.6L1277,1777.5L1280.1,1781.2L1283.2,1784.5L1286.4,1787.4L1289.5,1789.6L1292.6,1791.1L1295.8,1791.8L1298.9,1791.7" stroke="#656E94"/>
<path d="M1311.4,1755.5L1314.5,1755.4L1317.7,1756.1L1320.8,1757.6L1323.9,1759.8L1327.1,1762.7L1330.2,1766L1333.3,1769.7L1336.5,1773.6L1339.6,1777.5L1342.7,1781.2L1345.8,1784.5L1349,1787.4L1352.1,1789.6L1355.2,1791.1L1358.4,1791.8L1361.5,1791.7" stroke="#8592B9"/>
<path d="M1341,1755.5L1344.1,1755.4L1347.3,1756.1L1350.4,1757.6L1353.5,1759.8L1356.7,1762.7L1359.8,1766L1362.9,1769.7L1366,1773.6L1369.2,1777.5L1372.3,1781.2L1375.4,1784.5L1378.6,1787.4L1381.7,1789.6L1384.8,1791.1L1388,1791.8L1391.1,1791.7" stroke="#656E94"/>
<path d="M1403.6,1755.5L1406.7,1755.4L1409.9,1756.1L1413,1757.6L1416.1,1759.8L1419.3,1762.7L1422.4,1766L1425.5,1769.7L1428.6,1773.6L1431.8,1777.5L1434.9,1781.2L1438,1784.5L1441.2,1787.4L1444.3,1789.6L1447.4,1791.1L1450.6,1791.8L1453.7,1791.7" stroke="#8592B9"/>
<path d="M1433.2,1755.5L1436.3,1755.4L1439.5,1756.1L1442.6,1757.6L1445.7,1759.8L1448.9,1762.7L1452,1766L1455.1,1769.7L1458.2,1773.6L1461.4,1777.5L1464.5,1781.2L1467.6,1784.5L1470.8,1787.4L1473.9,1789.6L1477,1791.1L1480.2,1791.8L1483.3,1791.7" stroke="#656E94"/>
<path d="M1495.8,1755.5L1498.9,1755.4L1502.1,1756.1L1505.2,1757.6L1508.3,1759.8L1511.5,1762.7L1514.6,1766L1517.7,1769.7L1520.8,1773.6L1524,1777.5L1527.1,1781.2L1530.2,1784.5L1533.4,1787.4L1536.5,1789.6L1539.6,1791.1L1542.8,1791.8L1545.9,1791.7" stroke="#8592B9"/>
<path d="M1525.4,1755.5L1528.5,1755.4L1531.7,1756.1L1534.8,1757.6L1537.9,1759.8L1541.1,1762.7L1544.2,1766L1547.3,1769.7L1550.4,1773.6L1553.6,1777.5L1556.7,1781.2L1559.8,1784.5L1563,1787.4L1566.1,1789.6L1569.2,1791.1L1572.4,1791.8L1575.5,1791.7" stroke="#656E94"/>
<path d="M1588,1755.5L1591.1,1755.4L1594.3,1756.1L1597.4,1757.6L1600.5,1759.8L1603.7,1762.7L1606.8,1766L1609.9,1769.7L1613,1773.6L1616.2,1777.5L1619.3,1781.2L1622.4,1784.5L1625.6,1787.4L1628.7,1789.6L1631.8,1791.1L1635,1791.8L1638.1,1791.7" stroke="#8592B9"/>
<path d="M1617.6,1755.5L1620.7,1755.4L1623.9,1756.1L1627,1757.6L1630.1,1759.8L1633.3,1762.7L1636.4,1766L1639.5,1769.7L1642.6,1773.6L1645.8,1777.5L1648.9,1781.2L1652,1784.5L1655.2,1787.4L1658.3,1789.6L1661.4,1791.1L1664.6,1791.8L1667.7,1791.7" stroke="#656E94"/>
<path d="M1680.2,1755.5L1683.3,1755.4L1686.5,1756.1L1689.6,1757.6L1692.7,1759.8L1695.9,1762.7L1699,1766L1702.1,1769.7L1705.2,1773.6L1708.4,1777.5L1711.5,1781.2L1714.6,1784.5L1717.8,1787.4L1720.9,1789.6L1724,1791.1L1727.2,1791.8L1730.3,1791.7" stroke="#8592B9"/>
<path d="M1709.8,1755.5L1712.9,1755.4L1716.1,1756.1L1719.2,1757.6L1722.3,1759.8L1725.5,1762.7L1728.6,1766L1731.7,1769.7L1734.8,1773.6L1738,1777.5L1741.1,1781.2L1744.2,1784.5L1747.4,1787.4L1750.5,1789.6L1753.6,1791.1L1756.8,1791.8L1759.9,1791.7" stroke="#656E94"/>
</g>
<text x="1603.2" y="1687" font-size="40.5" textLength="308.1" lengthAdjust="spacingAndGlyphs">Gene expression</text>
<rect x="1125" y="1669" width="188" height="84.7" rx="42.4" fill="#808080" stroke="#1E1E1E" stroke-width="4.2"/>
<text x="1171.3" y="1723" font-size="38" textLength="98.2" lengthAdjust="spacingAndGlyphs" fill="#fff">CREB</text>
<circle cx="1325.6" cy="1675.3" r="32.8" fill="#FFE566" stroke="#9A5B3F" stroke-width="5"/>
<text x="1312" y="1687.8" font-size="37" textLength="28.5" lengthAdjust="spacingAndGlyphs">P</text>
<text x="975" y="1705" font-size="37" textLength="177.5" lengthAdjust="spacingAndGlyphs" fill="#6E6E6E" transform="rotate(-52 975 1705)">Cytoplasm</text>
<text x="1039" y="1745" font-size="37" textLength="128" lengthAdjust="spacingAndGlyphs" fill="#6E6E6E" transform="rotate(-54.2 1039 1745)">Nuclear</text>
<text x="2112.2" y="1606.2" font-size="37" textLength="218" lengthAdjust="spacingAndGlyphs" fill="#6E6E6E" transform="rotate(53 2112.2 1606.2)">Endoplasmic</text>
<text x="2114.6" y="1682.2" font-size="37" textLength="156" lengthAdjust="spacingAndGlyphs" fill="#6E6E6E" transform="rotate(51.5 2114.6 1682.2)">reticulum</text>
</g>
<g clip-path="url(#clipc)">
<path d="M404.5,1458.6L385,1476.7M401.9,1455.6L380.9,1471.8M359.8,1495.6L380.4,1479M358,1493.5L377.8,1475.9M414.8,1472.4L393.7,1488.5M412.5,1469.1L390.1,1483.3M366.8,1505L388.9,1490.4M365.2,1502.7L386.7,1487.1M423.8,1487.1L401.3,1501.1M421.8,1483.6L398.1,1495.6M372.9,1515L396.3,1502.5M371.6,1512.6L394.4,1499.1M431.3,1502.6L407.6,1514.4M429.7,1498.9L405,1508.6M378.1,1525.5L402.5,1515.3M376.9,1523L400.9,1511.7M437.4,1518.7L412.6,1528.2M436.1,1514.9L410.6,1522.2M382.1,1536.5L407.5,1528.7M381.3,1533.8L406.2,1524.9M441.8,1535.4L416.3,1542.5M440.9,1531.5L414.9,1536.2M385.2,1547.8L411.1,1542.4M384.6,1545.1L410.2,1538.5M444.7,1552.4L418.6,1557M444.2,1548.4L417.8,1550.7M387.1,1559.3L413.5,1556.5M386.8,1556.6L413,1552.5M446,1569.5L419.5,1571.7M445.8,1565.5L419.3,1565.3M388,1571L414.5,1570.7M387.9,1568.2L414.3,1566.7M445.6,1586.8L419,1586.4M445.8,1582.8L419.4,1580M387.7,1582.7L414.1,1584.9M387.9,1579.9L414.4,1580.9M443.5,1603.9L417.2,1601M444.1,1599.9L418.1,1594.6M386.3,1594.3L412.4,1599M386.7,1591.6L413,1595.1M439.9,1620.7L413.9,1615.3M440.9,1616.8L415.5,1609.1M383.8,1605.8L409.4,1612.9M384.5,1603.1L410.4,1609M434.7,1637.1L409.3,1629.3M436,1633.3L411.5,1623.3M380.3,1616.9L405,1626.5M381.2,1614.3L406.4,1622.7M427.9,1653L403.4,1642.7M429.6,1649.3L406.1,1637M375.7,1627.7L399.4,1639.5M376.9,1625.2L401.1,1635.9M419.6,1668.1L396.2,1655.6M421.7,1664.6L399.5,1650.1M370.1,1638L392.6,1652M371.5,1635.6L394.6,1648.6M410,1682.4L387.9,1667.7M412.4,1679.1L391.7,1662.5M363.5,1647.7L384.6,1663.8M365.2,1645.4L386.9,1660.5M399,1695.6L378.4,1679M401.7,1692.7L382.7,1674.2M356.1,1656.7L375.5,1674.7M357.9,1654.6L378.1,1671.7M386.9,1707.8L367.9,1689.3M389.8,1705.1L372.6,1684.9M347.8,1665L365.4,1684.8M349.8,1663.1L368.3,1682.1M373.6,1718.8L356.5,1698.5M376.8,1716.4L361.6,1694.6M338.8,1672.4L354.4,1693.8M341,1670.7L357.6,1691.4M359.3,1728.5L344.3,1706.7M362.7,1726.4L349.7,1703.3M329.1,1679L342.6,1701.8M331.4,1677.5L346,1699.7M344.2,1736.7L331.3,1713.6M347.8,1735L337,1710.7M318.8,1684.6L330.1,1708.6M321.3,1683.4L333.7,1706.8M328.4,1743.5L317.7,1719.3M332.1,1742.1L323.7,1717M308,1689.2L317,1714.2M310.7,1688.2L320.8,1712.7M312,1748.8L303.7,1723.6M315.8,1747.7L309.8,1721.9M296.9,1692.8L303.5,1718.5M299.6,1692L307.3,1717.4M295.2,1752.5L289.3,1726.6M299.1,1751.8L295.6,1725.5M285.5,1695.3L289.6,1721.5M288.2,1694.8L293.5,1720.8M278.1,1754.5L274.7,1728.2M282.1,1754.2L281,1727.7M273.8,1696.7L275.4,1723.1M276.6,1696.5L279.4,1722.8M260.8,1755L260,1728.5M264.8,1755L266.4,1728.5M262.1,1697L261.2,1723.5M264.9,1697L265.2,1723.5M243.7,1753.7L245.3,1727.3M247.6,1754.2L251.7,1728M250.5,1696.1L247,1722.4M253.2,1696.4L251,1722.9M226.7,1750.9L230.8,1724.7M230.6,1751.7L237.1,1726M238.9,1694.2L233,1720M241.7,1694.8L236.9,1720.9M210,1746.5L216.7,1720.8M213.9,1747.6L222.8,1722.7M227.6,1691.2L219.3,1716.3M230.3,1692L223.1,1717.5M193.9,1740.5L202.9,1715.5M197.6,1742L208.8,1718M216.6,1687.1L205.9,1711.4M219.2,1688.2L209.6,1712.9M178.4,1732.9L189.7,1709M181.9,1734.8L195.4,1712M206.1,1682L193.2,1705.1M208.6,1683.3L196.7,1707M163.7,1724L177.3,1701.2M167,1726.2L182.6,1704.7M196.1,1675.9L181,1697.7M198.4,1677.4L184.4,1699.9M149.9,1713.7L165.6,1692.3M153,1716.2L170.5,1696.3M186.7,1668.9L169.6,1689.2M188.9,1670.7L172.8,1691.7M137.1,1702.1L154.8,1682.3M140,1704.9L159.3,1686.8M178.1,1661L159.1,1679.6M180.1,1663L162,1682.4M-56.7,1225.6L-37.7,1244.1M-59.6,1228.3L-42.4,1248.5M-17.6,1268.4L-35.2,1248.6M-19.6,1270.3L-38.1,1251.3M-43.4,1214.6L-26.3,1234.9M-46.6,1217L-31.4,1238.8M-8.6,1261L-24.2,1239.6M-10.8,1262.7L-27.4,1242M-29.1,1204.9L-14.1,1226.7M-32.5,1207L-19.5,1230.1M1.1,1254.4L-12.4,1231.6M-1.2,1255.9L-15.8,1233.7M-14,1196.7L-1.1,1219.8M-17.6,1198.4L-6.8,1222.7M11.4,1248.8L0.1,1224.8M8.9,1250L-3.5,1226.6M1.8,1189.9L12.5,1214.1M-1.9,1191.3L6.5,1216.4M22.2,1244.2L13.2,1219.2M19.5,1245.2L9.4,1220.7M18.2,1184.6L26.5,1209.8M14.4,1185.7L20.4,1211.5M33.3,1240.6L26.7,1214.9M30.6,1241.4L22.9,1216M35,1180.9L40.9,1206.8M31.1,1181.6L34.6,1207.9M44.7,1238.1L40.6,1211.9M42,1238.6L36.7,1212.6M52.1,1178.9L55.5,1205.2M48.1,1179.2L49.2,1205.7M56.4,1236.7L54.8,1210.3M53.6,1236.9L50.8,1210.6M69.4,1178.4L70.2,1204.9M65.4,1178.4L63.8,1204.9M68.1,1236.4L69,1209.9M65.3,1236.4L65,1209.9M86.5,1179.7L84.9,1206.1M82.6,1179.2L78.5,1205.4M79.7,1237.3L83.2,1211M77,1237L79.2,1210.5M103.5,1182.5L99.4,1208.7M99.6,1181.7L93.1,1207.4M91.3,1239.2L97.2,1213.4M88.5,1238.6L93.3,1212.5M120.2,1186.9L113.5,1212.6M116.3,1185.8L107.4,1210.7M102.6,1242.2L110.9,1217.1M99.9,1241.4L107.1,1215.9M136.3,1192.9L127.3,1217.9M132.6,1191.4L121.4,1215.4M113.6,1246.3L124.3,1222M111,1245.2L120.6,1220.5M151.8,1200.5L140.5,1224.4M148.3,1198.6L134.8,1221.4M124.1,1251.4L137,1228.3M121.6,1250.1L133.5,1226.4M166.5,1209.4L152.9,1232.2M163.2,1207.2L147.6,1228.7M134.1,1257.5L149.2,1235.7M131.8,1256L145.8,1233.5M180.3,1219.7L164.6,1241.1M177.2,1217.2L159.7,1237.1M143.5,1264.5L160.6,1244.2M141.3,1262.7L157.4,1241.7M193.1,1231.3L175.4,1251.1M190.2,1228.5L170.9,1246.6M152.1,1272.4L171.1,1253.8M150.1,1270.4L168.2,1251M203.9,1242.7L185.3,1261.7M201.4,1240.1L181.2,1257.3M161.4,1282.3L181.7,1265.1M159,1279.6L177.6,1260.7M213.9,1253.5L195.3,1272.4M211.4,1250.8L191.2,1268M171.4,1293L191.6,1275.8M169,1290.4L187.6,1271.4M-53.5,1497.5L-34.9,1478.6M-51.1,1500.1L-30.8,1483M-11.1,1458L-31.3,1475.2M-8.6,1460.6L-27.2,1479.6M223.9,1264.2L205.3,1283.1M221.4,1261.6L201.2,1278.8M181.4,1303.7L201.6,1286.5M179,1301.1L197.5,1282.2M-43.5,1508.2L-24.9,1489.3M-41.1,1510.9L-20.9,1493.7M-1.1,1468.7L-21.3,1485.9M1.4,1471.4L-17.2,1490.3M233.9,1274.9L215.3,1293.9M231.4,1272.3L211.2,1289.5M191.4,1314.5L211.6,1297.3M189,1311.8L207.5,1292.9M-33.5,1519L-15,1500M-31.1,1521.6L-10.9,1504.4M8.9,1479.5L-11.3,1496.6M11.4,1482.1L-7.2,1501M243.9,1285.7L225.3,1304.6M241.4,1283L221.2,1300.2M201.4,1325.2L221.6,1308M199,1322.6L217.5,1303.6M-23.5,1529.7L-5,1510.8M-21.1,1532.3L-0.9,1515.2M18.9,1490.2L-1.3,1507.4M21.4,1492.8L2.8,1511.8M253.8,1296.4L235.3,1315.3M251.4,1293.8L231.2,1310.9M211.4,1335.9L231.6,1318.7M208.9,1333.3L227.5,1314.3M-13.6,1540.4L5,1521.5M-11.1,1543.1L9.1,1525.9M28.9,1500.9L8.7,1518.1M31.3,1503.5L12.8,1522.5M263.8,1307.1L245.3,1326.1M261.4,1304.5L241.2,1321.7M221.4,1346.6L241.6,1329.5M218.9,1344L237.5,1325.1M-3.6,1551.2L15,1532.2M-1.1,1553.8L19.1,1536.6M38.9,1511.6L18.7,1528.8M41.3,1514.3L22.8,1533.2M273.8,1317.9L255.2,1336.8M271.4,1315.2L251.2,1332.4M231.4,1357.4L251.6,1340.2M228.9,1354.7L247.5,1335.8M6.4,1561.9L25,1543M8.9,1564.5L29.1,1547.3M48.9,1522.4L28.7,1539.6M51.3,1525L32.8,1543.9M283.8,1328.6L265.2,1347.5M281.4,1326L261.1,1343.1M241.4,1368.1L261.6,1350.9M238.9,1365.5L257.5,1346.5M16.4,1572.6L35,1553.7M18.9,1575.3L39.1,1558.1M58.9,1533.1L38.7,1550.3M61.3,1535.7L42.7,1554.7M293.8,1339.3L275.2,1358.3M291.4,1336.7L271.1,1353.9M251.4,1378.8L271.6,1361.7M248.9,1376.2L267.5,1357.3M26.4,1583.4L45,1564.4M28.9,1586L49.1,1568.8M68.9,1543.8L48.6,1561M71.3,1546.5L52.7,1565.4M303.8,1350L285.2,1369M301.3,1347.4L281.1,1364.6M261.3,1389.6L281.6,1372.4M258.9,1386.9L277.5,1368M36.4,1594.1L55,1575.1M38.8,1596.7L59.1,1579.5M78.8,1554.6L58.6,1571.7M81.3,1557.2L62.7,1576.1M313.8,1360.8L295.2,1379.7M311.3,1358.1L291.1,1375.3M271.3,1400.3L291.5,1383.1M268.9,1397.7L287.5,1378.7M46.4,1604.8L65,1585.9M48.8,1607.4L69.1,1590.3M88.8,1565.3L68.6,1582.5M91.3,1567.9L72.7,1586.9M323.8,1371.5L305.2,1390.4M321.3,1368.9L301.1,1386.1M281.3,1411L301.5,1393.8M278.9,1408.4L297.4,1389.5M56.4,1615.5L75,1596.6M58.8,1618.2L79,1601M98.8,1576L78.6,1593.2M101.3,1578.7L82.7,1597.6M333.8,1382.2L315.2,1401.2M331.3,1379.6L311.1,1396.8M291.3,1421.8L311.5,1404.6M288.9,1419.1L307.4,1400.2M66.4,1626.3L84.9,1607.3M68.8,1628.9L89,1611.7M108.8,1586.8L88.6,1603.9M111.3,1589.4L92.7,1608.3M343.8,1393L325.2,1411.9M341.3,1390.3L321.1,1407.5M301.3,1432.5L321.5,1415.3M298.9,1429.9L317.4,1410.9M76.4,1637L94.9,1618.1M78.8,1639.6L99,1622.5M118.8,1597.5L98.6,1614.7M121.3,1600.1L102.7,1619.1M353.7,1403.7L335.2,1422.6M351.3,1401.1L331.1,1418.2M311.3,1443.2L331.5,1426M308.8,1440.6L327.4,1421.6M86.3,1647.7L104.9,1628.8M88.8,1650.4L109,1633.2M128.8,1608.2L108.6,1625.4M131.2,1610.8L112.7,1629.8M363.7,1414.4L345.2,1433.4M361.3,1411.8L341.1,1429M321.3,1453.9L341.5,1436.8M318.8,1451.3L337.4,1432.4M96.3,1658.5L114.9,1639.5M98.8,1661.1L119,1643.9M138.8,1618.9L118.6,1636.1M141.2,1621.6L122.7,1640.5M373.7,1425.2L355.1,1444.1M371.3,1422.5L351.1,1439.7M331.3,1464.7L351.5,1447.5M328.8,1462L347.4,1443.1M106.3,1669.2L124.9,1650.3M108.8,1671.8L129,1654.6M148.8,1629.7L128.6,1646.9M151.2,1632.3L132.7,1651.2M383.7,1435.9L365.1,1454.8M381.3,1433.3L361,1450.4M341.3,1475.4L361.5,1458.2M338.8,1472.8L357.4,1453.8M116.3,1679.9L134.9,1661M118.8,1682.6L139,1665.4M158.8,1640.4L138.6,1657.6M161.2,1643L142.6,1662M393.7,1446.6L375.1,1465.6M391.3,1444L371,1461.2M351.3,1486.1L371.5,1469M348.8,1483.5L367.4,1464.6M126.3,1690.7L144.9,1671.7M128.8,1693.3L149,1676.1M168.8,1651.1L148.5,1668.3M171.2,1653.8L152.6,1672.7" fill="none" stroke="#C3D3EA" stroke-width="1.7"/>
<g fill="#8D9DB6"><ellipse cx="406.2" cy="1454.5" rx="8.3" ry="6.8" transform="rotate(49.8 406.2 1454.5)"/><ellipse cx="355.9" cy="1497.1" rx="5.4" ry="6.6" transform="rotate(49.8 355.9 1497.1)"/><ellipse cx="417" cy="1468.5" rx="8.3" ry="6.8" transform="rotate(55.2 417 1468.5)"/><ellipse cx="362.7" cy="1506.1" rx="5.4" ry="6.6" transform="rotate(55.2 362.7 1506.1)"/><ellipse cx="426.3" cy="1483.4" rx="8.3" ry="6.8" transform="rotate(60.7 426.3 1483.4)"/><ellipse cx="368.8" cy="1515.7" rx="5.4" ry="6.6" transform="rotate(60.7 368.8 1515.7)"/><ellipse cx="434.2" cy="1499.2" rx="8.3" ry="6.8" transform="rotate(66.1 434.2 1499.2)"/><ellipse cx="373.8" cy="1525.9" rx="5.4" ry="6.6" transform="rotate(66.1 373.8 1525.9)"/><ellipse cx="440.5" cy="1515.6" rx="8.3" ry="6.8" transform="rotate(71.6 440.5 1515.6)"/><ellipse cx="377.9" cy="1536.4" rx="5.4" ry="6.6" transform="rotate(71.6 377.9 1536.4)"/><ellipse cx="445.3" cy="1532.5" rx="8.3" ry="6.8" transform="rotate(77 445.3 1532.5)"/><ellipse cx="381" cy="1547.3" rx="5.4" ry="6.6" transform="rotate(77 381 1547.3)"/><ellipse cx="448.4" cy="1549.9" rx="8.3" ry="6.8" transform="rotate(82.5 448.4 1549.9)"/><ellipse cx="383" cy="1558.5" rx="5.4" ry="6.6" transform="rotate(82.5 383 1558.5)"/><ellipse cx="449.9" cy="1567.4" rx="8.3" ry="6.8" transform="rotate(88 449.9 1567.4)"/><ellipse cx="383.9" cy="1569.8" rx="5.4" ry="6.6" transform="rotate(88 383.9 1569.8)"/><ellipse cx="449.7" cy="1585" rx="8.3" ry="6.8" transform="rotate(93.4 449.7 1585)"/><ellipse cx="383.8" cy="1581.1" rx="5.4" ry="6.6" transform="rotate(93.4 383.8 1581.1)"/><ellipse cx="447.8" cy="1602.5" rx="8.3" ry="6.8" transform="rotate(98.9 447.8 1602.5)"/><ellipse cx="382.6" cy="1592.3" rx="5.4" ry="6.6" transform="rotate(98.9 382.6 1592.3)"/><ellipse cx="444.3" cy="1619.8" rx="8.3" ry="6.8" transform="rotate(104.3 444.3 1619.8)"/><ellipse cx="380.3" cy="1603.4" rx="5.4" ry="6.6" transform="rotate(104.3 380.3 1603.4)"/><ellipse cx="439.1" cy="1636.6" rx="8.3" ry="6.8" transform="rotate(109.8 439.1 1636.6)"/><ellipse cx="377" cy="1614.3" rx="5.4" ry="6.6" transform="rotate(109.8 377 1614.3)"/><ellipse cx="432.4" cy="1652.8" rx="8.3" ry="6.8" transform="rotate(115.2 432.4 1652.8)"/><ellipse cx="372.7" cy="1624.7" rx="5.4" ry="6.6" transform="rotate(115.2 372.7 1624.7)"/><ellipse cx="424.1" cy="1668.4" rx="8.3" ry="6.8" transform="rotate(120.7 424.1 1668.4)"/><ellipse cx="367.3" cy="1634.7" rx="5.4" ry="6.6" transform="rotate(120.7 367.3 1634.7)"/><ellipse cx="414.4" cy="1683.1" rx="8.3" ry="6.8" transform="rotate(126.1 414.4 1683.1)"/><ellipse cx="361.1" cy="1644.2" rx="5.4" ry="6.6" transform="rotate(126.1 361.1 1644.2)"/><ellipse cx="403.4" cy="1696.8" rx="8.3" ry="6.8" transform="rotate(131.6 403.4 1696.8)"/><ellipse cx="354" cy="1653" rx="5.4" ry="6.6" transform="rotate(131.6 354 1653)"/><ellipse cx="391.1" cy="1709.4" rx="8.3" ry="6.8" transform="rotate(137 391.1 1709.4)"/><ellipse cx="346.1" cy="1661.1" rx="5.4" ry="6.6" transform="rotate(137 346.1 1661.1)"/><ellipse cx="377.6" cy="1720.8" rx="8.3" ry="6.8" transform="rotate(142.5 377.6 1720.8)"/><ellipse cx="337.4" cy="1668.4" rx="5.4" ry="6.6" transform="rotate(142.5 337.4 1668.4)"/><ellipse cx="363.2" cy="1730.8" rx="8.3" ry="6.8" transform="rotate(148 363.2 1730.8)"/><ellipse cx="328.1" cy="1674.9" rx="5.4" ry="6.6" transform="rotate(148 328.1 1674.9)"/><ellipse cx="347.8" cy="1739.4" rx="8.3" ry="6.8" transform="rotate(153.4 347.8 1739.4)"/><ellipse cx="318.3" cy="1680.4" rx="5.4" ry="6.6" transform="rotate(153.4 318.3 1680.4)"/><ellipse cx="331.7" cy="1746.6" rx="8.3" ry="6.8" transform="rotate(158.9 331.7 1746.6)"/><ellipse cx="307.9" cy="1685" rx="5.4" ry="6.6" transform="rotate(158.9 307.9 1685)"/><ellipse cx="315" cy="1752.1" rx="8.3" ry="6.8" transform="rotate(164.3 315 1752.1)"/><ellipse cx="297.2" cy="1688.6" rx="5.4" ry="6.6" transform="rotate(164.3 297.2 1688.6)"/><ellipse cx="297.8" cy="1756.1" rx="8.3" ry="6.8" transform="rotate(169.8 297.8 1756.1)"/><ellipse cx="286.1" cy="1691.1" rx="5.4" ry="6.6" transform="rotate(169.8 286.1 1691.1)"/><ellipse cx="280.4" cy="1758.4" rx="8.3" ry="6.8" transform="rotate(175.2 280.4 1758.4)"/><ellipse cx="274.9" cy="1692.6" rx="5.4" ry="6.6" transform="rotate(175.2 274.9 1692.6)"/><ellipse cx="262.8" cy="1759" rx="8.3" ry="6.8" transform="rotate(-179.3 262.8 1759)"/><ellipse cx="263.6" cy="1693" rx="5.4" ry="6.6" transform="rotate(-179.3 263.6 1693)"/><ellipse cx="245.2" cy="1757.9" rx="8.3" ry="6.8" transform="rotate(-173.9 245.2 1757.9)"/><ellipse cx="252.3" cy="1692.3" rx="5.4" ry="6.6" transform="rotate(-173.9 252.3 1692.3)"/><ellipse cx="227.8" cy="1755.2" rx="8.3" ry="6.8" transform="rotate(-168.4 227.8 1755.2)"/><ellipse cx="241.1" cy="1690.6" rx="5.4" ry="6.6" transform="rotate(-168.4 241.1 1690.6)"/><ellipse cx="210.8" cy="1750.9" rx="8.3" ry="6.8" transform="rotate(-163 210.8 1750.9)"/><ellipse cx="230.1" cy="1687.8" rx="5.4" ry="6.6" transform="rotate(-163 230.1 1687.8)"/><ellipse cx="194.2" cy="1744.9" rx="8.3" ry="6.8" transform="rotate(-157.5 194.2 1744.9)"/><ellipse cx="219.5" cy="1683.9" rx="5.4" ry="6.6" transform="rotate(-157.5 219.5 1683.9)"/><ellipse cx="178.3" cy="1737.4" rx="8.3" ry="6.8" transform="rotate(-152 178.3 1737.4)"/><ellipse cx="209.2" cy="1679.1" rx="5.4" ry="6.6" transform="rotate(-152 209.2 1679.1)"/><ellipse cx="163.1" cy="1728.4" rx="8.3" ry="6.8" transform="rotate(-146.6 163.1 1728.4)"/><ellipse cx="199.5" cy="1673.3" rx="5.4" ry="6.6" transform="rotate(-146.6 199.5 1673.3)"/><ellipse cx="148.9" cy="1718" rx="8.3" ry="6.8" transform="rotate(-141.1 148.9 1718)"/><ellipse cx="190.3" cy="1666.7" rx="5.4" ry="6.6" transform="rotate(-141.1 190.3 1666.7)"/><ellipse cx="135.8" cy="1706.4" rx="8.3" ry="6.8" transform="rotate(-135.7 135.8 1706.4)"/><ellipse cx="181.9" cy="1659.1" rx="5.4" ry="6.6" transform="rotate(-135.7 181.9 1659.1)"/><ellipse cx="-60.9" cy="1224" rx="8.3" ry="6.8" transform="rotate(-43 -60.9 1224)"/><ellipse cx="-15.9" cy="1272.3" rx="5.4" ry="6.6" transform="rotate(-43 -15.9 1272.3)"/><ellipse cx="-47.4" cy="1212.6" rx="8.3" ry="6.8" transform="rotate(-37.5 -47.4 1212.6)"/><ellipse cx="-7.2" cy="1265" rx="5.4" ry="6.6" transform="rotate(-37.5 -7.2 1265)"/><ellipse cx="-33" cy="1202.6" rx="8.3" ry="6.8" transform="rotate(-32 -33 1202.6)"/><ellipse cx="2.1" cy="1258.5" rx="5.4" ry="6.6" transform="rotate(-32 2.1 1258.5)"/><ellipse cx="-17.6" cy="1194" rx="8.3" ry="6.8" transform="rotate(-26.6 -17.6 1194)"/><ellipse cx="11.9" cy="1253" rx="5.4" ry="6.6" transform="rotate(-26.6 11.9 1253)"/><ellipse cx="-1.5" cy="1186.8" rx="8.3" ry="6.8" transform="rotate(-21.1 -1.5 1186.8)"/><ellipse cx="22.3" cy="1248.4" rx="5.4" ry="6.6" transform="rotate(-21.1 22.3 1248.4)"/><ellipse cx="15.2" cy="1181.3" rx="8.3" ry="6.8" transform="rotate(-15.7 15.2 1181.3)"/><ellipse cx="33" cy="1244.8" rx="5.4" ry="6.6" transform="rotate(-15.7 33 1244.8)"/><ellipse cx="32.4" cy="1177.3" rx="8.3" ry="6.8" transform="rotate(-10.2 32.4 1177.3)"/><ellipse cx="44.1" cy="1242.3" rx="5.4" ry="6.6" transform="rotate(-10.2 44.1 1242.3)"/><ellipse cx="49.8" cy="1175" rx="8.3" ry="6.8" transform="rotate(-4.8 49.8 1175)"/><ellipse cx="55.3" cy="1240.8" rx="5.4" ry="6.6" transform="rotate(-4.8 55.3 1240.8)"/><ellipse cx="67.4" cy="1174.4" rx="8.3" ry="6.8" transform="rotate(0.7 67.4 1174.4)"/><ellipse cx="66.6" cy="1240.4" rx="5.4" ry="6.6" transform="rotate(0.7 66.6 1240.4)"/><ellipse cx="85" cy="1175.5" rx="8.3" ry="6.8" transform="rotate(6.1 85 1175.5)"/><ellipse cx="77.9" cy="1241.1" rx="5.4" ry="6.6" transform="rotate(6.1 77.9 1241.1)"/><ellipse cx="102.4" cy="1178.2" rx="8.3" ry="6.8" transform="rotate(11.6 102.4 1178.2)"/><ellipse cx="89.1" cy="1242.8" rx="5.4" ry="6.6" transform="rotate(11.6 89.1 1242.8)"/><ellipse cx="119.4" cy="1182.5" rx="8.3" ry="6.8" transform="rotate(17 119.4 1182.5)"/><ellipse cx="100.1" cy="1245.6" rx="5.4" ry="6.6" transform="rotate(17 100.1 1245.6)"/><ellipse cx="136" cy="1188.5" rx="8.3" ry="6.8" transform="rotate(22.5 136 1188.5)"/><ellipse cx="110.7" cy="1249.5" rx="5.4" ry="6.6" transform="rotate(22.5 110.7 1249.5)"/><ellipse cx="151.9" cy="1196" rx="8.3" ry="6.8" transform="rotate(28 151.9 1196)"/><ellipse cx="121" cy="1254.3" rx="5.4" ry="6.6" transform="rotate(28 121 1254.3)"/><ellipse cx="167.1" cy="1205" rx="8.3" ry="6.8" transform="rotate(33.4 167.1 1205)"/><ellipse cx="130.7" cy="1260.1" rx="5.4" ry="6.6" transform="rotate(33.4 130.7 1260.1)"/><ellipse cx="181.3" cy="1215.4" rx="8.3" ry="6.8" transform="rotate(38.9 181.3 1215.4)"/><ellipse cx="139.9" cy="1266.7" rx="5.4" ry="6.6" transform="rotate(38.9 139.9 1266.7)"/><ellipse cx="194.4" cy="1227" rx="8.3" ry="6.8" transform="rotate(44.3 194.4 1227)"/><ellipse cx="148.3" cy="1274.3" rx="5.4" ry="6.6" transform="rotate(44.3 148.3 1274.3)"/><ellipse cx="205.6" cy="1238.7" rx="6.6" ry="6.6" transform="rotate(47 205.6 1238.7)"/><ellipse cx="157.3" cy="1283.7" rx="6.6" ry="6.6" transform="rotate(47 157.3 1283.7)"/><ellipse cx="215.6" cy="1249.4" rx="6.6" ry="6.6" transform="rotate(47 215.6 1249.4)"/><ellipse cx="167.3" cy="1294.4" rx="6.6" ry="6.6" transform="rotate(47 167.3 1294.4)"/><ellipse cx="-55.2" cy="1501.6" rx="6.6" ry="6.6" transform="rotate(-133 -55.2 1501.6)"/><ellipse cx="-6.9" cy="1456.6" rx="6.6" ry="6.6" transform="rotate(-133 -6.9 1456.6)"/><ellipse cx="225.6" cy="1260.2" rx="6.6" ry="6.6" transform="rotate(47 225.6 1260.2)"/><ellipse cx="177.3" cy="1305.1" rx="6.6" ry="6.6" transform="rotate(47 177.3 1305.1)"/><ellipse cx="-45.2" cy="1512.3" rx="6.6" ry="6.6" transform="rotate(-133 -45.2 1512.3)"/><ellipse cx="3.1" cy="1467.3" rx="6.6" ry="6.6" transform="rotate(-133 3.1 1467.3)"/><ellipse cx="235.6" cy="1270.9" rx="6.6" ry="6.6" transform="rotate(47 235.6 1270.9)"/><ellipse cx="187.3" cy="1315.9" rx="6.6" ry="6.6" transform="rotate(47 187.3 1315.9)"/><ellipse cx="-35.2" cy="1523" rx="6.6" ry="6.6" transform="rotate(-133 -35.2 1523)"/><ellipse cx="13.1" cy="1478" rx="6.6" ry="6.6" transform="rotate(-133 13.1 1478)"/><ellipse cx="245.6" cy="1281.6" rx="6.6" ry="6.6" transform="rotate(47 245.6 1281.6)"/><ellipse cx="197.3" cy="1326.6" rx="6.6" ry="6.6" transform="rotate(47 197.3 1326.6)"/><ellipse cx="-25.2" cy="1533.7" rx="6.6" ry="6.6" transform="rotate(-133 -25.2 1533.7)"/><ellipse cx="23.1" cy="1488.8" rx="6.6" ry="6.6" transform="rotate(-133 23.1 1488.8)"/><ellipse cx="255.5" cy="1292.4" rx="6.6" ry="6.6" transform="rotate(47 255.5 1292.4)"/><ellipse cx="207.2" cy="1337.3" rx="6.6" ry="6.6" transform="rotate(47 207.2 1337.3)"/><ellipse cx="-15.3" cy="1544.5" rx="6.6" ry="6.6" transform="rotate(-133 -15.3 1544.5)"/><ellipse cx="33" cy="1499.5" rx="6.6" ry="6.6" transform="rotate(-133 33 1499.5)"/><ellipse cx="265.5" cy="1303.1" rx="6.6" ry="6.6" transform="rotate(47 265.5 1303.1)"/><ellipse cx="217.2" cy="1348.1" rx="6.6" ry="6.6" transform="rotate(47 217.2 1348.1)"/><ellipse cx="-5.3" cy="1555.2" rx="6.6" ry="6.6" transform="rotate(-133 -5.3 1555.2)"/><ellipse cx="43" cy="1510.2" rx="6.6" ry="6.6" transform="rotate(-133 43 1510.2)"/><ellipse cx="275.5" cy="1313.8" rx="6.6" ry="6.6" transform="rotate(47 275.5 1313.8)"/><ellipse cx="227.2" cy="1358.8" rx="6.6" ry="6.6" transform="rotate(47 227.2 1358.8)"/><ellipse cx="4.7" cy="1565.9" rx="6.6" ry="6.6" transform="rotate(-133 4.7 1565.9)"/><ellipse cx="53" cy="1521" rx="6.6" ry="6.6" transform="rotate(-133 53 1521)"/><ellipse cx="285.5" cy="1324.5" rx="6.6" ry="6.6" transform="rotate(47 285.5 1324.5)"/><ellipse cx="237.2" cy="1369.5" rx="6.6" ry="6.6" transform="rotate(47 237.2 1369.5)"/><ellipse cx="14.7" cy="1576.7" rx="6.6" ry="6.6" transform="rotate(-133 14.7 1576.7)"/><ellipse cx="63" cy="1531.7" rx="6.6" ry="6.6" transform="rotate(-133 63 1531.7)"/><ellipse cx="295.5" cy="1335.3" rx="6.6" ry="6.6" transform="rotate(47 295.5 1335.3)"/><ellipse cx="247.2" cy="1380.2" rx="6.6" ry="6.6" transform="rotate(47 247.2 1380.2)"/><ellipse cx="24.7" cy="1587.4" rx="6.6" ry="6.6" transform="rotate(-133 24.7 1587.4)"/><ellipse cx="73" cy="1542.4" rx="6.6" ry="6.6" transform="rotate(-133 73 1542.4)"/><ellipse cx="305.5" cy="1346" rx="6.6" ry="6.6" transform="rotate(47 305.5 1346)"/><ellipse cx="257.2" cy="1391" rx="6.6" ry="6.6" transform="rotate(47 257.2 1391)"/><ellipse cx="34.7" cy="1598.1" rx="6.6" ry="6.6" transform="rotate(-133 34.7 1598.1)"/><ellipse cx="83" cy="1553.2" rx="6.6" ry="6.6" transform="rotate(-133 83 1553.2)"/><ellipse cx="315.5" cy="1356.7" rx="6.6" ry="6.6" transform="rotate(47 315.5 1356.7)"/><ellipse cx="267.2" cy="1401.7" rx="6.6" ry="6.6" transform="rotate(47 267.2 1401.7)"/><ellipse cx="44.7" cy="1608.9" rx="6.6" ry="6.6" transform="rotate(-133 44.7 1608.9)"/><ellipse cx="93" cy="1563.9" rx="6.6" ry="6.6" transform="rotate(-133 93 1563.9)"/><ellipse cx="325.5" cy="1367.5" rx="6.6" ry="6.6" transform="rotate(47 325.5 1367.5)"/><ellipse cx="277.2" cy="1412.4" rx="6.6" ry="6.6" transform="rotate(47 277.2 1412.4)"/><ellipse cx="54.7" cy="1619.6" rx="6.6" ry="6.6" transform="rotate(-133 54.7 1619.6)"/><ellipse cx="103" cy="1574.6" rx="6.6" ry="6.6" transform="rotate(-133 103 1574.6)"/><ellipse cx="335.5" cy="1378.2" rx="6.6" ry="6.6" transform="rotate(47 335.5 1378.2)"/><ellipse cx="287.2" cy="1423.2" rx="6.6" ry="6.6" transform="rotate(47 287.2 1423.2)"/><ellipse cx="64.7" cy="1630.3" rx="6.6" ry="6.6" transform="rotate(-133 64.7 1630.3)"/><ellipse cx="113" cy="1585.3" rx="6.6" ry="6.6" transform="rotate(-133 113 1585.3)"/><ellipse cx="345.5" cy="1388.9" rx="6.6" ry="6.6" transform="rotate(47 345.5 1388.9)"/><ellipse cx="297.2" cy="1433.9" rx="6.6" ry="6.6" transform="rotate(47 297.2 1433.9)"/><ellipse cx="74.7" cy="1641" rx="6.6" ry="6.6" transform="rotate(-133 74.7 1641)"/><ellipse cx="123" cy="1596.1" rx="6.6" ry="6.6" transform="rotate(-133 123 1596.1)"/><ellipse cx="355.4" cy="1399.7" rx="6.6" ry="6.6" transform="rotate(47 355.4 1399.7)"/><ellipse cx="307.1" cy="1444.6" rx="6.6" ry="6.6" transform="rotate(47 307.1 1444.6)"/><ellipse cx="84.6" cy="1651.8" rx="6.6" ry="6.6" transform="rotate(-133 84.6 1651.8)"/><ellipse cx="132.9" cy="1606.8" rx="6.6" ry="6.6" transform="rotate(-133 132.9 1606.8)"/><ellipse cx="365.4" cy="1410.4" rx="6.6" ry="6.6" transform="rotate(47 365.4 1410.4)"/><ellipse cx="317.1" cy="1455.4" rx="6.6" ry="6.6" transform="rotate(47 317.1 1455.4)"/><ellipse cx="94.6" cy="1662.5" rx="6.6" ry="6.6" transform="rotate(-133 94.6 1662.5)"/><ellipse cx="142.9" cy="1617.5" rx="6.6" ry="6.6" transform="rotate(-133 142.9 1617.5)"/><ellipse cx="375.4" cy="1421.1" rx="6.6" ry="6.6" transform="rotate(47 375.4 1421.1)"/><ellipse cx="327.1" cy="1466.1" rx="6.6" ry="6.6" transform="rotate(47 327.1 1466.1)"/><ellipse cx="104.6" cy="1673.2" rx="6.6" ry="6.6" transform="rotate(-133 104.6 1673.2)"/><ellipse cx="152.9" cy="1628.3" rx="6.6" ry="6.6" transform="rotate(-133 152.9 1628.3)"/><ellipse cx="385.4" cy="1431.8" rx="6.6" ry="6.6" transform="rotate(47 385.4 1431.8)"/><ellipse cx="337.1" cy="1476.8" rx="6.6" ry="6.6" transform="rotate(47 337.1 1476.8)"/><ellipse cx="114.6" cy="1684" rx="6.6" ry="6.6" transform="rotate(-133 114.6 1684)"/><ellipse cx="162.9" cy="1639" rx="6.6" ry="6.6" transform="rotate(-133 162.9 1639)"/><ellipse cx="395.4" cy="1442.6" rx="6.6" ry="6.6" transform="rotate(47 395.4 1442.6)"/><ellipse cx="347.1" cy="1487.5" rx="6.6" ry="6.6" transform="rotate(47 347.1 1487.5)"/><ellipse cx="124.6" cy="1694.7" rx="6.6" ry="6.6" transform="rotate(-133 124.6 1694.7)"/><ellipse cx="172.9" cy="1649.7" rx="6.6" ry="6.6" transform="rotate(-133 172.9 1649.7)"/></g>
<text x="67.8" y="1496.3" font-size="37" textLength="180" lengthAdjust="spacingAndGlyphs" fill="#6E6E6E" transform="rotate(47.2 67.8 1496.3)">Endosome</text>
<text x="94" y="1440.3" font-size="39.5" textLength="83.5" lengthAdjust="spacingAndGlyphs">PTH</text>
<path d="M238.9,1244.4C238,1240.7 236.6,1228.7 233.3,1222.2C230.1,1215.7 221.8,1212 219.4,1205.6C217.1,1199.1 220.8,1189.4 219.4,1183.3C218.1,1177.3 213.8,1173.2 211.1,1169.4C208.4,1165.6 204.6,1162 203.3,1160.6" fill="none" stroke="#6A3838" stroke-width="3.8" stroke-linecap="round"/>
<path d="M255.6,1244.4C256.9,1240.7 261.6,1231 263.9,1222.2C266.2,1213.4 267.1,1203.2 269.4,1191.7C271.8,1180.1 273.1,1161.8 277.8,1152.8C282.4,1143.8 290.7,1138 297.2,1137.5C303.7,1137 311.1,1144.2 316.7,1150C322.2,1155.8 325,1165.3 330.6,1172.2C336.1,1179.2 344.4,1185.4 350,1191.7C355.6,1197.9 361.6,1206.7 363.9,1209.7" fill="none" stroke="#6A3838" stroke-width="3.8" stroke-linecap="round"/>
<path d="M266.7,1266.7C269.4,1263 276.9,1250 283.3,1244.4C289.8,1238.9 298.1,1234.7 305.6,1233.3C313,1231.9 322.7,1235.2 327.8,1236.1C332.9,1237 334.7,1238.4 336.1,1238.9" fill="none" stroke="#6A3838" stroke-width="3.8" stroke-linecap="round"/>
<path d="M277.8,1288.9C278.7,1287 280.1,1280.1 283.3,1277.8C286.6,1275.5 293.5,1273.8 297.2,1275C300.9,1276.2 304.2,1283.1 305.6,1284.7" fill="none" stroke="#6A3838" stroke-width="3.8" stroke-linecap="round"/>
<g transform="translate(223 1292) rotate(223) scale(0.93) translate(-846 -743.4)">
<g transform="translate(801.5 667.3) rotate(-4.9)" stroke="#87383A" stroke-width="1.5"><path d="M-9,0L-9,92A9,3.6 0 0 0 9,92L9,0A9,3.6 0 0 0 -9,0Z" fill="#9E4141"/><ellipse rx="9" ry="3.6" fill="#A84646"/></g>
<g transform="translate(825.7 662.7) rotate(-0.9)" stroke="#87383A" stroke-width="1.5"><path d="M-9,0L-9,96.2A9,3.6 0 0 0 9,96.2L9,0A9,3.6 0 0 0 -9,0Z" fill="#9E4141"/><ellipse rx="9" ry="3.6" fill="#A84646"/></g>
<g transform="translate(818.4 672.7) rotate(-0.7)" stroke="#87383A" stroke-width="1.5"><path d="M-9,0L-9,86.3A9,3.6 0 0 0 9,86.3L9,0A9,3.6 0 0 0 -9,0Z" fill="#9E4141"/><ellipse rx="9" ry="3.6" fill="#A84646"/></g>
<g transform="translate(860 667.3) rotate(4.8)" stroke="#87383A" stroke-width="1.5"><path d="M-9,0L-9,105.9A9,3.6 0 0 0 9,105.9L9,0A9,3.6 0 0 0 -9,0Z" fill="#9E4141"/><ellipse rx="9" ry="3.6" fill="#A84646"/></g>
<g transform="translate(883.3 672.7) rotate(3.3)" stroke="#87383A" stroke-width="1.5"><path d="M-9,0L-9,76.5A9,3.6 0 0 0 9,76.5L9,0A9,3.6 0 0 0 -9,0Z" fill="#9E4141"/><ellipse rx="9" ry="3.6" fill="#A84646"/></g>
<g transform="translate(863 686.5) rotate(3.9)" stroke="#87383A" stroke-width="1.5"><path d="M-9,0L-9,86.5A9,3.6 0 0 0 9,86.5L9,0A9,3.6 0 0 0 -9,0Z" fill="#9E4141"/><ellipse rx="9" ry="3.6" fill="#A84646"/></g>
<g transform="translate(891.8 682) rotate(-4.4)" stroke="#87383A" stroke-width="1.5"><path d="M-9.5,0L-9.5,90.1A9.5,3.8 0 0 0 9.5,90.1L9.5,0A9.5,3.8 0 0 0 -9.5,0Z" fill="#A64A4A"/><ellipse rx="9.5" ry="3.8" fill="#B65A5A"/></g>
<g transform="translate(792 684) rotate(-7.6)" stroke="#87383A" stroke-width="1.5"><path d="M-9.2,0L-9.2,94.7A9.2,3.7 0 0 0 9.2,94.7L9.2,0A9.2,3.7 0 0 0 -9.2,0Z" fill="#AC4E4E"/><ellipse rx="9.2" ry="3.7" fill="#B65A5A"/></g>
<g transform="translate(881.3 687.9) rotate(4)" stroke="#87383A" stroke-width="1.5"><path d="M-9.5,0L-9.5,92.1A9.5,3.8 0 0 0 9.5,92.1L9.5,0A9.5,3.8 0 0 0 -9.5,0Z" fill="#AC4E4E"/><ellipse rx="9.5" ry="3.8" fill="#B65A5A"/></g>
<g transform="translate(805.5 687.9) rotate(-0.2)" stroke="#87383A" stroke-width="1.5"><path d="M-9.2,0L-9.2,93.9A9.2,3.7 0 0 0 9.2,93.9L9.2,0A9.2,3.7 0 0 0 -9.2,0Z" fill="#AC4E4E"/><ellipse rx="9.2" ry="3.7" fill="#B65A5A"/></g>
<g transform="translate(829.3 697.1) rotate(-0.2)" stroke="#87383A" stroke-width="1.5"><path d="M-9.2,0L-9.2,91.3A9.2,3.7 0 0 0 9.2,91.3L9.2,0A9.2,3.7 0 0 0 -9.2,0Z" fill="#AC4E4E"/><ellipse rx="9.2" ry="3.7" fill="#B65A5A"/></g>
<g transform="translate(853.5 703) rotate(-0.7)" stroke="#87383A" stroke-width="1.5"><path d="M-9.2,0L-9.2,91.3A9.2,3.7 0 0 0 9.2,91.3L9.2,0A9.2,3.7 0 0 0 -9.2,0Z" fill="#AC4E4E"/><ellipse rx="9.2" ry="3.7" fill="#B65A5A"/></g>
<path d="M799.5,666.7C800.2,664.9 800.8,658.6 803.5,655.8C806.1,653 811.8,650.2 815.4,649.8C819,649.5 823.5,651.7 825.3,653.8C827.1,656 826.1,661.2 826.3,662.7" fill="none" stroke="#6A3838" stroke-width="3.6" stroke-linecap="round"/>
<path d="M790.6,683.2C791.1,681.4 791.1,675.6 793.6,672.7C796.1,669.7 801.7,666.5 805.5,665.7C809.3,664.9 814.2,666.6 816.4,667.7C818.5,668.8 818,671.3 818.4,672.1" fill="none" stroke="#6A3838" stroke-width="3.6" stroke-linecap="round"/>
<path d="M805.5,687.5C805.6,686.2 805,681.5 806.5,679.6C808,677.7 811.6,675.9 814.4,676C817.2,676.2 820.9,677.2 823.3,680.6C825.8,684 828.3,693.8 829.3,696.5" fill="none" stroke="#6A3838" stroke-width="3.6" stroke-linecap="round"/>
<path d="M863,666.7C863.5,664.9 863.7,658.4 866,655.8C868.3,653.1 873.6,650.5 876.9,650.8C880.2,651.2 884.5,654.1 885.8,657.8C887.2,661.4 885,670.2 884.8,672.7" fill="none" stroke="#6A3838" stroke-width="3.6" stroke-linecap="round"/>
<path d="M861,685.2C861.5,683.4 861.7,677.4 864,674.6C866.3,671.9 871.3,669 874.9,668.7C878.6,668.4 883.2,670.6 885.8,672.7C888.5,674.7 890,679.8 890.8,681.2" fill="none" stroke="#6A3838" stroke-width="3.6" stroke-linecap="round"/>
<path d="M853.5,702.4C853.8,700.3 852.8,693.1 855.1,689.5C857.3,686 863,682.4 867,681.2C871,679.9 876.5,680.9 878.9,682C881.3,683 880.9,686.6 881.3,687.5" fill="none" stroke="#6A3838" stroke-width="3.6" stroke-linecap="round"/>
</g>
<polyline points="259.7,1320.8 251.6,1325.7 256.9,1337.3 244.3,1339.9 249.6,1351.6 237,1354.1 242.3,1365.8 229.8,1368.4 230.6,1377.8" fill="none" stroke="#3B1D60" stroke-width="2.2" stroke-linejoin="miter"/>
<polyline points="252.2,1340.3 245,1339.4 246.6,1350.6 236.5,1345.6 238.1,1356.8 227.9,1351.9 229.5,1363.1 219.4,1358.1 218.1,1365.3" fill="none" stroke="#3B1D60" stroke-width="2.2" stroke-linejoin="miter"/>
<path d="M244.4,1301.4C244.7,1298.1 248.4,1295 251.4,1294.4C254.4,1293.8 258.6,1295.7 262.5,1297.8C266.4,1299.9 270.1,1305.4 275,1306.9C279.9,1308.5 286.8,1309 291.7,1306.9C296.5,1304.9 300.7,1299.1 304.2,1294.4C307.6,1289.8 309.5,1282.9 312.5,1279.2C315.5,1275.5 319,1272 322.2,1272.2C325.5,1272.5 328.7,1278.5 331.9,1280.6C335.2,1282.6 338.4,1283.6 341.7,1284.7C344.9,1285.9 347.7,1285 351.4,1287.5C355.1,1290 359.5,1295.6 363.9,1300C368.3,1304.4 372.2,1311.8 377.8,1313.9C383.3,1316 392.2,1310.4 397.2,1312.5C402.2,1314.6 406.4,1321.1 407.8,1326.4C409.2,1331.7 408.7,1339.1 405.6,1344.4C402.4,1349.8 395.4,1356.7 388.9,1358.3C382.4,1360 374.1,1356.9 366.7,1354.2C359.3,1351.4 350.5,1343.3 344.4,1341.7C338.4,1340 334.7,1345.4 330.6,1344.4C326.4,1343.5 322,1339.6 319.4,1336.1C316.9,1332.6 319.4,1324.5 315.3,1323.6C311.1,1322.7 301.6,1330.2 294.4,1330.6C287.3,1330.9 279.6,1328.3 272.2,1325.6C264.8,1322.8 254.6,1317.9 250,1313.9C245.4,1309.9 244.2,1304.6 244.4,1301.4Z" fill="#8C62AC" stroke="#3B1D60" stroke-width="2"/>
<text x="0" y="0" font-size="46" fill="#fff" text-anchor="middle" transform="translate(343.9 1319.4) rotate(112)">α</text>
<path d="M291.7,1218.1C292.4,1214.5 293.5,1210 298.6,1206.9C303.7,1203.9 313.9,1201.2 322.2,1200C330.6,1198.8 341.2,1197.6 348.6,1199.4C356,1201.3 360.9,1205.9 366.7,1211.1C372.5,1216.3 377.4,1225 383.3,1230.6C389.3,1236.1 397.4,1238.4 402.2,1244.4C407.1,1250.5 411,1259.7 412.5,1266.7C414,1273.6 413.6,1280.6 411.1,1286.1C408.7,1291.7 403.7,1297.4 397.8,1300C391.9,1302.6 380.8,1302.6 375.6,1301.7C370.3,1300.7 366.2,1298 366.1,1294.4C366,1290.9 374.8,1284.6 375,1280.6C375.2,1276.5 370.5,1272.3 367.2,1270C364,1267.7 359,1264.9 355.6,1266.7C352.1,1268.4 350.5,1276.4 346.7,1280.6C342.9,1284.7 336.9,1292.1 332.8,1291.7C328.7,1291.2 321.7,1282.9 322.2,1277.8C322.8,1272.7 333.7,1266.7 336.1,1261.1C338.5,1255.6 337.6,1249.4 336.7,1244.4C335.7,1239.4 335.5,1232.4 330.6,1231.1C325.6,1229.8 313,1237.1 306.9,1236.7C300.9,1236.2 297,1231.4 294.4,1228.3C291.9,1225.2 291,1221.6 291.7,1218.1Z" fill="#F7DEB6" stroke="#F3CE93" stroke-width="1.2"/>
<path d="M366.7,1233.3C368.8,1231 377.4,1228.7 383.3,1230.6C389.3,1232.4 397.4,1238.4 402.2,1244.4C407.1,1250.5 411,1259.7 412.5,1266.7C414,1273.6 413.6,1280.6 411.1,1286.1C408.7,1291.7 403.7,1297.4 397.8,1300C391.9,1302.6 377,1303.1 375.6,1301.7C374.1,1300.3 384.4,1295.6 388.9,1291.7C393.4,1287.7 400.9,1282.9 402.8,1277.8C404.6,1272.7 403.2,1264.8 400,1261.1C396.8,1257.4 387.7,1255.1 383.3,1255.6C378.9,1256 376.6,1263.9 373.6,1263.9C370.6,1263.9 365.7,1258.8 365.3,1255.6C364.8,1252.3 370.6,1248.1 370.8,1244.4C371.1,1240.7 364.6,1235.6 366.7,1233.3Z" fill="#FAD59C"/>
<path d="M405.6,1230.6C404.4,1231.9 399.1,1234.7 398.6,1238.9C398.1,1243.1 399.3,1249.1 402.8,1255.6C406.2,1262 413,1270.4 419.4,1277.8C425.9,1285.2 436.5,1293.5 441.7,1300C446.9,1306.5 450.1,1311.8 450.6,1316.7C451,1321.5 448.7,1327.4 444.4,1329.2C440.2,1330.9 431.5,1325.6 425,1327.2C418.5,1328.8 408.8,1336.9 405.6,1338.9" fill="none" stroke="#3A3A3A" stroke-width="4" stroke-linecap="round"/>
<path d="M266.7,1402.8C263.9,1401.4 255.6,1395.1 250,1394.4C244.4,1393.8 236.9,1395.4 233.3,1398.6C229.7,1401.9 228.1,1408.1 228.3,1413.9C228.6,1419.7 234.4,1425.9 234.7,1433.3C235.1,1440.7 230.1,1450.5 230.6,1458.3C231,1466.2 236.3,1476.9 237.5,1480.6" fill="none" stroke="#3A3A3A" stroke-width="4" stroke-linecap="round"/>
<path d="M427.8,1366.7C430.1,1368.5 438.2,1372.2 441.7,1377.8C445.1,1383.3 448.6,1393.1 448.6,1400C448.6,1406.9 444.7,1415.3 441.7,1419.4C438.7,1423.6 432.4,1424.1 430.6,1425" fill="none" stroke="#3A3A3A" stroke-width="4" stroke-linecap="round"/>
<path d="M405.6,1366.7C407.9,1368.1 415.7,1370.4 419.4,1375C423.1,1379.6 426.2,1389.8 427.8,1394.4C429.4,1399.1 428.9,1401.4 429.2,1402.8" fill="none" stroke="#3A3A3A" stroke-width="4" stroke-linecap="round"/>
<g transform="translate(358 1415) rotate(242) scale(0.95) translate(-1380.3 -743.4)">
<g transform="translate(1331.9 671.2) rotate(-11.1)" stroke="#333" stroke-width="1.5"><path d="M-14,0L-14,136.6A14,5.6 0 0 0 14,136.6L14,0A14,5.6 0 0 0 -14,0Z" fill="#575757"/><ellipse rx="14" ry="5.6" fill="#666"/></g>
<g transform="translate(1366.1 661.4) rotate(1.2)" stroke="#333" stroke-width="1.5"><path d="M-13,0L-13,143.9A13,5.2 0 0 0 13,143.9L13,0A13,5.2 0 0 0 -13,0Z" fill="#575757"/><ellipse rx="13" ry="5.2" fill="#666"/></g>
<g transform="translate(1400.4 665.4) rotate(1.2)" stroke="#333" stroke-width="1.5"><path d="M-13,0L-13,140A13,5.2 0 0 0 13,140L13,0A13,5.2 0 0 0 -13,0Z" fill="#575757"/><ellipse rx="13" ry="5.2" fill="#666"/></g>
<g transform="translate(1427.8 674.4) rotate(11)" stroke="#333" stroke-width="1.5"><path d="M-14,0L-14,133.3A14,5.6 0 0 0 14,133.3L14,0A14,5.6 0 0 0 -14,0Z" fill="#575757"/><ellipse rx="14" ry="5.6" fill="#666"/></g>
<g transform="translate(1353.9 677.6) rotate(8.2)" stroke="#333" stroke-width="1.5"><path d="M-14,0L-14,134A14,5.6 0 0 0 14,134L14,0A14,5.6 0 0 0 -14,0Z" fill="#6E6E6E"/><ellipse rx="14" ry="5.6" fill="#7E7E7E"/></g>
<g transform="translate(1408.9 682.2) rotate(-8)" stroke="#333" stroke-width="1.5"><path d="M-14,0L-14,128A14,5.6 0 0 0 14,128L14,0A14,5.6 0 0 0 -14,0Z" fill="#6E6E6E"/><ellipse rx="14" ry="5.6" fill="#7E7E7E"/></g>
<g transform="translate(1382.3 685.4) rotate(1.4)" stroke="#333" stroke-width="1.5"><path d="M-14.2,0L-14.2,128.5A14.2,5.7 0 0 0 14.2,128.5L14.2,0A14.2,5.7 0 0 0 -14.2,0Z" fill="#6E6E6E"/><ellipse rx="14.2" ry="5.7" fill="#7E7E7E"/></g>
<path d="M1332.6,670.7C1332.6,668.7 1330.8,661.6 1332.6,658.5C1334.4,655.4 1340.1,652.4 1343.6,652.4C1347.1,652.4 1351.8,654.4 1353.4,658.5C1355,662.6 1353.4,673.8 1353.4,676.9" fill="none" stroke="#3A3A3A" stroke-width="3.4" stroke-linecap="round"/>
<path d="M1364.4,660.9C1364.8,658.5 1363.8,649.9 1366.9,646.3C1369.9,642.6 1377.5,638.7 1382.8,638.9C1388.1,639.1 1395.6,643.2 1398.7,647.5C1401.7,651.8 1400.7,661.8 1401.1,664.6" fill="none" stroke="#3A3A3A" stroke-width="3.4" stroke-linecap="round"/>
<path d="M1380.3,684.2C1380.5,681.1 1379.1,670 1381.5,665.8C1384,661.7 1390.7,659.2 1395,659.2C1399.3,659.2 1405,662.1 1407.2,665.8C1409.5,669.6 1408.2,679.1 1408.4,681.7" fill="none" stroke="#3A3A3A" stroke-width="3.4" stroke-linecap="round"/>
</g>
<path d="M188.3,1425C190.3,1424.3 197,1419.9 200,1420.8C203,1421.8 205,1425.7 206.1,1430.6C207.3,1435.4 206.1,1444 206.9,1450C207.8,1456 208.1,1463.3 211.1,1466.7C214.1,1470 220.4,1471.9 225,1470C229.6,1468.1 235,1460.3 238.9,1455.6C242.8,1450.8 245.6,1444.7 248.6,1441.7C251.6,1438.7 253.9,1435.9 256.9,1437.5C260,1439.1 263.2,1446.9 266.7,1451.4C270.1,1455.9 274.1,1461.7 277.8,1464.4C281.5,1467.2 285.6,1467.6 288.9,1468.1C292.1,1468.5 295.8,1467.4 297.2,1467.2" fill="none" stroke="#8558A8" stroke-width="5.5" stroke-linecap="round"/>
<text x="170.8" y="1088.7" font-size="40" textLength="176" lengthAdjust="spacingAndGlyphs" transform="rotate(44.5 170.8 1088.7)">β-arrestin</text>
<circle cx="100.1" cy="970.8" r="47" fill="#fff" stroke="#000" stroke-width="6"/>
<text x="100.1" y="984.8" font-size="39" text-anchor="middle">C</text>
</g>
<path d="M376.2,1110.7C376.4,1116.3 376.4,1133 377.7,1144.2C379,1155.5 380.8,1167.6 383.9,1178.4C387,1189.3 390.9,1200.5 396.4,1209.5C401.8,1218.6 408,1227.4 416.6,1232.8C425.1,1238.3 436.3,1241.7 447.7,1242.2C459.1,1242.7 469.7,1240.9 485,1236C500.3,1231 512.8,1224.3 539.4,1212.6C566,1201 612.9,1180 644.6,1165.9C676.3,1151.8 703.5,1140 729.3,1127.8C755.1,1115.6 787.8,1098.5 799.5,1092.6" fill="none" stroke="#757575" stroke-width="5"/>
<polygon points="820.3,1082 802.8,1105 791.5,1082.7" fill="#757575"/>
<rect x="283.3" y="1031.8" width="126.6" height="77" rx="38.5" fill="#935020" stroke="#512B10" stroke-width="4.2"/>
<text x="315.5" y="1082" font-size="35.5" textLength="67.5" lengthAdjust="spacingAndGlyphs" fill="#fff">ATP</text>
<path d="M-5,901.9 H539 V1825.9 H-5" fill="none" stroke="#484647" stroke-width="5.8"/>
</svg>
</body></html>
